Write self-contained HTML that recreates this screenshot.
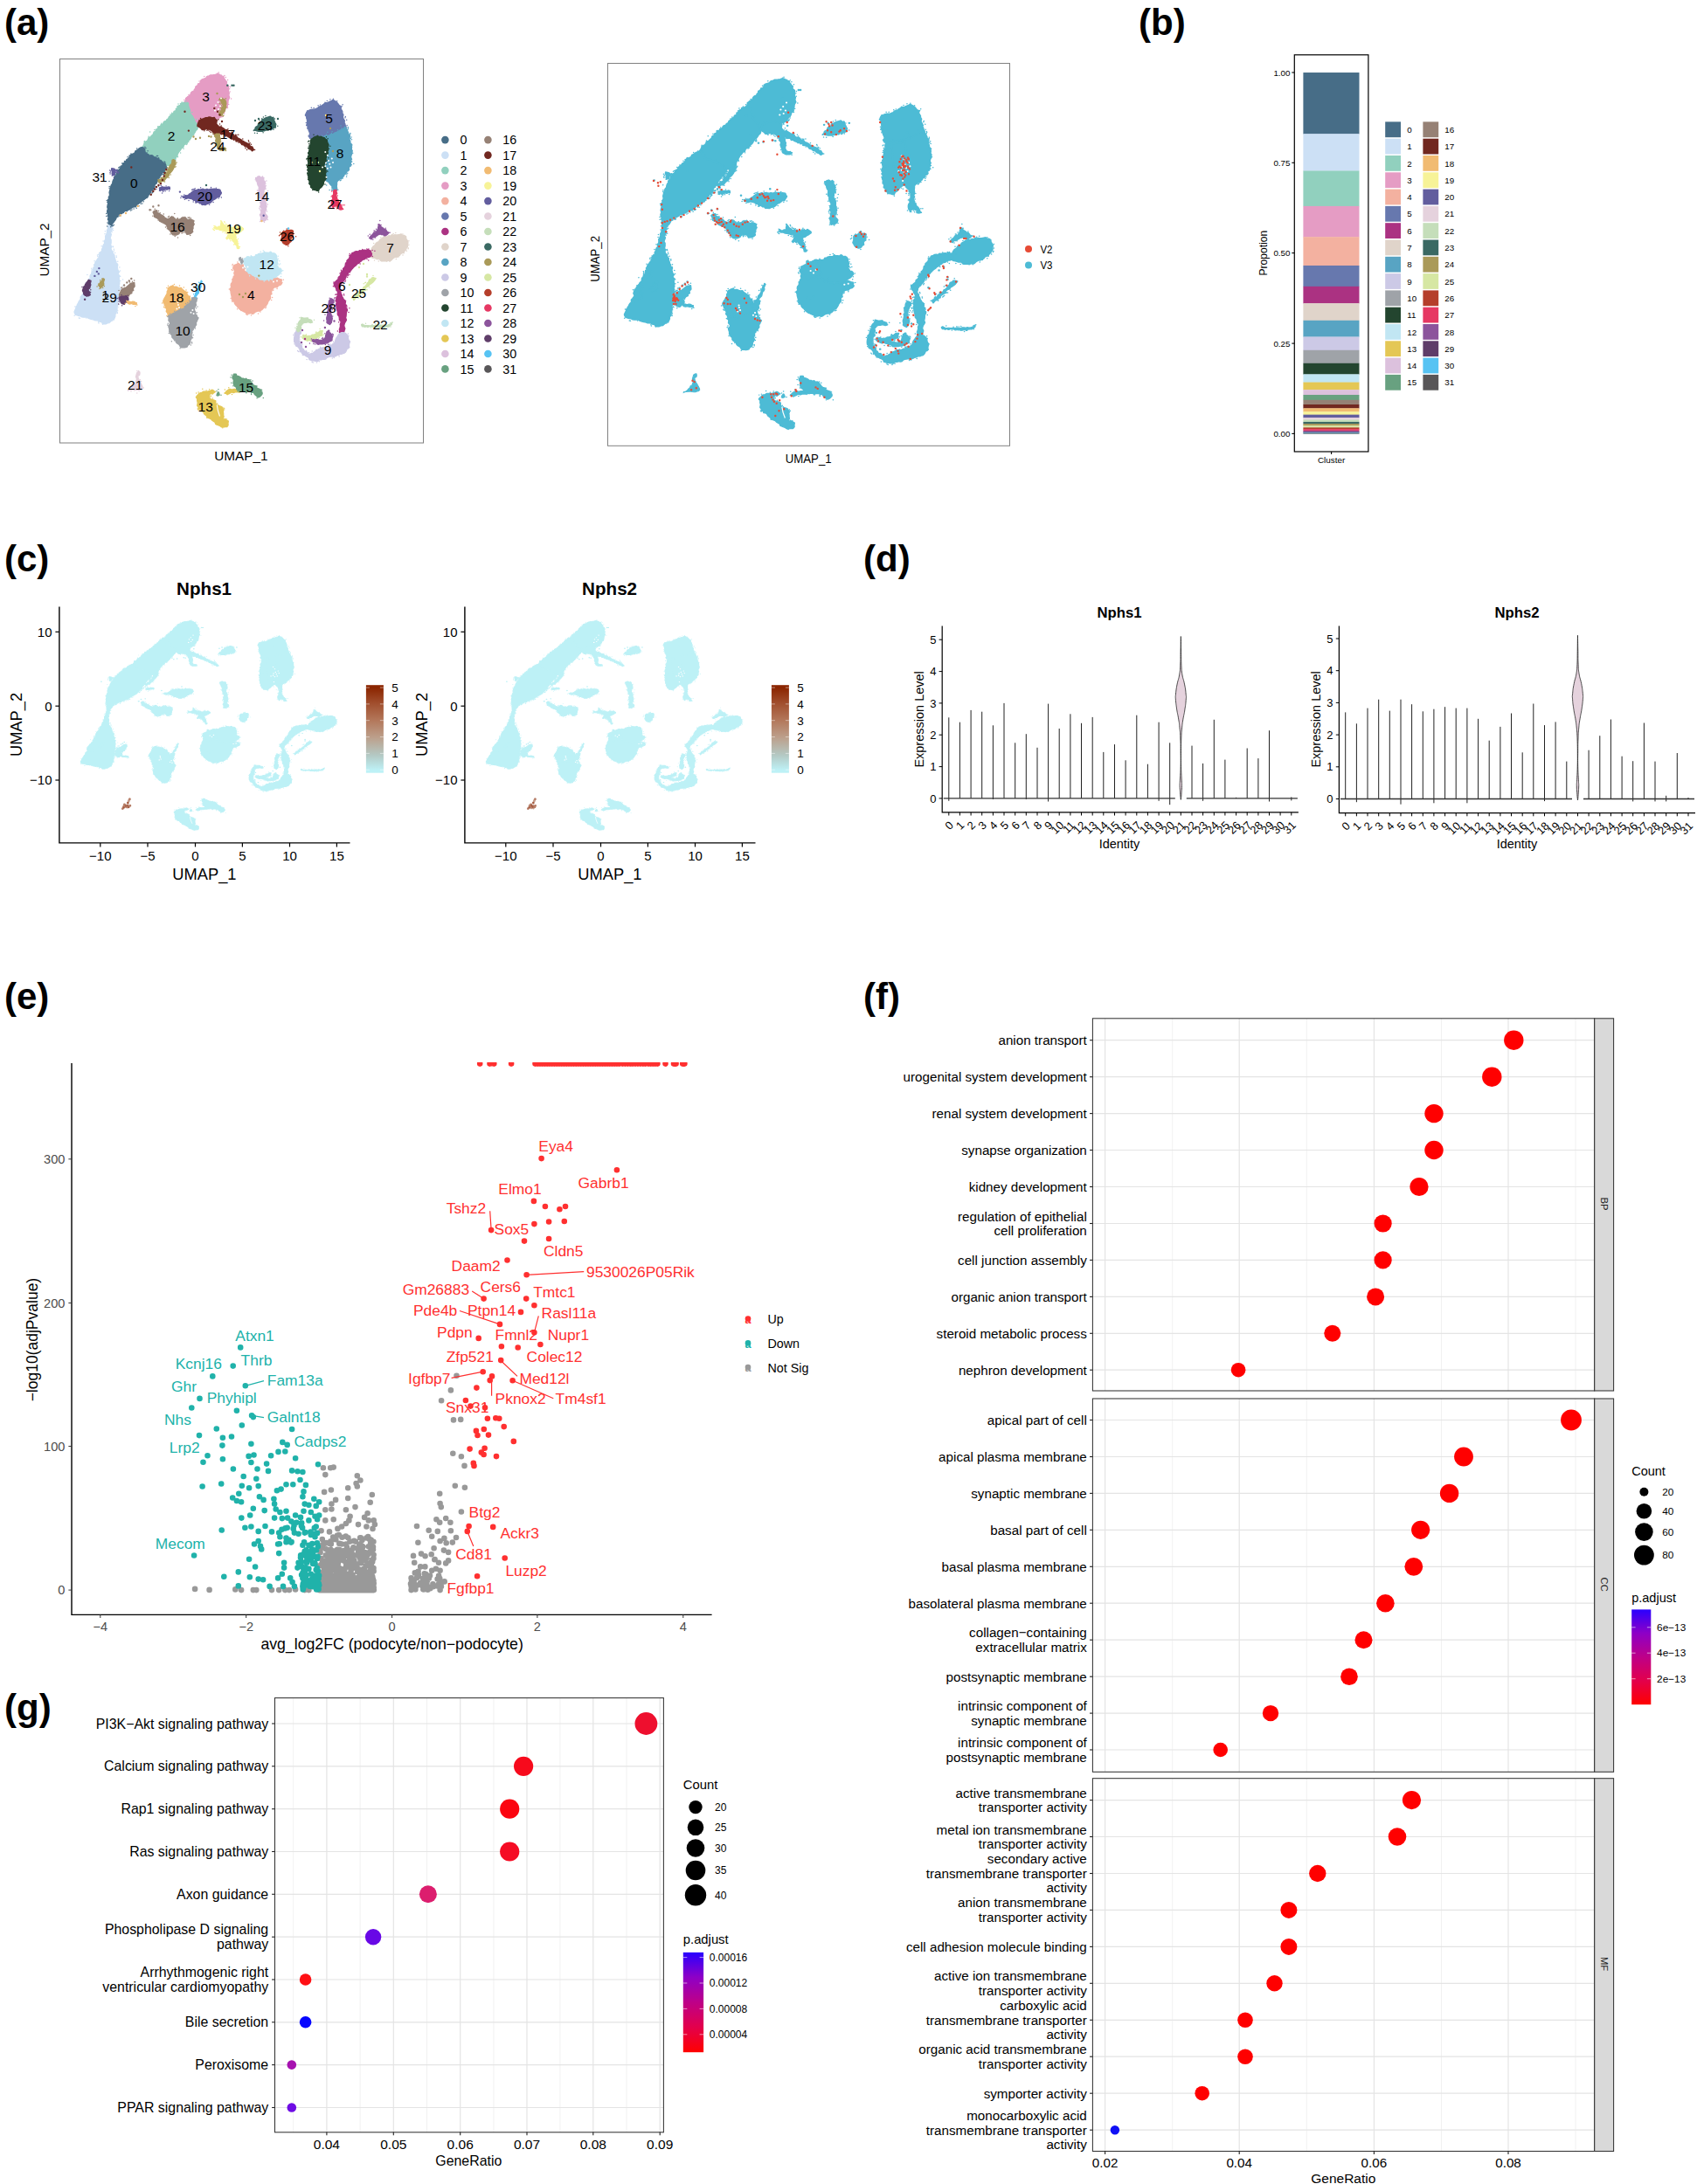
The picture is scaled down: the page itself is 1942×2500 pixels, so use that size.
<!DOCTYPE html>
<html><head><meta charset="utf-8"><title>Figure</title><style>html,body{margin:0;padding:0;background:#fff}svg{display:block}</style></head><body>
<svg width="1942" height="2500" viewBox="0 0 1942 2500" font-family="Liberation Sans, sans-serif">
<defs>
<path id="p0" d="M125.0 253.6l-0.6 1.3l0.1 1.5l-0.1 1.6l-0.7 1.7l-0.2 2.1l-1.1 2.1l0.2 2.2l-0.6 1.5l-0.5 1.4l-0.9 1.2l0.2 1.8l-0.1 2.1l-1.2 1.8l-0.0 1.6l0.3 1.3l-1.3 1.2l-0.5 1.5l-0.6 2.3l-0.9 1.7l0.2 1.9l-1.3 1.0l-0.9 1.1l-0.5 1.5l-0.5 1.6l-0.4 2.0l-1.5 1.9l-1.0 1.7l-1.1 1.4l-0.7 1.4l0.2 1.5l-1.1 1.1l0.4 1.6l-1.3 1.0l-0.2 1.6l0.0 2.0l-1.8 1.6l-0.3 2.1l-1.3 1.4l-0.4 1.6l0.4 1.6l-1.2 1.0l-1.0 1.0l0.3 1.7l-0.7 1.3l-1.5 1.3l0.2 2.3l-1.4 1.8l-0.3 1.9l-1.7 0.9l-0.3 1.4l-0.1 1.4l-0.0 1.5l-1.0 1.2l-1.0 1.5l-1.5 1.7l0.2 2.6l-1.4 1.5l-1.0 1.6l-0.5 1.6l-1.0 1.2l-0.3 1.5l-1.1 1.1l-0.1 1.5l-0.6 1.3l-1.3 2.9l0.1 1.0l0.7 1.3l0.6 1.3l2.7 0.8l1.5 0.4l1.5 0.3l1.5 0.9l1.6 0.3l1.9 -0.0l2.1 -0.2l2.1 1.5l2.0 0.7l1.8 0.5l1.6 0.3l1.5 0.6l1.3 0.4l1.6 -0.1l1.4 0.3l1.3 1.0l2.8 0.7l0.5 1.6l1.8 0.4l2.1 -0.0l1.7 -0.9l2.1 -0.3l1.7 -1.7l1.4 -1.2l1.2 -0.8l1.3 -0.7l0.7 -1.5l0.7 -2.0l-0.2 -2.1l1.2 -1.0l0.1 -1.4l0.5 -1.3l0.6 -1.8l-0.4 -2.7l1.0 -1.7l-0.6 -1.7l0.3 -1.5l1.1 -1.3l-0.5 -1.5l0.9 -1.5l-0.9 -1.7l0.2 -1.9l1.0 -2.1l-0.8 -2.2l1.0 -1.8l0.6 -1.5l-0.5 -1.5l0.3 -1.4l-0.9 -1.4l0.9 -1.5l-0.1 -1.7l-0.1 -2.0l-0.3 -2.4l-0.1 -1.9l0.8 -1.5l-1.5 -1.3l-0.2 -1.4l1.1 -1.9l-1.5 -2.0l-0.5 -2.0l-0.2 -1.7l0.5 -1.7l-0.2 -1.5l-1.7 -0.9l0.2 -1.6l-0.9 -1.3l-0.3 -1.8l-0.8 -2.5l-0.1 -2.0l-0.9 -1.3l-0.8 -1.3l-0.2 -1.7l-1.5 -1.2l-0.6 -2.5l1.1 -1.7l-1.3 -1.3l-0.0 -1.5l0.4 -1.6l0.0 -1.6l0.0 -1.8l-1.1 -2.0l0.8 -2.3l0.6 -2.0l-1.1 -2.1l1.2 -1.6l0.6 -1.6l-0.4 -1.7l0.1 -1.4l0.8 -1.3l-0.1 -1.3l-0.4 -1.2l-0.8 -3.2Z"/>
<path id="s0" d="M124.1 254.2h0M120.3 264.7h0M120.0 267.8h0M118.1 276.0h0M116.2 281.8h0M115.1 288.4h0M113.6 289.5h0M112.8 291.3h0M111.5 291.9h0M111.8 293.4h0M108.1 298.8h0M107.9 302.7h0M107.6 303.5h0M104.8 307.3h0M105.2 308.7h0M104.9 309.9h0M99.9 314.4h0M98.1 323.4h0M95.7 327.9h0M85.9 350.9h0M85.2 361.2h0M90.3 364.0h0M91.3 364.2h0M98.7 364.0h0M112.6 368.8h0M113.0 370.1h0M117.5 371.2h0M128.7 367.0h0M130.4 366.0h0M134.4 358.4h0M134.2 357.5h0M134.7 355.7h0M134.9 351.7h0M136.1 348.6h0M136.7 346.0h0M135.9 344.1h0M137.5 342.4h0M137.1 336.6h0M136.9 335.2h0M137.6 331.0h0M138.4 330.2h0M140.3 326.7h0M137.8 321.5h0M140.6 319.9h0M137.7 316.6h0M137.6 310.0h0M136.9 306.0h0M134.8 299.2h0M133.3 294.5h0M133.2 293.1h0M131.6 289.6h0M130.5 287.1h0M130.3 285.3h0M129.5 282.8h0M129.2 281.9h0M128.1 265.5h0M129.5 263.5h0M128.4 262.3h0M129.0 261.4h0M129.7 255.8h0" stroke-width="1.5" stroke-linecap="round" fill="none"/>
<path id="p1" d="M211.0 117.1l1.3 -1.7l0.3 -1.4l0.0 -1.5l1.2 -0.8l1.0 -1.1l1.4 -0.7l1.5 -1.1l0.7 -2.1l1.4 -1.8l2.1 -0.8l0.6 -1.8l1.3 -1.1l-0.0 -1.9l1.3 -0.9l1.2 -0.9l0.3 -1.6l1.8 -0.4l1.0 -1.2l0.3 -2.1l1.4 -1.2l2.4 -0.9l2.0 -0.6l1.0 -1.6l1.4 -0.8l1.4 -0.2l1.3 -0.9l1.6 -0.1l1.8 -0.1l2.5 -0.4l1.8 -0.7l1.4 0.1l1.5 0.4l1.7 1.3l1.6 0.7l1.5 0.5l0.1 1.9l1.1 0.9l0.7 1.6l1.6 1.7l-0.4 2.2l0.8 1.4l1.5 1.0l0.1 1.5l-0.3 1.5l0.3 1.5l-0.2 1.8l1.0 1.8l-0.5 2.2l0.3 1.6l0.6 1.4l-0.6 1.2l-0.7 1.2l-0.4 1.6l-0.1 2.1l-0.7 2.0l0.1 2.0l-0.9 1.4l-1.5 1.0l-0.3 1.7l-0.7 1.7l-1.6 1.4l-1.4 1.7l-0.7 1.4l-0.3 1.3l-1.0 0.9l-1.6 1.0l-2.6 0.9l-1.4 1.0l-1.6 0.8l-1.6 0.3l-1.5 1.2l-1.7 0.4l-1.8 -0.6l-1.8 -0.1l-1.4 0.9l-1.5 0.6l-1.5 0.6l-1.5 -0.1l-1.7 -0.3l-2.7 2.3l-0.6 -0.4l-0.4 -1.2l-1.5 -0.5l-0.3 -1.3l-0.1 -1.6l-1.2 -1.1l-0.9 -1.6l-1.2 -1.7l-0.7 -2.3l-0.5 -2.0l-2.2 -0.8l-0.1 -2.0l-1.0 -1.4l-0.9 -1.3l-1.0 -1.1l-0.6 -1.3l-0.9 -1.2l-0.2 -1.6Z"/>
<path id="s1" d="M210.9 114.6h0M216.0 108.5h0M218.9 106.1h0M228.1 93.0h0M233.8 87.4h0M249.0 83.9h0M250.3 83.0h0M253.1 85.9h0M256.9 86.6h0M258.3 88.4h0M260.6 91.5h0M263.3 99.4h0M262.7 101.7h0M263.1 105.1h0M264.6 113.0h0M261.7 119.4h0M260.5 123.6h0M256.6 128.4h0M256.7 130.0h0M255.2 132.9h0M254.5 133.5h0M253.3 133.8h0M250.2 137.3h0M245.5 139.7h0M231.1 142.7h0M230.0 141.9h0M223.7 144.2h0M221.7 138.9h0M219.9 138.6h0M213.8 129.6h0M212.5 125.4h0M209.5 123.3h0M209.9 121.9h0" stroke-width="1.5" stroke-linecap="round" fill="none"/>
<path id="p2" d="M211.5 117.8l1.3 0.1l1.8 -0.6l1.0 1.2l-0.4 1.9l0.7 1.5l0.5 1.8l0.9 1.9l0.1 2.1l0.6 2.0l0.9 1.9l1.7 1.7l0.7 1.8l1.0 1.3l0.4 1.5l0.4 1.3l0.7 1.0l1.0 1.1l0.6 1.5l0.6 2.2l0.2 1.7l-0.5 1.4l-1.5 1.2l-1.2 2.4l-1.0 1.5l-1.6 1.0l-0.5 1.5l-1.1 1.2l-0.6 1.5l-1.0 1.6l-1.6 1.2l-1.2 2.0l-1.9 1.4l-1.7 1.1l-0.7 1.6l-0.4 1.6l-1.8 0.5l-0.9 1.4l-0.9 1.4l-1.3 1.5l-1.1 2.1l-0.8 1.6l0.2 1.4l-1.3 0.8l-0.7 1.2l-0.4 2.3l-2.2 1.1l-1.3 1.5l-1.1 1.6l-1.4 1.1l-1.4 1.0l-1.7 0.0l-1.3 0.9l-1.6 -0.7l-1.5 -0.5l-0.2 -1.9l-1.0 -1.8l-2.1 -1.3l-1.5 -1.5l-1.0 -1.5l-1.4 -0.6l-1.6 -0.5l-2.1 -0.6l-1.9 -0.8l-1.7 -0.8l-1.7 0.6l-1.2 -1.5l-2.2 -0.1l-1.5 -1.9l-2.2 -0.1l-0.6 -1.7l-0.8 -1.3l0.3 -2.8l0.5 -1.3l0.8 -1.1l0.6 -1.3l0.4 -1.4l0.7 -1.2l1.4 -0.9l1.5 -0.8l0.8 -1.6l0.6 -1.9l2.1 -0.7l1.4 -1.6l1.7 -1.5l0.8 -2.5l2.0 -1.0l0.5 -2.1l1.9 -0.6l0.6 -1.5l1.0 -1.2l1.7 -0.3l0.2 -1.7l1.4 -0.5l1.3 -0.6l0.5 -1.7l1.0 -1.1l1.9 -0.4l0.8 -1.7l1.7 -1.0l0.9 -2.3l1.9 -1.2l1.2 -1.8l2.0 -1.1l0.6 -2.1l2.2 -0.7l0.0 -2.3l1.9 -0.7l0.3 -1.9l1.3 -0.9l1.6 -0.5l0.3 -1.6l1.1 -0.8l1.5 0.1l0.9 -0.8Z"/>
<path id="s2" d="M212.7 115.8h0M219.9 128.5h0M224.7 136.4h0M226.2 144.1h0M221.7 154.5h0M215.8 162.5h0M214.2 164.7h0M213.2 165.5h0M210.1 170.3h0M206.6 174.9h0M203.5 179.8h0M200.6 184.8h0M199.6 185.5h0M199.5 187.1h0M199.4 188.7h0M194.2 189.7h0M190.3 191.3h0M186.0 190.3h0M184.3 188.3h0M176.9 181.0h0M175.9 180.3h0M174.7 180.3h0M166.0 177.1h0M162.8 175.8h0M161.4 175.3h0M161.2 168.5h0M165.2 162.6h0M165.3 161.6h0M170.1 156.3h0M171.7 151.0h0M176.9 148.4h0M180.7 146.0h0M180.8 144.8h0M184.7 141.2h0M194.9 131.0h0M196.7 129.2h0M202.7 122.0h0M204.0 119.1h0M206.4 118.8h0M208.2 117.0h0" stroke-width="1.5" stroke-linecap="round" fill="none"/>
<path id="p3" d="M162.8 168.6l1.9 0.8l1.0 1.2l0.1 2.1l0.5 2.1l1.9 1.2l1.6 0.8l1.3 1.6l1.7 -0.7l1.7 0.2l1.7 1.8l2.2 0.2l1.2 1.3l1.5 0.4l1.1 1.2l2.1 0.8l1.5 1.8l1.5 1.3l1.7 0.4l0.6 1.4l0.4 1.8l0.8 1.5l-1.4 1.0l-0.4 1.3l-0.4 1.4l-0.6 1.5l-2.1 0.7l-0.7 1.9l-1.5 1.7l-1.2 1.6l-0.7 1.7l-1.0 1.2l-0.1 1.6l-1.2 0.9l-0.3 1.5l-1.4 0.9l-0.8 1.4l0.0 2.2l-1.4 2.1l-1.0 1.4l-1.7 0.5l-0.1 1.6l-1.2 1.0l-1.1 2.1l-1.6 1.4l-0.9 1.4l-1.0 1.1l-1.3 0.8l-1.1 1.0l-1.7 0.9l-1.6 1.7l-1.8 1.0l-1.3 1.1l-1.3 0.8l-0.9 1.2l-0.8 1.4l-1.9 -0.1l-1.6 0.7l-1.7 1.1l-1.8 1.4l-1.8 0.5l-1.2 1.3l-1.7 -0.5l-1.3 0.9l-1.3 1.1l-1.5 1.3l-2.6 0.4l-1.6 1.1l-0.2 2.1l-1.7 0.4l-0.5 1.6l-0.9 1.7l-1.6 2.1l-1.4 1.5l-0.6 1.2l-0.4 1.6l-1.6 -1.1l-1.9 -1.0l-0.1 -3.7l-0.9 -1.4l0.6 -1.5l-0.0 -1.3l-0.8 -1.3l0.7 -1.5l-1.0 -1.7l-0.2 -2.2l0.8 -2.5l-0.7 -2.0l0.3 -1.8l0.4 -1.7l0.4 -1.6l-0.5 -1.6l-0.0 -1.6l1.4 -1.4l-0.6 -1.7l1.2 -1.5l0.1 -1.8l-0.4 -2.0l0.6 -2.4l0.4 -1.8l0.5 -1.3l0.2 -1.1l0.3 -1.1l0.6 -1.2l1.0 -1.3l0.3 -2.3l0.7 -1.9l1.1 -1.4l-0.1 -1.7l0.7 -1.2l1.5 -0.8l0.2 -1.6l0.9 -1.4l0.5 -2.2l1.9 -1.7l1.3 -1.4l0.3 -2.0l1.7 -0.8l0.9 -1.2l0.2 -1.6l1.5 -0.6l0.8 -1.3l1.2 -0.8l0.6 -1.5l1.6 -0.8l1.3 -1.3l0.7 -2.1l1.8 -1.7l2.2 -0.8l1.8 -1.1l0.7 -2.1l1.5 -0.8l1.4 -0.8l1.0 -1.1l1.3 -0.6l1.2 -0.5Z"/>
<path id="s3" d="M165.9 168.2h0M166.9 169.4h0M169.1 172.7h0M168.0 174.8h0M179.4 178.6h0M180.6 178.4h0M181.2 180.8h0M181.9 181.3h0M188.0 184.9h0M188.9 185.8h0M191.0 192.4h0M189.4 197.5h0M187.6 197.4h0M187.9 199.2h0M186.7 199.8h0M184.2 203.2h0M181.3 213.0h0M175.2 218.9h0M174.6 220.4h0M173.9 221.0h0M172.2 222.5h0M169.5 225.2h0M168.2 226.6h0M164.2 230.7h0M162.8 233.1h0M161.2 233.2h0M159.0 235.7h0M156.2 238.2h0M153.1 238.9h0M150.9 240.1h0M149.7 241.0h0M141.3 243.5h0M137.9 247.0h0M136.5 247.0h0M130.3 257.6h0M129.2 258.4h0M128.0 258.8h0M126.7 259.7h0M122.7 259.1h0M124.1 256.2h0M123.0 254.9h0M121.8 247.4h0M121.7 244.5h0M122.8 231.4h0M122.2 229.4h0M125.1 215.2h0M125.2 213.6h0M125.0 207.6h0M131.6 199.4h0M132.7 197.8h0M134.2 194.3h0M135.7 191.9h0M136.7 191.2h0M139.6 187.0h0M142.4 184.6h0M146.1 179.7h0M148.1 178.1h0M149.6 177.5h0M150.0 175.9h0M156.7 169.9h0" stroke-width="1.5" stroke-linecap="round" fill="none"/>
<path id="p4" d="M350.7 128.8l1.0 -1.7l1.6 -0.4l1.3 -0.8l1.7 -0.5l2.2 -0.2l2.3 -0.2l1.5 -0.8l1.4 -0.6l1.4 -1.5l2.3 -0.6l1.6 -1.3l1.4 -1.0l1.2 -0.9l1.3 -0.7l1.9 0.2l1.4 -0.9l2.1 -0.9l1.2 -0.5l1.2 -1.0l1.7 0.5l1.7 1.1l1.3 0.9l1.2 1.4l1.5 2.2l1.9 1.0l-0.1 1.8l0.4 1.4l0.7 1.4l0.8 1.5l0.0 1.8l1.1 1.8l-0.6 2.6l0.6 1.7l0.8 1.5l0.7 1.3l-0.5 1.6l0.8 1.5l0.6 2.6l0.8 1.0l-0.1 1.4l-0.8 1.1l-1.3 0.5l-1.3 0.8l-1.7 1.0l-2.2 0.7l-2.2 0.0l-1.2 1.7l-1.5 0.5l-1.8 -0.3l-1.5 1.0l-2.0 0.5l-1.9 1.0l-1.3 1.1l-1.7 -0.0l-0.7 1.7l-1.8 0.1l-2.3 0.3l-1.4 -1.1l-1.8 -0.1l-2.0 -0.3l-2.5 0.2l-1.6 1.8l-1.8 0.6l-1.4 -0.8l-1.7 -0.2l-0.6 -1.5l-0.0 -1.7l0.6 -1.9l-0.5 -2.0l-0.9 -2.1l-0.5 -2.1l-0.7 -1.5l0.0 -1.5l-1.0 -1.2l0.6 -1.8l0.0 -2.1l-0.2 -2.1l-0.7 -1.8l0.2 -1.6l-1.5 -1.5l0.7 -1.5Z"/>
<path id="s4" d="M351.9 126.7h0M356.3 123.3h0M359.1 123.4h0M364.1 120.7h0M366.5 119.9h0M372.0 117.3h0M374.3 115.4h0M377.9 113.8h0M381.4 113.3h0M385.7 115.7h0M392.1 119.7h0M391.1 121.6h0M390.6 122.9h0M395.3 133.5h0M395.0 134.8h0M396.7 137.3h0M397.1 143.5h0M380.0 154.4h0M379.4 156.1h0M377.8 155.9h0M376.6 156.0h0M374.7 158.2h0M371.1 158.5h0M363.6 157.3h0M360.3 161.3h0M353.3 156.3h0M353.1 155.2h0M351.6 147.0h0M350.6 143.5h0M350.3 140.4h0" stroke-width="1.5" stroke-linecap="round" fill="none"/>
<path id="p5" d="M395.9 146.6l0.7 1.0l0.7 1.2l0.4 1.4l0.8 1.4l0.2 1.7l1.7 1.6l-0.2 2.1l-0.3 2.3l0.9 2.2l0.1 2.2l1.5 1.6l-0.3 1.6l0.5 1.3l-0.3 1.4l0.0 1.4l0.9 1.5l-0.4 1.8l-0.2 2.2l-1.0 2.1l0.1 1.9l0.8 1.7l-1.1 1.4l0.7 1.6l-1.0 1.3l0.4 1.7l-0.4 1.7l-1.8 1.4l0.1 2.5l-0.8 1.7l-1.7 0.7l-0.6 1.1l-0.3 1.6l-1.8 0.6l-0.7 1.9l-1.7 1.6l-0.9 1.7l-2.0 0.1l-1.0 1.2l-1.4 0.9l-1.0 1.8l-0.0 2.5l-0.3 1.9l0.3 1.7l0.1 1.7l-0.5 1.8l-2.9 -0.3l-0.7 -1.6l-1.5 -1.0l-0.0 -2.2l-1.7 -1.6l-1.3 -1.5l-0.6 -1.6l-1.5 -0.6l-1.6 -1.2l-1.3 -1.4l-0.9 -0.9l-1.7 -0.4l0.3 -2.8l-1.8 -1.3l0.8 -1.7l-0.0 -1.6l-1.3 -1.6l1.1 -1.7l-0.6 -2.0l0.2 -2.4l-0.9 -2.2l0.0 -1.8l0.2 -1.5l1.2 -1.4l-1.1 -1.5l0.9 -1.8l0.3 -2.2l-0.0 -2.4l-1.0 -1.9l0.0 -1.7l0.2 -1.6l0.4 -1.6l-1.0 -1.6l1.1 -1.8l-0.1 -3.0l-0.1 -1.3l0.3 -2.3l2.1 0.0l0.7 -1.7l1.6 -0.2l1.7 -0.0l2.0 -0.1l1.8 -1.6l2.4 0.1l1.4 -1.1l1.4 -0.9l1.4 -0.5l1.5 -0.7l1.7 -0.9l2.0 -1.2l2.1 -0.9l1.4 -0.8l0.9 -1.6Z"/>
<path id="s5" d="M398.2 145.6h0M398.4 146.7h0M398.1 148.0h0M400.9 152.4h0M400.8 153.6h0M402.1 157.1h0M401.3 158.6h0M402.5 159.8h0M402.9 165.9h0M403.7 175.2h0M402.7 185.0h0M404.8 187.4h0M402.3 188.8h0M400.8 190.6h0M399.5 194.5h0M397.7 198.2h0M396.9 199.9h0M396.6 202.3h0M392.3 204.1h0M390.0 206.3h0M389.2 206.7h0M386.8 217.3h0M380.7 217.9h0M379.7 217.2h0M377.1 217.4h0M373.7 212.1h0M370.3 205.5h0M366.3 204.7h0M366.8 197.9h0M366.8 191.7h0M367.1 190.4h0M367.2 180.1h0M366.1 179.0h0M367.2 173.9h0M365.3 171.7h0M366.0 167.0h0M365.9 165.0h0M368.3 155.3h0M373.5 154.1h0M374.9 151.3h0M379.4 152.6h0M380.1 150.8h0M386.5 148.7h0M391.0 146.8h0M390.0 144.1h0" stroke-width="1.5" stroke-linecap="round" fill="none"/>
<path id="p6" d="M356.3 159.3l1.5 -1.0l1.4 -1.1l1.9 -0.8l2.3 -0.7l2.4 0.9l1.7 -0.3l1.5 0.9l2.1 0.4l1.4 1.7l1.7 0.8l0.2 2.0l0.8 2.0l0.8 1.8l-0.3 1.5l-0.6 1.6l0.4 2.5l-0.8 1.8l-0.6 1.6l0.6 1.6l-1.0 1.4l-0.1 1.6l-0.6 1.9l0.1 2.5l-0.3 1.5l-1.5 1.2l-0.3 2.4l0.7 1.8l0.8 1.4l0.2 1.4l-0.3 1.7l0.8 1.6l-0.9 2.1l0.5 2.0l0.4 1.8l-0.9 1.3l0.1 1.6l-1.3 1.2l-0.7 1.8l-0.3 2.4l-1.1 1.6l-0.9 1.2l-1.2 1.1l-1.4 0.9l-1.0 2.6l-1.7 -0.1l-1.8 -0.8l-2.1 -0.2l-1.2 -1.4l-2.2 -1.7l0.2 -2.1l-1.0 -0.9l-1.0 -1.2l0.5 -2.0l-1.0 -2.8l-0.4 -1.6l0.2 -1.7l-0.7 -1.4l-0.0 -1.4l0.8 -1.6l-0.3 -1.4l-1.1 -1.6l1.1 -1.7l-1.2 -1.8l0.5 -2.1l0.8 -2.3l-0.3 -1.9l-0.4 -1.7l0.2 -1.5l0.2 -1.4l-0.2 -1.4l1.5 -1.3l-1.3 -1.8l0.8 -1.7l0.7 -2.5l-0.3 -2.0l1.1 -1.3l-0.9 -1.4l1.3 -1.2l0.1 -1.6l-0.2 -2.5l0.3 -1.0Z"/>
<path id="s6" d="M359.0 154.3h0M363.4 155.3h0M373.4 156.8h0M375.1 158.8h0M377.9 167.3h0M376.5 170.2h0M375.5 172.7h0M375.4 174.8h0M375.3 175.7h0M375.9 180.8h0M374.9 183.5h0M373.7 187.8h0M373.8 195.3h0M374.9 196.3h0M373.5 204.4h0M372.0 210.9h0M364.7 220.0h0M357.8 217.5h0M352.6 205.4h0M351.7 198.7h0M351.9 197.8h0M350.7 189.0h0M350.8 182.1h0M351.6 181.3h0M352.6 175.0h0M352.7 169.8h0M353.2 168.0h0M353.7 164.8h0M352.7 162.2h0M353.4 161.3h0" stroke-width="1.5" stroke-linecap="round" fill="none"/>
<path id="p7" d="M382.2 217.6l2.9 -0.2l-0.3 1.9l0.7 1.8l-0.9 2.0l0.4 2.2l0.8 1.7l-0.2 1.4l1.3 0.9l0.5 2.2l1.6 1.5l1.2 1.6l0.7 1.8l0.4 1.7l1.4 1.3l-2.9 0.7l-1.1 -1.6l-0.8 -1.6l-1.6 -0.9l-1.5 -0.5l-2.6 0.7l-1.1 2.3l-0.3 -1.8l-1.1 -1.2l-0.4 -1.9l-0.1 -2.1l0.5 -2.2l1.2 -1.5l-0.4 -2.6l1.0 -2.1l0.3 -2.0l-0.2 -1.8Z"/>
<path id="s7" d="M385.6 221.6h0M386.2 223.9h0M386.9 228.7h0M392.3 234.8h0M394.1 234.8h0M388.3 239.7h0M387.6 238.7h0M385.7 238.8h0M384.9 237.1h0M382.3 238.5h0M378.4 236.9h0M379.2 225.0h0M380.2 223.8h0M379.6 219.1h0" stroke-width="1.5" stroke-linecap="round" fill="none"/>
<path id="p8" d="M290.6 149.1l1.2 -1.2l0.6 -2.3l2.6 -1.5l0.6 -2.4l1.1 -1.3l2.3 -0.9l0.7 -2.5l1.8 -0.5l2.0 -1.3l2.0 -0.8l1.9 -0.6l1.9 -0.6l1.5 1.2l2.1 0.4l0.3 1.9l0.9 2.0l0.9 2.0l0.8 1.6l-0.4 1.5l-0.3 1.8l-2.6 1.4l-1.9 0.5l-2.1 -0.4l-1.4 1.9l-2.4 -0.2l-1.8 0.9l-1.3 0.0l-1.2 0.7l-1.9 -0.4l-2.4 0.3l-2.2 -0.4l-1.6 -0.7Z"/>
<path id="s8" d="M290.3 149.4h0M296.9 137.5h0M299.8 135.7h0M301.4 134.1h0M303.9 132.6h0M312.5 134.2h0M314.4 136.1h0M317.8 144.3h0M315.4 146.1h0M313.0 148.3h0M310.7 148.6h0M309.6 148.7h0M301.1 151.7h0M294.3 152.6h0M291.5 152.3h0" stroke-width="1.5" stroke-linecap="round" fill="none"/>
<path id="p9" d="M293.7 204.0l1.1 -1.7l2.0 -0.5l1.9 1.5l2.2 -0.5l0.6 1.7l0.4 2.2l1.7 1.5l-0.6 1.7l-0.1 1.8l0.7 2.4l-0.7 2.1l-0.9 1.5l0.1 1.7l-0.5 2.1l1.2 2.1l0.3 1.5l0.8 1.6l0.0 2.3l-0.1 2.3l0.8 1.6l-0.1 1.6l0.6 2.0l-0.8 1.9l0.4 1.7l-0.8 1.1l-0.7 1.6l0.5 2.2l1.3 1.2l1.1 1.6l-0.5 2.3l-1.4 1.7l-2.2 1.4l-2.0 -0.8l-1.7 -0.4l0.4 -2.0l-0.3 -2.2l-1.0 -1.8l0.9 -1.4l0.7 -1.4l-0.4 -1.7l0.5 -1.8l0.2 -1.3l-1.5 -1.8l0.8 -2.0l-0.5 -1.7l0.9 -1.6l0.4 -2.3l-1.2 -2.1l-0.7 -1.4l-0.3 -1.7l0.1 -2.3l-1.2 -1.9l-0.2 -1.5l0.3 -1.7l0.2 -2.5l-1.2 -1.8l-0.6 -1.9l-0.2 -1.8l-1.2 -1.4l0.5 -1.6Z"/>
<path id="s9" d="M300.4 202.1h0M302.0 203.8h0M304.9 207.0h0M303.9 210.4h0M304.4 212.7h0M303.9 215.5h0M303.9 216.7h0M306.6 218.4h0M305.8 222.3h0M303.8 223.5h0M303.6 225.4h0M305.5 225.8h0M306.4 234.1h0M305.5 241.9h0M306.4 251.5h0M302.5 254.2h0M297.7 253.5h0M297.3 240.1h0M296.8 238.2h0M297.4 236.6h0M297.6 231.4h0M296.2 226.2h0M296.1 219.3h0M294.4 218.0h0M292.3 205.7h0" stroke-width="1.5" stroke-linecap="round" fill="none"/>
<path id="p10" d="M322.6 267.1l1.2 -1.9l2.7 -0.5l1.8 -1.3l2.2 0.2l1.7 -0.2l1.5 0.0l1.8 1.0l-0.4 2.0l-0.0 2.7l-0.2 2.0l-1.5 1.4l-0.7 1.5l0.4 2.4l-2.0 1.4l-0.5 1.2l-1.2 1.0l-1.9 0.4l-1.5 -1.0l-1.7 -0.8l-0.9 -1.4l-0.5 -1.2l-1.1 -1.9l0.6 -2.0l0.2 -1.7l0.1 -1.6Z"/>
<path id="s10" d="M320.5 266.1h0M324.7 264.3h0M328.2 262.1h0M336.3 267.5h0M338.6 270.8h0M335.1 271.4h0M329.9 281.8h0M319.5 269.8h0M320.5 268.7h0" stroke-width="1.5" stroke-linecap="round" fill="none"/>
<path id="p11" d="M95.2 330.3l0.6 -1.9l1.3 -1.0l0.6 -2.1l1.4 -1.9l1.2 -1.4l1.1 -1.6l2.6 1.1l-0.2 1.3l-0.5 1.4l0.5 1.9l-0.7 1.8l-0.4 2.1l-1.6 1.0l0.1 1.9l1.6 1.6l-0.0 2.3l0.6 0.6l-2.0 1.4l-1.6 -0.3l-2.1 -0.1l-1.8 -1.5l-0.4 -2.3l-1.0 -1.9Z"/>
<path id="s11" d="M94.0 328.6h0M103.8 331.8h0M103.6 334.4h0M99.2 339.3h0" stroke-width="1.5" stroke-linecap="round" fill="none"/>
<path id="p12" d="M136.5 337.8l0.5 -1.5l0.7 -1.4l0.9 -2.5l1.1 -1.4l1.6 -0.5l1.1 -1.0l1.7 -0.2l1.4 -1.3l2.0 -1.8l1.3 -1.2l1.6 -0.8l3.3 -0.7l0.2 2.1l0.2 2.2l-1.8 2.3l0.4 2.4l-1.8 1.0l-0.1 2.0l-2.0 0.8l-1.3 1.8l-1.5 0.4l-2.1 0.0l-1.6 2.0l-1.6 0.4l-1.5 -1.2l-2.1 -0.1Z"/>
<path id="s12" d="M136.1 332.6h0M138.7 329.3h0M139.9 329.1h0M148.5 322.9h0M151.5 322.3h0M153.7 321.0h0M147.5 339.0h0M136.5 342.0h0" stroke-width="1.5" stroke-linecap="round" fill="none"/>
<path id="p13" d="M136.2 340.1l1.8 -0.3l2.0 -0.5l2.0 0.0l2.2 -0.7l2.3 1.6l0.5 2.6l-0.9 2.3l-2.3 1.1l-1.5 2.1l-2.0 -0.5l-1.8 -1.2l-1.0 -2.4l-1.3 -2.2Z"/>
<path id="s13" d="M139.0 337.7h0M146.3 338.2h0M145.6 346.3h0M139.6 349.8h0M135.7 348.0h0M136.1 345.0h0M134.2 341.6h0" stroke-width="1.5" stroke-linecap="round" fill="none"/>
<path id="p14" d="M144.8 344.3l1.8 0.7l1.6 0.1l1.7 0.7l2.0 -0.7l1.8 0.3l1.4 1.1l1.2 0.1l-0.2 2.1l-1.7 -0.6l-1.9 0.2l-1.9 -0.9l-2.2 0.6l-1.8 -0.6l-0.8 -1.2Z"/>
<path id="s14" d="M156.9 349.1h0M154.9 350.4h0M143.3 347.3h0" stroke-width="1.5" stroke-linecap="round" fill="none"/>
<path id="p15" d="M113.4 327.4l-0.9 -1.4l1.9 -1.1l0.5 -2.4l2.2 -1.3l-0.2 -2.3l1.5 0.0l1.0 0.8l-0.4 1.5l-0.6 1.7l0.4 2.5l-1.1 2.0l-1.5 1.1l-1.0 1.4Z"/>
<path id="s15" d="M111.1 328.0h0M113.1 324.6h0M114.7 320.8h0M119.4 327.4h0M117.7 329.4h0M113.9 330.4h0" stroke-width="1.5" stroke-linecap="round" fill="none"/>
<path id="p16" d="M186.9 344.0l0.7 -1.4l0.6 -1.3l0.9 -1.4l1.1 -2.1l1.1 -1.9l-0.1 -2.1l1.0 -1.7l-0.0 -2.0l1.6 -1.3l1.9 -1.1l1.7 -0.5l1.8 1.2l2.3 -0.2l2.2 1.0l1.6 0.6l2.0 -0.3l1.4 1.9l1.7 1.2l1.3 1.1l1.7 0.8l0.7 2.0l1.2 2.1l1.3 1.1l0.9 1.7l0.8 2.1l-0.2 2.0l-1.5 0.8l-0.7 1.4l-1.8 1.4l-1.5 1.2l-1.3 0.9l-0.4 1.8l-1.6 1.6l-2.5 -0.3l-1.7 0.6l-1.7 0.5l-1.9 1.1l-1.9 1.7l-1.2 1.4l-1.7 1.0l-2.2 1.4l-2.1 0.1l-0.2 -2.0l-0.4 -1.7l-1.5 -1.9l0.5 -2.6l-1.3 -1.8l-0.0 -1.7l-1.2 -1.0l-0.1 -1.7l-1.3 -1.7Z"/>
<path id="s16" d="M190.9 329.5h0M192.5 327.2h0M198.0 326.8h0M199.4 325.6h0M205.5 326.9h0M210.3 328.9h0M213.0 332.0h0M214.7 334.5h0M217.3 338.9h0M217.5 340.0h0M215.9 352.1h0M213.8 351.5h0M209.7 355.1h0M205.0 356.6h0M204.0 356.5h0M200.5 359.3h0M199.4 360.6h0M195.4 362.1h0M190.9 361.6h0M188.2 352.0h0M187.6 351.2h0M185.6 347.0h0" stroke-width="1.5" stroke-linecap="round" fill="none"/>
<path id="p17" d="M192.8 361.5l1.4 -0.5l2.5 -0.1l1.1 -2.0l1.8 -0.7l2.0 -1.4l1.9 -0.8l1.6 -1.2l1.6 -0.6l2.2 -0.4l2.0 -0.8l0.6 -1.7l1.2 -0.9l1.1 -1.6l2.0 -0.8l1.1 -0.8l0.8 -2.0l2.1 -1.5l-0.2 -2.6l2.1 -0.4l1.9 -0.4l2.1 1.0l-0.6 1.7l-0.1 1.7l-1.2 1.8l0.6 2.6l-1.0 2.0l-1.0 1.5l0.0 1.7l0.7 2.1l0.8 1.6l-0.2 2.0l1.5 0.8l0.1 1.7l1.7 1.4l-1.1 2.2l-0.5 1.4l-1.0 1.5l0.2 2.8l-1.3 1.5l-0.3 1.6l-1.7 0.6l-0.1 1.7l-1.6 1.6l0.4 2.2l-0.8 1.6l-0.2 1.5l0.8 1.7l-0.9 2.0l-1.2 1.8l0.1 1.8l-0.4 1.4l-0.7 1.4l-1.7 0.8l-1.0 2.1l-1.7 0.4l-1.4 0.4l-1.9 -0.2l-2.1 0.0l-0.9 -1.6l-1.0 -1.7l-2.4 -1.4l-1.3 -1.6l-0.5 -1.9l-1.4 -1.0l-1.3 -1.1l-1.2 -1.3l-0.1 -2.3l-1.6 -1.6l-0.6 -1.5l-0.8 -1.0l0.1 -1.5l-0.2 -1.8l-0.7 -2.1l-0.1 -1.7l1.7 -1.4l-0.0 -2.2l-1.7 -2.2l0.3 -2.1l-0.2 -1.7Z"/>
<path id="s17" d="M194.7 359.3h0M196.2 359.5h0M199.7 356.3h0M206.2 353.2h0M211.4 350.7h0M212.6 347.6h0M214.8 346.4h0M216.6 344.3h0M219.6 341.1h0M226.0 350.9h0M224.6 352.8h0M225.3 357.7h0M223.3 375.9h0M221.1 383.5h0M220.6 386.8h0M219.6 391.8h0M219.7 393.0h0M218.4 394.9h0M206.1 398.7h0M199.5 389.8h0M196.4 390.7h0M193.3 381.6h0M191.6 371.9h0M192.3 370.2h0M191.8 362.4h0" stroke-width="1.5" stroke-linecap="round" fill="none"/>
<path id="p18" d="M222.4 339.3l1.0 -1.3l0.1 -1.4l0.6 -1.5l1.3 -1.4l1.1 -2.2l0.7 -2.0l0.7 -1.9l0.4 -1.9l0.5 -1.7l1.2 -1.2l0.2 -1.6l1.0 1.0l-0.5 1.0l-0.5 1.3l-0.6 1.4l0.5 1.9l-0.6 1.7l-1.4 1.4l-0.4 1.9l-0.5 2.7l-1.4 1.6l-0.9 1.1l-0.4 0.9Z"/>
<path id="s18" d="M221.6 336.8h0M224.5 329.3h0M226.3 328.7h0M226.6 327.5h0M227.6 323.2h0M224.6 341.0h0" stroke-width="1.5" stroke-linecap="round" fill="none"/>
<path id="p19" d="M156.7 426.7l1.5 -1.1l1.4 -0.2l0.4 1.4l-0.3 2.3l-2.0 1.2l0.4 2.5l0.6 1.3l0.6 1.5l0.9 1.4l0.8 1.6l0.8 1.6l1.1 2.3l0.1 1.7l-1.4 1.4l-1.4 0.1l-1.5 0.7l-1.8 0.2l-1.8 -0.3l-1.8 -0.5l-1.8 0.3l-3.0 0.2l-1.6 0.5l-0.5 0.3l0.2 -1.0l1.8 -0.2l1.7 -1.2l1.3 -2.0l1.6 -1.4l0.5 -1.7l1.6 -1.0l0.7 -1.9l0.5 -2.0l0.2 -1.4l-1.0 -1.8l0.5 -2.0l0.4 -1.5Z"/>
<path id="s19" d="M156.9 424.4h0M158.6 424.4h0M160.3 434.8h0M161.6 436.4h0M164.3 443.9h0M159.1 447.5h0M156.8 450.0h0M153.7 447.0h0M150.0 447.9h0M147.8 445.0h0M148.3 443.5h0M151.0 439.5h0M152.7 438.6h0" stroke-width="1.5" stroke-linecap="round" fill="none"/>
<path id="p20" d="M226.8 451.7l1.0 -1.3l1.4 -0.6l1.6 -0.2l1.8 -1.4l2.5 0.1l2.2 -0.1l1.9 -0.4l1.7 -0.7l1.6 -0.8l1.4 0.3l0.7 0.9l1.7 0.9l-2.3 1.8l-2.3 0.0l-1.7 1.2l-0.7 1.2l0.2 1.5l0.7 2.3l2.4 0.9l2.4 0.8l1.8 0.9l-0.1 1.3l0.1 1.6l1.2 1.5l0.8 1.4l1.9 -0.2l1.7 0.5l1.6 0.8l0.8 1.8l1.2 1.6l-0.7 1.8l0.3 2.0l0.0 1.9l0.3 2.1l-0.7 1.6l0.7 1.7l2.1 0.2l1.7 0.5l1.6 1.1l-0.4 2.4l0.2 2.1l-1.3 1.8l-1.7 -0.1l-1.3 0.3l-1.6 0.1l-1.9 -0.0l-1.9 -1.5l-1.8 -0.6l-1.5 -0.7l-1.4 -0.6l-0.5 -1.9l-1.5 -1.1l-2.0 -1.3l-1.3 -1.6l-1.7 -0.6l-1.3 -0.6l-1.3 -0.6l-0.6 -1.5l-1.2 -1.1l-1.5 -1.2l-1.1 -2.2l-1.5 -1.0l-1.9 -0.2l-0.1 -1.8l-2.0 -0.4l-0.1 -2.1l-1.4 -1.9l0.3 -1.8l0.3 -1.5l-0.6 -2.2l0.1 -2.3l-1.4 -1.8l1.1 -1.6Z"/>
<path id="s20" d="M224.6 449.9h0M227.1 448.9h0M231.8 445.3h0M236.1 447.1h0M239.6 445.7h0M243.0 451.3h0M241.1 452.9h0M241.2 453.9h0M243.4 456.0h0M248.7 462.1h0M249.7 463.7h0M255.9 466.9h0M256.8 468.1h0M255.8 476.4h0M257.0 479.3h0M257.8 480.1h0M259.1 479.8h0M254.8 489.7h0M236.9 478.2h0M226.8 469.0h0M226.2 468.1h0" stroke-width="1.5" stroke-linecap="round" fill="none"/>
<path id="p21" d="M257.0 450.1l1.3 -1.2l1.0 -1.3l2.0 -1.4l1.7 -0.9l1.9 0.6l1.7 -0.1l1.8 -0.4l1.6 0.2l2.9 0.8l0.2 2.1l-1.8 0.2l-1.8 -0.1l-2.1 1.0l-2.5 -0.7l-1.9 1.4l-1.5 0.6l-1.3 0.8l-1.1 -1.1Z"/>
<path id="s21" d="M257.3 446.0h0M261.8 443.7h0M269.4 441.3h0M272.7 444.9h0M273.8 449.2h0M265.5 451.4h0" stroke-width="1.5" stroke-linecap="round" fill="none"/>
<path id="p22" d="M266.9 430.3l0.6 -2.2l2.7 -0.0l0.7 2.1l2.0 0.4l2.4 1.3l1.3 1.3l1.7 -0.1l1.5 1.0l1.8 -0.8l1.4 1.5l2.1 -0.1l1.6 1.5l0.7 1.4l1.0 0.8l0.8 1.6l1.9 1.5l2.1 0.5l0.7 2.1l1.6 0.7l1.6 0.7l1.3 0.8l0.3 1.7l1.2 0.8l0.2 2.1l-1.0 1.3l-1.5 1.7l-2.0 1.0l-1.3 -1.0l-1.3 -1.2l-1.6 -1.2l-1.0 -2.1l-2.1 0.0l-0.9 -0.8l-2.3 -0.5l-1.8 0.2l-1.7 0.7l-1.6 -1.2l-1.6 0.1l-1.8 0.5l-1.8 -0.3l-2.2 -1.8l-1.8 -0.6l-0.3 -2.4l-2.1 -1.3l-0.9 -2.0l-0.5 -1.7l0.3 -1.5l0.2 -1.9l-1.3 -1.9l-0.3 -1.6Z"/>
<path id="s22" d="M265.1 429.3h0M286.9 434.7h0M289.0 435.9h0M294.0 441.9h0M299.0 445.9h0M299.6 446.7h0M301.3 455.5h0M294.1 455.7h0M287.6 451.4h0M287.5 450.1h0M281.9 449.7h0M274.7 448.4h0M272.8 448.6h0M271.9 447.3h0M266.9 441.7h0M264.8 438.2h0M264.0 432.1h0" stroke-width="1.5" stroke-linecap="round" fill="none"/>
<path id="p23" d="M248.7 450.3l1.3 -1.5l0.7 1.3l0.4 2.0l-1.7 0.9l-1.4 -0.4Z"/>
<path id="s23" d="M248.0 447.8h0M249.9 445.8h0M253.0 452.2h0" stroke-width="1.5" stroke-linecap="round" fill="none"/>
<path id="p24" d="M244.7 260.6l0.4 0.0l1.4 -1.1l2.2 1.1l2.0 -1.5l2.0 -0.1l-0.0 -2.5l0.5 -2.3l-0.4 -1.5l0.9 1.1l0.8 1.3l1.1 1.8l1.9 1.1l1.1 1.5l1.1 0.7l1.7 -1.0l2.4 0.8l1.9 0.7l1.9 -0.4l1.8 -0.6l1.8 -0.4l1.9 0.8l1.6 -1.4l1.4 1.1l2.2 1.8l0.1 1.2l-1.4 1.0l-1.5 1.3l-1.8 1.1l-1.7 1.4l-1.8 0.1l-0.8 2.2l0.9 1.7l-0.6 1.8l1.6 1.3l0.6 1.7l-0.2 2.0l0.4 1.8l1.3 3.0l0.4 0.8l-1.2 0.5l-1.2 -0.4l-0.2 -1.8l-0.5 -1.6l-1.9 -1.0l-0.4 -1.9l-1.3 -1.2l-1.4 -1.8l-0.5 -1.1l-1.4 -0.9l-2.1 -0.6l-1.9 1.5l-1.0 -1.2l1.0 -1.0l0.8 -1.7l0.7 -1.9l-0.4 -1.5l-0.6 -1.3l-1.8 0.0l-2.0 -0.8l-2.7 -0.7l-2.1 -0.3l-1.9 -1.1l-2.1 0.1l-1.6 -0.6l-0.9 -1.0Z"/>
<path id="s24" d="M245.0 258.4h0M246.2 258.9h0M256.8 253.7h0M257.2 254.8h0M258.7 256.5h0M259.0 258.1h0M260.2 257.5h0M261.0 258.5h0M262.2 257.8h0M263.9 259.2h0M269.2 258.7h0M270.1 257.4h0M271.3 258.6h0M272.5 273.4h0M272.8 278.8h0M274.5 282.6h0M267.6 279.9h0M263.9 275.7h0M263.5 274.1h0M262.5 273.5h0M259.4 267.6h0M259.8 267.2h0M257.7 266.7h0M255.0 265.8h0M245.4 263.6h0M244.5 262.9h0M243.8 262.0h0" stroke-width="1.5" stroke-linecap="round" fill="none"/>
<path id="p25" d="M267.9 303.7l1.8 -0.7l1.4 -0.7l1.6 -1.0l1.7 1.3l1.8 0.1l2.3 0.5l-0.4 2.5l2.2 1.6l1.1 1.5l0.8 1.2l0.9 1.3l2.2 0.7l1.1 1.8l1.2 0.9l1.5 0.1l1.3 1.0l2.0 0.7l1.6 1.2l1.8 0.0l1.1 0.9l1.3 0.8l1.9 0.0l1.9 1.7l1.7 -0.5l1.5 -1.0l2.3 0.5l2.2 -0.5l1.6 -0.7l1.7 -0.4l1.9 0.2l2.3 -0.6l1.3 0.8l1.4 0.5l2.5 0.8l-0.5 2.3l0.6 2.1l-1.5 1.6l-2.5 0.9l-1.3 1.6l-1.7 0.1l-1.6 0.1l-1.4 1.2l-1.1 1.3l-0.5 1.2l-0.3 1.5l-0.0 2.4l-1.6 1.6l0.5 1.7l0.0 1.7l-1.0 1.5l-1.5 1.8l-0.6 1.8l-0.6 1.4l-0.9 1.1l-0.6 1.3l-1.6 0.7l-1.3 1.6l-1.4 1.6l-1.4 0.9l-1.3 0.9l-1.8 -0.1l-1.5 0.3l-1.7 0.8l-1.9 1.7l-1.6 0.6l-1.6 -1.0l-2.3 0.6l-2.1 -0.1l-1.4 -1.0l-1.5 -0.7l-1.6 -0.9l-2.1 -1.2l-1.8 -1.0l-1.2 -1.3l-1.1 -1.0l-0.8 -1.3l-1.4 -1.2l-1.3 -1.7l-0.5 -2.3l-2.0 -0.7l0.1 -1.8l-1.0 -1.2l0.0 -1.9l-0.5 -2.2l-0.5 -2.1l-0.1 -1.8l-0.6 -1.6l-0.1 -1.6l1.3 -1.5l-0.5 -1.9l0.2 -2.1l1.5 -2.0l0.2 -1.7l-0.2 -1.6l1.2 -1.0l0.0 -1.6l1.5 -1.9l-0.8 -2.4l0.8 -2.2l-0.8 -1.9l-1.1 -1.7l0.6 -1.6Z"/>
<path id="s25" d="M266.2 302.5h0M271.8 300.0h0M282.9 307.9h0M284.9 310.5h0M290.2 313.0h0M292.2 313.7h0M293.5 314.3h0M295.8 317.5h0M304.1 319.3h0M306.1 319.2h0M310.7 318.1h0M313.7 317.8h0M324.3 320.2h0M322.9 323.6h0M317.1 330.5h0M312.9 331.9h0M312.2 332.2h0M310.9 336.6h0M311.6 340.5h0M310.7 343.6h0M304.5 352.1h0M303.2 352.6h0M297.9 357.1h0M295.5 359.1h0M287.5 361.1h0M283.6 360.0h0M282.4 360.3h0M281.6 359.3h0M275.9 355.5h0M271.6 353.8h0M265.8 345.2h0M265.3 343.2h0M264.2 341.5h0M262.3 331.1h0M265.9 309.5h0M265.3 308.5h0M266.0 304.0h0" stroke-width="1.5" stroke-linecap="round" fill="none"/>
<path id="p26" d="M281.5 295.3l1.1 -1.3l1.7 -0.2l1.7 0.7l1.8 -0.9l2.3 0.6l1.9 -0.8l0.7 -1.7l1.6 0.0l1.2 -1.0l2.1 -0.5l1.9 -0.1l1.6 -0.3l1.4 -1.1l1.5 0.5l1.6 -0.1l1.8 0.4l2.8 -1.1l1.5 1.7l1.9 -0.3l1.7 1.1l1.1 1.8l0.2 1.4l0.2 2.3l1.0 1.7l-0.8 1.7l1.0 1.9l-1.5 1.6l1.3 1.6l0.9 2.0l1.9 0.2l1.3 1.4l0.4 2.1l-1.3 1.4l-1.1 1.7l-1.5 1.3l-1.4 0.9l-2.0 1.7l-2.1 0.3l-1.3 1.6l-2.0 -0.5l-2.0 1.4l-2.4 -0.7l-1.5 1.0l-1.6 -0.2l-2.1 -0.5l-2.0 0.1l-1.4 -0.7l-0.9 -1.4l-1.3 -1.0l-2.2 -0.1l-1.6 -1.3l-1.6 -0.5l-1.1 -1.1l-1.1 -1.0l-2.2 -0.0l-1.1 -2.1l-1.4 -1.0l0.3 -1.9l-0.5 -1.9l-1.0 -1.7l-0.6 -1.4l-1.0 -1.3l0.1 -1.7l0.0 -2.1l-0.0 -1.8Z"/>
<path id="s26" d="M287.3 292.8h0M298.2 287.9h0M301.2 286.9h0M302.4 287.9h0M309.2 288.2h0M318.2 293.3h0M318.2 296.2h0M319.8 298.7h0M320.7 302.1h0M319.1 302.9h0M323.8 309.7h0M322.0 313.5h0M321.5 316.5h0M311.4 320.6h0M307.8 321.4h0M302.2 321.9h0M292.5 319.1h0M285.6 315.8h0M281.9 310.6h0M279.8 306.9h0M275.8 302.6h0M278.1 297.6h0" stroke-width="1.5" stroke-linecap="round" fill="none"/>
<path id="p27" d="M274.0 295.1l1.4 -0.3l0.3 1.4l1.8 1.3l0.8 1.8l-0.7 1.4l-1.2 1.0l-0.9 -1.5l-0.2 -2.1l-1.6 -1.5Z"/>
<path id="s27" d="M277.6 296.0h0M273.8 298.1h0" stroke-width="1.5" stroke-linecap="round" fill="none"/>
<path id="p28" d="M423.2 288.6l0.6 -1.6l1.3 -1.0l0.4 -1.8l1.5 -2.1l1.6 -1.1l1.0 -1.3l0.7 -1.4l1.4 -0.9l1.8 -0.7l1.1 -2.2l1.9 -1.2l1.5 -1.2l1.6 -0.5l1.4 -0.9l2.1 0.6l1.8 -1.6l2.3 0.4l1.4 -1.6l1.6 0.9l1.4 -0.6l1.5 0.2l1.9 0.0l2.5 -0.6l1.8 -0.1l1.3 1.0l2.2 0.2l1.8 1.3l0.1 2.2l0.8 1.5l1.1 1.7l0.3 1.9l-0.5 1.0l0.2 2.3l-0.5 1.7l-1.1 1.2l-0.5 1.6l-1.5 1.3l-1.2 2.1l-2.3 0.6l-1.3 1.0l-0.8 1.4l-1.3 0.9l-1.5 1.0l-2.5 0.2l-1.9 1.1l-1.4 1.2l-1.2 1.3l-1.4 0.6l-1.9 -0.5l-1.8 1.1l-2.2 -0.7l-1.7 0.2l-1.7 0.0l-1.4 -0.8l-1.6 -1.6l-2.6 0.3l-1.8 -0.9l-1.5 -0.5l-1.8 -0.1l-1.9 -1.2l-0.0 -1.6l-0.7 -1.3Z"/>
<path id="s28" d="M423.4 286.7h0M427.7 278.6h0M435.8 271.8h0M438.9 271.2h0M440.2 269.6h0M450.1 267.4h0M452.8 266.6h0M458.9 268.0h0M460.9 268.1h0M467.9 275.7h0M467.9 280.3h0M467.4 283.9h0M467.1 284.8h0M465.4 287.3h0M462.2 289.7h0M461.0 292.1h0M456.1 293.9h0M453.3 296.5h0M446.0 299.2h0M436.7 298.8h0M435.8 298.5h0M433.3 298.9h0M428.5 298.1h0M423.4 294.0h0M421.1 292.0h0" stroke-width="1.5" stroke-linecap="round" fill="none"/>
<path id="p29" d="M400.1 293.8l0.8 -1.7l1.4 -0.8l0.5 -1.7l2.2 -0.8l1.6 -0.9l1.7 -0.3l1.6 0.5l1.5 -1.4l1.7 0.3l1.9 -0.5l2.6 -0.4l2.0 0.5l1.4 -1.1l1.5 0.9l1.6 0.9l0.6 1.7l0.7 1.6l-0.4 2.1l-1.4 0.9l-1.4 0.9l-1.7 0.0l-1.7 1.0l-1.6 1.3l-2.3 0.4l-1.4 1.7l-1.4 0.6l-0.7 1.2l-1.1 0.7l-1.6 0.6l-1.2 1.7l-1.8 1.2l-1.2 1.1l-0.9 1.2l-1.1 1.0l-0.9 1.5l-1.7 1.4l-1.6 1.6l-0.2 2.0l-1.9 0.4l-0.1 1.7l-0.7 1.7l-1.1 1.8l-1.5 1.6l-0.8 1.6l-1.3 0.9l-0.8 1.2l-0.9 1.3l-0.1 1.9l-0.8 2.1l0.7 1.6l1.1 1.2l0.1 1.9l1.1 2.0l0.4 2.2l1.1 1.3l0.4 1.5l1.7 1.2l0.7 2.4l-0.5 2.1l1.8 1.2l-1.0 1.7l0.3 1.3l1.3 1.3l0.1 1.7l-1.1 2.0l-0.1 2.0l-0.1 1.6l-0.2 1.4l-0.4 1.3l0.2 1.7l0.1 2.1l-1.3 2.0l-0.5 1.8l-0.3 1.5l0.5 1.6l0.6 1.5l-0.5 1.5l-0.8 2.9l-0.8 1.2l-2.5 0.8l-1.8 -2.2l0.4 -1.6l-0.2 -1.7l0.4 -1.6l0.5 -1.8l-0.2 -2.2l0.9 -2.2l-0.3 -1.6l-1.5 -1.1l0.0 -1.8l-0.3 -2.3l-1.5 -1.7l-0.3 -1.6l0.3 -1.6l-0.5 -1.3l-0.6 -1.6l-0.0 -2.1l-0.6 -2.0l-0.5 -1.6l0.6 -1.4l0.2 -1.4l-1.0 -1.7l0.6 -1.9l0.2 -2.2l1.4 -1.4l-0.5 -1.7l0.8 -1.4l-0.5 -1.9l-0.7 -1.8l-0.8 -1.4l-0.6 -1.5l-1.1 -1.0l-0.6 -1.8l-0.1 -1.8l0.9 -1.3l0.9 -1.0l1.2 -1.1l1.6 -1.2l0.4 -2.6l1.7 -1.2l0.8 -1.4l0.2 -1.7l0.4 -1.5l0.8 -1.2l1.6 -0.8l-0.2 -1.9l1.4 -1.2l1.2 -2.2l0.1 -1.8l0.3 -1.3l1.4 -0.8l-0.1 -1.8l1.6 -1.8l1.1 -0.9Z"/>
<path id="s29" d="M399.8 292.3h0M400.2 290.4h0M414.8 285.4h0M419.8 284.9h0M421.9 284.9h0M426.1 286.6h0M428.9 287.3h0M426.3 293.6h0M421.7 298.0h0M420.0 296.6h0M412.1 302.1h0M400.6 311.8h0M399.9 314.4h0M398.2 315.6h0M397.6 317.2h0M395.5 321.1h0M394.9 322.4h0M391.0 331.4h0M391.4 332.6h0M393.5 336.7h0M393.7 337.9h0M395.6 344.6h0M397.0 351.2h0M399.9 352.7h0M399.0 357.5h0M396.3 365.3h0M396.4 366.5h0M386.4 379.1h0M388.3 377.1h0M387.6 368.7h0M383.1 354.1h0M384.1 352.6h0M383.1 350.2h0M382.6 349.2h0M383.1 340.7h0M383.8 337.3h0M385.0 336.8h0M384.7 332.0h0M381.4 327.8h0M382.1 324.1h0M382.0 323.0h0M389.0 313.0h0M390.4 309.3h0" stroke-width="1.5" stroke-linecap="round" fill="none"/>
<path id="p30" d="M340.0 377.4l-0.8 1.2l-0.5 1.4l-1.5 1.5l0.1 2.3l-0.4 2.0l-0.2 1.5l-0.1 1.7l0.2 2.5l1.4 1.4l-0.1 1.8l0.7 1.3l1.7 0.6l1.2 1.3l1.2 1.7l0.5 2.3l1.5 1.1l0.7 1.5l1.1 1.1l1.6 0.7l1.7 1.2l2.2 1.0l1.3 1.1l0.4 1.9l1.5 0.6l2.0 0.7l1.9 0.1l1.6 0.3l1.4 -0.1l1.6 0.1l1.4 -1.5l2.2 0.1l2.0 -0.7l1.8 0.3l1.4 -0.4l1.1 -1.4l1.5 -0.8l2.1 -0.4l2.1 -0.5l1.9 0.4l1.3 -0.9l1.5 0.2l1.4 -1.0l1.9 -0.3l1.9 -1.2l1.8 0.1l1.2 -0.7l1.5 -0.3l1.6 -1.3l1.0 -1.9l0.5 -1.7l1.9 -0.7l0.6 -1.6l-0.1 -2.1l0.4 -2.2l0.7 -1.7l-1.4 -1.5l-0.6 -1.9l-0.1 -2.2l-0.8 -1.5l-1.0 -1.2l-1.3 -1.3l-2.4 -0.7l-1.9 -0.1l-2.0 1.0l-1.2 1.0l-0.9 1.2l-0.8 1.7l-1.4 1.8l-0.8 2.0l-0.3 1.5l-0.6 1.5l-1.8 1.3l-1.4 1.5l-1.8 0.1l-1.5 0.8l-1.9 0.5l-2.0 1.1l-2.2 0.5l-1.6 0.0l-1.5 -0.0l-1.4 1.0l-2.0 1.1l-2.1 0.4l-1.0 1.8l-1.6 0.7l-1.0 1.3l-1.7 0.0l-1.4 0.9l-2.3 -0.1l-0.9 -1.4l-1.7 -1.5l-2.2 -0.7l-0.7 -1.8l-1.7 -1.1l-0.2 -2.7l-1.4 -1.4l-0.4 -1.5l-1.3 -0.9l0.3 -1.6l-1.2 -1.8l1.2 -2.1l-0.2 -2.0l0.3 -1.8l1.7 -1.3l-0.1 -1.8l-2.2 -2.0Z"/>
<path id="s30" d="M335.8 383.6h0M337.0 393.8h0M340.6 401.5h0M341.5 402.5h0M343.2 402.7h0M346.4 406.4h0M347.8 406.4h0M351.1 411.5h0M357.1 414.2h0M358.2 415.1h0M362.5 415.0h0M363.2 413.4h0M365.3 413.7h0M380.3 410.0h0M382.2 409.5h0M382.9 408.3h0M388.1 408.0h0M399.8 397.6h0M398.9 384.6h0M398.4 381.9h0M381.5 391.0h0M378.0 394.0h0M376.4 394.8h0M370.0 397.4h0M366.6 397.3h0M357.2 401.9h0M353.5 403.5h0M350.6 401.8h0M345.8 394.3h0M345.1 392.4h0M343.3 390.9h0M342.9 388.7h0M346.8 385.0h0M341.1 374.6h0" stroke-width="1.5" stroke-linecap="round" fill="none"/>
<path id="p31" d="M339.3 377.6l0.3 -1.6l0.8 -1.5l0.9 -1.6l-0.2 -2.0l0.7 -1.8l0.9 -1.5l1.5 -1.2l0.6 -3.1l2.7 0.8l1.7 0.2l2.2 -0.3l1.9 1.3l1.8 0.6l1.6 0.7l0.1 1.2l0.8 1.1l-2.2 0.7l-2.9 -0.9l-2.3 0.7l-1.8 -0.0l-1.9 0.7l-1.0 1.5l-1.5 1.7l0.7 2.3l-0.5 1.9l-1.2 1.2l-2.0 1.1Z"/>
<path id="s31" d="M338.0 375.3h0M339.8 373.4h0M340.0 370.9h0M343.0 363.7h0M352.3 364.1h0M359.5 366.3h0" stroke-width="1.5" stroke-linecap="round" fill="none"/>
<path id="p32" d="M347.1 384.5l1.5 -0.3l1.4 0.0l1.6 0.9l1.8 -0.6l2.1 0.1l1.8 -1.4l2.2 -0.2l2.0 -0.6l1.1 -1.4l1.6 -0.4l1.1 -0.8l1.0 -1.2l3.0 0.0l-0.9 2.6l0.3 1.6l-1.0 1.4l-2.2 0.4l-2.0 1.3l-1.5 1.1l-1.4 0.8l-0.8 1.7l-1.5 0.7l-1.9 0.3l-2.4 -1.2l-2.1 0.9l-1.8 -0.8l-1.7 -0.7l-2.4 -2.0Z"/>
<path id="s32" d="M346.5 383.7h0M347.8 383.4h0M349.7 383.7h0M350.6 383.1h0M361.3 381.0h0M361.9 380.0h0M366.1 376.6h0M372.9 382.2h0M370.1 382.9h0M369.0 384.8h0M365.5 386.2h0M364.5 387.3h0M360.8 392.1h0M344.6 385.6h0" stroke-width="1.5" stroke-linecap="round" fill="none"/>
<path id="p33" d="M357.6 388.9l1.0 -0.2l1.7 0.4l2.3 -0.6l2.4 0.6l2.1 0.3l1.6 0.1l1.0 -1.4l1.8 -0.4l1.0 -1.9l0.3 -2.1l1.0 -1.9l0.0 -1.7l1.9 -1.5l1.4 1.9l1.3 1.1l1.4 1.6l0.6 2.1l-0.4 2.2l-0.1 2.2l-1.7 0.8l-1.6 0.7l-1.5 1.4l-2.3 0.4l-1.6 0.2l-2.4 0.6l-2.1 -0.3l-1.9 0.7l-1.8 -0.3l-1.4 -2.0l-2.8 -0.4l-1.6 -1.4Z"/>
<path id="s33" d="M356.4 387.9h0M368.5 387.4h0M369.4 386.8h0M371.9 381.7h0M380.6 382.2h0M381.4 383.3h0M381.0 384.9h0M375.9 394.2h0M372.3 394.6h0M360.6 393.9h0M358.8 393.5h0M354.4 392.9h0" stroke-width="1.5" stroke-linecap="round" fill="none"/>
<path id="p34" d="M373.8 365.0l0.1 -1.7l0.6 -1.5l0.2 -1.5l0.3 -1.6l-0.5 -1.8l1.1 -1.8l-0.4 -2.6l0.0 -1.6l-0.0 -1.6l1.1 -1.8l0.1 -2.3l0.7 -1.7l1.0 -1.1l0.6 -0.7l2.3 1.1l0.9 1.3l-0.3 1.6l-0.8 1.9l-0.9 2.4l-0.8 1.9l-0.3 1.7l-0.4 1.5l0.3 1.7l-0.1 2.0l0.7 2.3l0.4 1.7l0.6 1.6l-0.4 1.9l-0.6 2.3l-0.8 1.6l-1.1 1.3l-2.5 -1.4l-1.0 -1.1l0.4 -1.5Z"/>
<path id="s34" d="M372.0 359.9h0M374.8 349.5h0M377.2 341.2h0M382.7 342.0h0M382.8 344.4h0M382.0 346.4h0M381.1 352.7h0M380.3 354.6h0M380.2 357.5h0M380.7 362.0h0M370.6 366.9h0" stroke-width="1.5" stroke-linecap="round" fill="none"/>
<path id="p35" d="M422.6 272.5l0.9 -1.2l1.3 -1.6l1.9 -1.7l1.3 -2.0l2.2 0.0l1.2 -2.1l1.1 -1.9l0.3 -2.1l0.4 -1.6l-0.2 -1.7l1.6 0.5l1.5 2.6l1.9 1.1l1.4 1.3l2.1 0.9l1.6 2.3l2.1 1.0l-1.7 1.8l-2.1 1.5l-1.8 0.3l-1.1 -1.6l-1.9 0.2l-1.5 -0.6l-1.9 0.3l-1.1 1.1l-1.8 1.2l-1.8 1.3l-2.2 0.1l-1.2 1.9Z"/>
<path id="s35" d="M421.3 269.9h0M423.2 268.3h0M428.1 264.1h0M429.2 264.5h0M430.5 262.2h0M434.8 252.6h0M436.0 257.5h0M441.2 261.3h0M446.1 266.3h0M433.9 268.4h0M429.6 272.0h0M426.8 274.3h0" stroke-width="1.5" stroke-linecap="round" fill="none"/>
<path id="p36" d="M416.1 328.6l2.0 -0.9l0.9 -1.3l0.7 -1.0l0.7 -1.3l1.3 -1.2l0.9 -2.7l2.1 -0.7l1.1 -1.6l1.6 -0.1l2.7 0.9l-0.9 1.4l-1.1 1.5l-1.5 1.6l-1.9 1.4l-2.0 1.4l-0.8 1.6l-2.2 0.8l-1.5 1.2l-0.4 1.5l-0.7 1.3l-2.1 1.4l-1.7 1.1l-1.1 1.6l-0.8 1.6l-1.8 0.7l-0.8 1.6l-1.7 0.4l-2.1 2.8l-1.1 -2.3l0.6 -1.2l1.7 -0.5l0.3 -2.1l2.2 -0.5l1.2 -2.1l1.5 -1.6l1.0 -1.3l1.4 -0.6l1.6 -0.7Z"/>
<path id="s36" d="M416.2 324.7h0M417.8 323.8h0M418.5 323.2h0M427.0 315.5h0M422.9 329.1h0M420.1 331.8h0M418.8 331.5h0M418.5 332.3h0M416.5 335.3h0M415.5 336.0h0M414.8 336.9h0M412.4 337.7h0M410.2 339.9h0M410.1 341.2h0M402.6 341.0h0M407.1 336.0h0M408.3 333.2h0M411.6 331.5h0" stroke-width="1.5" stroke-linecap="round" fill="none"/>
<path id="p37" d="M413.7 371.7l1.1 -0.7l1.2 0.9l1.3 0.6l1.7 0.3l2.0 -0.2l2.2 0.3l2.8 -0.3l2.0 0.2l2.0 -0.6l1.9 0.8l1.8 -0.3l1.7 -0.6l1.7 0.0l1.7 0.4l1.6 -0.6l1.6 0.5l1.7 -0.2l3.9 -1.6l0.8 -1.3l-0.1 1.9l-2.1 1.8l-1.1 0.9l-1.2 0.1l-2.9 0.1l-1.5 0.5l-1.5 -0.1l-1.5 0.1l-1.6 0.7l-1.5 -0.8l-1.7 0.3l-1.8 -0.4l-1.9 0.5l-2.0 -1.1l-2.5 -0.5l-2.3 1.1l-1.9 -0.9l-1.7 0.8l-1.5 -0.7l-1.4 0.1l-0.8 -1.0Z"/>
<path id="s37" d="M418.5 370.2h0M426.0 371.4h0M429.5 370.8h0M431.7 371.2h0M433.8 370.7h0M446.9 369.5h0M449.2 368.9h0M447.0 373.9h0M440.1 375.5h0M439.2 375.5h0M437.3 376.7h0M433.6 375.5h0M424.4 375.1h0M420.5 374.4h0" stroke-width="1.5" stroke-linecap="round" fill="none"/>
<path id="p38" d="M209.2 225.8l0.0 -0.6l1.3 -0.0l1.5 -1.4l2.3 0.2l2.1 -1.4l1.8 -0.8l0.8 -1.5l1.2 -0.8l1.1 -1.1l1.7 -0.8l2.4 -0.2l1.8 -0.8l1.7 0.6l1.6 -0.6l1.6 -0.4l1.5 0.7l1.7 0.1l1.8 -0.5l1.9 0.6l2.4 -1.0l1.9 0.3l1.6 -0.1l1.3 -0.0l1.2 0.4l1.5 -0.1l2.6 0.5l1.0 2.0l0.9 1.7l-1.0 1.8l-0.8 1.1l-0.6 1.8l-2.1 -0.1l-1.5 1.5l-1.8 1.3l-1.9 0.9l-1.1 1.1l-0.8 1.1l-1.1 0.9l-1.7 0.7l-2.3 0.6l-1.6 1.1l-2.3 -0.4l-1.8 -0.2l-1.0 -1.2l-1.6 -0.0l-1.8 -1.7l-2.2 0.2l-1.1 -1.9l-1.7 -0.1l-1.4 -1.4l-2.3 -0.6l-2.5 -0.6l-2.5 0.9l-1.8 -1.3l-1.4 0.0Z"/>
<path id="s38" d="M206.9 226.4h0M207.5 224.4h0M209.1 224.4h0M210.8 223.1h0M217.1 221.5h0M219.6 217.3h0M220.7 216.7h0M222.0 216.6h0M223.2 215.7h0M229.6 214.7h0M236.6 216.5h0M241.5 214.5h0M247.3 215.2h0M251.7 217.4h0M253.4 225.9h0M250.1 227.1h0M244.1 231.5h0M239.7 234.2h0M231.4 234.5h0M225.0 232.0h0M223.8 232.1h0M221.2 231.0h0M216.0 229.4h0M211.3 228.3h0" stroke-width="1.5" stroke-linecap="round" fill="none"/>
<path id="p39" d="M182.4 215.0l1.7 -0.2l1.5 -0.6l1.8 0.1l1.9 0.1l1.8 0.1l1.6 -0.6l1.5 0.3l0.2 2.4l-1.8 -0.5l-1.5 1.0l-1.9 -0.6l-1.7 1.3l-1.8 0.2l-1.6 -0.6l-1.4 -0.1Z"/>
<path id="s39" d="M184.2 212.6h0M185.4 213.6h0M190.1 212.9h0M193.6 218.4h0M189.1 218.7h0M186.8 219.3h0M185.6 220.9h0M183.5 218.4h0M182.5 218.2h0M178.9 216.4h0" stroke-width="1.5" stroke-linecap="round" fill="none"/>
<path id="p40" d="M127.8 192.7l2.9 0.6l1.4 1.0l-0.1 2.2l-0.9 2.1l0.3 1.4l-2.6 0.7l-0.6 -2.0l0.3 -2.3l-0.9 -2.0Z"/>
<path id="s40" d="M133.1 195.8h0M133.2 197.1h0M130.4 203.5h0M128.2 200.9h0M126.1 198.9h0M126.0 197.6h0M126.6 196.1h0M125.7 194.9h0" stroke-width="1.5" stroke-linecap="round" fill="none"/>
<path id="p41" d="M176.4 241.4l1.3 -0.3l1.4 0.5l0.9 1.9l2.0 0.7l1.9 1.4l1.9 1.1l1.6 1.0l1.0 1.5l1.5 0.7l1.6 0.9l2.2 -0.7l1.4 -1.2l1.4 -1.1l1.9 0.7l1.1 1.6l1.9 1.8l1.8 -0.9l1.8 0.2l1.7 -0.6l1.3 -1.5l2.0 0.6l1.6 -1.3l1.9 2.1l1.6 1.5l2.0 -1.0l1.7 0.2l1.3 0.6l1.6 0.9l-0.4 2.0l0.9 1.9l-1.3 2.4l0.1 2.4l-0.9 1.7l0.6 2.2l-1.5 1.4l-1.8 1.1l-1.4 0.3l-2.2 0.2l-1.1 -2.2l-1.3 -1.7l-2.4 -0.1l-1.3 0.8l-1.8 0.6l-1.0 1.8l-1.7 0.8l-1.7 0.8l-1.9 -0.1l-1.8 -0.3l-1.3 -1.2l-1.0 -1.8l-1.2 -1.9l-1.7 -1.3l-0.4 -1.7l-1.0 -1.2l-0.4 -1.8l-1.6 -1.4l-2.0 -1.1l-1.6 -0.7l-1.4 -0.7l-1.5 -0.7l-0.9 -2.1l-2.1 -1.4l-1.3 -0.6l-1.8 -1.0l-0.3 -2.9l-1.2 -2.3Z"/>
<path id="s41" d="M177.2 239.2h0M178.1 240.9h0M179.3 240.7h0M180.0 241.7h0M181.5 241.5h0M183.2 243.8h0M187.3 245.0h0M192.4 248.5h0M193.4 247.6h0M199.8 244.6h0M200.5 250.2h0M202.5 250.5h0M203.3 249.8h0M209.4 248.5h0M215.1 249.1h0M216.2 249.3h0M216.8 248.8h0M218.3 249.8h0M221.9 252.9h0M217.7 269.4h0M210.8 266.2h0M209.1 266.1h0M208.4 266.2h0M208.1 267.0h0M203.5 272.0h0M200.2 270.6h0M194.9 268.1h0M191.3 261.8h0M189.5 259.9h0M181.1 252.1h0M174.9 247.2h0M172.8 240.2h0" stroke-width="1.5" stroke-linecap="round" fill="none"/>
<path id="p42" d="M251.1 113.5l1.3 -1.3l2.5 0.9l2.5 1.1l1.1 2.2l0.3 2.6l-0.6 1.8l0.7 2.0l-1.3 1.6l-0.4 2.4l-1.3 1.9l-1.2 1.3l-0.3 1.6l-1.5 0.9l-2.4 -1.2l0.3 -1.0l0.3 -1.7l1.4 -1.2l1.2 -1.5l-0.3 -2.2l1.8 -1.6l0.1 -1.4l-0.9 -1.7l-1.1 -1.5l-0.5 -2.3l-1.8 -0.8Z"/>
<path id="s42" d="M253.8 111.9h0M258.4 112.7h0M255.9 132.2h0M255.1 133.1h0M248.9 127.7h0M250.9 126.3h0M252.3 123.3h0M253.4 120.9h0M252.1 119.0h0M251.3 118.2h0" stroke-width="1.5" stroke-linecap="round" fill="none"/>
<path id="p43" d="M244.7 151.2l2.0 -1.5l1.9 -1.1l1.8 1.6l0.3 1.3l0.1 1.4l0.6 1.7l-0.1 2.1l1.0 2.2l-0.5 2.3l0.1 1.9l-0.6 1.7l0.7 1.4l0.6 1.8l2.1 1.1l2.2 0.1l1.5 1.2l0.2 -0.3l-0.4 1.0l-1.5 1.0l-2.3 -0.1l-2.2 0.1l-1.7 -1.0l-1.2 -0.8l-0.6 -1.3l-0.1 -1.7l-0.5 -2.0l-0.9 -2.4l-0.5 -1.9l0.7 -2.2l-0.7 -1.7l-1.3 -1.4l0.6 -1.6l-0.7 -1.3Z"/>
<path id="s43" d="M243.6 151.0h0M251.0 149.7h0M252.6 161.7h0M256.9 168.8h0M258.5 172.6h0M247.1 166.8h0M243.7 153.3h0" stroke-width="1.5" stroke-linecap="round" fill="none"/>
<path id="p44" d="M198.4 182.7l2.4 1.4l-0.7 1.1l0.6 1.7l-0.6 1.5l-0.3 1.7l-0.9 1.7l-0.8 1.9l-1.2 1.9l-1.5 1.8l-1.5 1.2l-0.5 1.5l-0.5 1.4l-1.1 1.2l-1.7 1.1l-1.5 2.1l-1.4 1.6l-2.1 -0.1l-1.1 1.0l-1.5 1.1l-1.6 -2.3l1.0 -1.5l2.0 0.1l0.4 -1.9l1.9 -0.5l1.8 -0.9l0.5 -2.6l1.6 -1.3l1.0 -1.3l1.2 -0.9l-0.4 -1.8l0.8 -1.4l1.0 -1.8l0.7 -2.1l1.6 -1.3l0.8 -1.5l0.1 -1.6l0.2 -1.5Z"/>
<path id="s44" d="M202.1 185.9h0M201.6 186.7h0M200.9 188.5h0M201.1 190.8h0M199.9 191.5h0M195.2 200.1h0M193.2 203.5h0M188.5 208.0h0M181.0 205.6h0M189.8 196.0h0M191.1 195.7h0M191.7 191.8h0" stroke-width="1.5" stroke-linecap="round" fill="none"/>
<path id="p45" d="M227.5 138.8l1.5 -0.9l0.9 -1.3l1.8 -0.3l2.1 -1.0l1.9 -0.7l1.9 -0.0l1.6 -0.6l1.7 0.2l1.8 0.8l2.7 -0.5l1.0 1.8l1.9 1.3l-0.5 2.4l-0.1 2.0l1.6 1.8l0.6 1.6l1.3 0.3l1.6 -0.7l1.6 1.0l1.9 1.4l1.4 1.2l2.0 0.0l1.2 1.0l0.7 1.6l1.2 1.2l2.2 -0.1l1.8 1.2l1.4 2.1l1.7 0.2l1.2 0.7l0.8 1.4l1.7 0.7l2.2 1.2l1.5 1.4l1.8 0.8l1.5 1.0l1.6 0.7l1.5 0.8l1.7 0.2l0.5 2.0l1.1 0.9l1.6 0.3l1.9 3.6l-2.0 1.3l-1.1 -1.2l-1.0 -0.8l-1.5 -0.3l-1.2 -1.1l-1.1 -1.5l-2.1 -0.2l-1.3 -1.5l-1.9 -0.6l-1.4 -1.4l-1.8 -1.9l-1.8 -0.5l-1.6 0.1l-0.7 -1.7l-1.5 -0.4l-2.0 -0.8l-2.2 -0.7l-1.7 -1.0l-1.5 -0.6l-1.2 -1.3l-1.9 0.1l-1.3 -2.1l-3.0 0.1l-1.4 -1.3l-1.5 -0.4l-1.9 -0.1l-2.0 0.1l-1.3 0.1l-1.7 -0.1l-1.2 -2.0l-1.5 -1.0l-2.2 -1.0l-2.0 -0.5l-1.8 0.5l-1.8 0.8l-2.1 -0.1l-1.9 -2.2l-1.5 -0.9l-2.0 -1.1l0.3 -2.1l0.6 -1.3Z"/>
<path id="s45" d="M228.1 137.6h0M229.5 135.5h0M249.8 136.7h0M251.5 141.9h0M250.8 144.3h0M253.2 144.1h0M260.9 147.8h0M264.2 149.6h0M265.4 151.2h0M269.3 154.2h0M269.7 155.2h0M270.9 154.6h0M272.8 154.2h0M277.8 159.0h0M284.4 160.8h0M284.8 162.2h0M286.1 163.8h0M287.5 165.2h0M291.6 171.4h0M282.6 171.4h0M281.0 169.7h0M276.6 165.4h0M273.1 163.3h0M270.0 161.7h0M267.4 160.2h0M264.9 159.2h0M258.0 155.9h0M253.4 153.7h0M252.4 153.3h0M246.1 152.6h0M244.9 153.6h0M241.2 151.4h0M240.0 150.2h0M238.7 148.9h0M237.7 148.4h0M236.9 149.2h0M233.9 149.8h0" stroke-width="1.5" stroke-linecap="round" fill="none"/>
<g id="allc" stroke-width="1.5" stroke-linejoin="round"><use href="#p0"/><use href="#s0"/><use href="#p1"/><use href="#s1"/><use href="#p2"/><use href="#s2"/><use href="#p3"/><use href="#s3"/><use href="#p4"/><use href="#s4"/><use href="#p5"/><use href="#s5"/><use href="#p6"/><use href="#s6"/><use href="#p7"/><use href="#s7"/><use href="#p8"/><use href="#s8"/><use href="#p9"/><use href="#s9"/><use href="#p10"/><use href="#s10"/><use href="#p11"/><use href="#s11"/><use href="#p12"/><use href="#s12"/><use href="#p13"/><use href="#s13"/><use href="#p14"/><use href="#s14"/><use href="#p15"/><use href="#s15"/><use href="#p16"/><use href="#s16"/><use href="#p17"/><use href="#s17"/><use href="#p18"/><use href="#s18"/><use href="#p20"/><use href="#s20"/><use href="#p21"/><use href="#s21"/><use href="#p22"/><use href="#s22"/><use href="#p23"/><use href="#s23"/><use href="#p24"/><use href="#s24"/><use href="#p25"/><use href="#s25"/><use href="#p26"/><use href="#s26"/><use href="#p27"/><use href="#s27"/><use href="#p28"/><use href="#s28"/><use href="#p29"/><use href="#s29"/><use href="#p30"/><use href="#s30"/><use href="#p31"/><use href="#s31"/><use href="#p32"/><use href="#s32"/><use href="#p33"/><use href="#s33"/><use href="#p34"/><use href="#s34"/><use href="#p35"/><use href="#s35"/><use href="#p36"/><use href="#s36"/><use href="#p37"/><use href="#s37"/><use href="#p38"/><use href="#s38"/><use href="#p39"/><use href="#s39"/><use href="#p40"/><use href="#s40"/><use href="#p41"/><use href="#s41"/><use href="#p42"/><use href="#s42"/><use href="#p43"/><use href="#s43"/><use href="#p44"/><use href="#s44"/><use href="#p45"/><use href="#s45"/><path d="M362.0 160.0L376.0 158.0L378.0 185.0L378.0 205.0L368.0 212.0L364.0 190.0Z"/><path d="M268.0 302.0L283.0 294.0L290.0 310.0L275.0 318.0Z"/><path d="M196.0 350.0L215.0 344.0L220.0 352.0L200.0 362.0Z"/>
<path d="M142.1 326.5h0M145.3 323.4h0M147.8 321.5h0M150.3 319.0h0M113.4 307.1h0M110.9 310.9h0M112.8 313.4h0M108.4 315.9h0M97.1 342.8h0M260.3 97.8h0M265.5 97.8h0M267.5 97.8h0M292.0 138.0h0M296.0 136.0h0M318.0 136.0h0M236.0 212.0h0M144.0 244.0h0M137.8 246.5h0M157.8 235.9h0M245.3 124.0h0M249.0 127.8h0M251.5 131.5h0M254.0 139.0h0M211.5 127.8h0M215.9 149.6h0M190.3 194.0h0M187.8 201.5h0M184.0 210.3h0M179.0 214.0h0M175.3 219.0h0M172.8 222.8h0M150.3 191.5h0M188.5 198.0h0M186.0 206.0h0M181.5 212.0h0M177.0 216.5h0M221.5 156.5h0M224.0 159.0h0M229.0 157.8h0M239.0 155.9h0M241.5 156.5h0M248.5 107.0h0M205.9 219.6h0M133.5 195.0h0M135.0 197.5h0M171.5 240.3h0M175.3 236.5h0M181.5 235.3h0M115.9 202.1h0M373.0 132.0h0M366.0 196.0h0M364.0 186.0h0M378.0 147.0h0M357.0 186.0h0M381.0 173.0h0M293.0 204.0h0M301.7 246.7h0M299.5 253.0h0M416.0 302.0h0M411.0 306.0h0M420.0 314.0h0M420.0 316.5h0M400.0 326.0h0M371.9 375.0h0M376.3 378.8h0M378.8 368.8h0M382.5 367.5h0M346.0 378.0h0M345.0 392.0h0M350.0 397.0h0M349.0 388.0h0M296.3 315.6h0M274.0 337.0h0M278.0 340.0h0M281.0 336.0h0M330.0 261.5h0" stroke-width="2.4" stroke-linecap="round" fill="none"/>
<path d="M372.3 174.0h0M374.8 177.8h0M379.8 181.5h0M377.3 187.8h0M372.3 190.3h0M369.1 191.5h0M374.8 192.8h0M378.5 191.5h0M381.0 185.9h0M373.5 202.8h0M376.0 184.0h0M373.0 186.5h0M203.7 346.3h0M205.0 352.0h0M202.4 353.5h0M220.4 354.9h0M221.6 359.1h0M218.5 357.7h0M204.0 349.0h0M278.0 306.5h0M281.0 309.0h0M283.5 305.5h0M317.0 321.5h0M313.0 322.5h0M247.0 120.5h0M249.5 117.0h0M252.0 121.5h0M246.0 126.5h0M250.0 125.0h0M253.0 112.5h0" stroke="#fff" stroke-width="2" stroke-linecap="round" fill="none"/>
<path d="M248.3 463.5L249.4 470L251.5 476.5" stroke="#fff" stroke-width="1.1" fill="none"/>
</g></defs>
<text x="5.0" y="40.4" font-size="42" text-anchor="start" fill="#000" font-weight="bold" >(a)</text>
<text x="1303.0" y="40.4" font-size="42" text-anchor="start" fill="#000" font-weight="bold" >(b)</text>
<text x="5.0" y="653.5" font-size="42" text-anchor="start" fill="#000" font-weight="bold" >(c)</text>
<text x="988.0" y="653.5" font-size="42" text-anchor="start" fill="#000" font-weight="bold" >(d)</text>
<text x="5.0" y="1155.1" font-size="42" text-anchor="start" fill="#000" font-weight="bold" >(e)</text>
<text x="988.0" y="1154.8" font-size="42" text-anchor="start" fill="#000" font-weight="bold" >(f)</text>
<text x="5.0" y="1969.0" font-size="42" text-anchor="start" fill="#000" font-weight="bold" >(g)</text>
<g id="pa">
<use href="#p0" fill="#CCE0F5" stroke="#CCE0F5" stroke-width="1.4" stroke-linejoin="round"/><use href="#s0" stroke="#CCE0F5"/>
<use href="#p1" fill="#E59CC4" stroke="#E59CC4" stroke-width="1.4" stroke-linejoin="round"/><use href="#s1" stroke="#E59CC4"/>
<use href="#p2" fill="#91D0BE" stroke="#91D0BE" stroke-width="1.4" stroke-linejoin="round"/><use href="#s2" stroke="#91D0BE"/>
<use href="#p3" fill="#476D87" stroke="#476D87" stroke-width="1.4" stroke-linejoin="round"/><use href="#s3" stroke="#476D87"/>
<use href="#p4" fill="#6778AE" stroke="#6778AE" stroke-width="1.4" stroke-linejoin="round"/><use href="#s4" stroke="#6778AE"/>
<use href="#p5" fill="#58A4C3" stroke="#58A4C3" stroke-width="1.4" stroke-linejoin="round"/><use href="#s5" stroke="#58A4C3"/>
<use href="#p6" fill="#23452F" stroke="#23452F" stroke-width="1.4" stroke-linejoin="round"/><use href="#s6" stroke="#23452F"/>
<use href="#p7" fill="#E63863" stroke="#E63863" stroke-width="1.4" stroke-linejoin="round"/><use href="#s7" stroke="#E63863"/>
<use href="#p8" fill="#3A6963" stroke="#3A6963" stroke-width="1.4" stroke-linejoin="round"/><use href="#s8" stroke="#3A6963"/>
<use href="#p9" fill="#DCC1DD" stroke="#DCC1DD" stroke-width="1.4" stroke-linejoin="round"/><use href="#s9" stroke="#DCC1DD"/>
<use href="#p10" fill="#B53E2B" stroke="#B53E2B" stroke-width="1.4" stroke-linejoin="round"/><use href="#s10" stroke="#B53E2B"/>
<use href="#p11" fill="#5F3D69" stroke="#5F3D69" stroke-width="1.4" stroke-linejoin="round"/><use href="#s11" stroke="#5F3D69"/>
<use href="#p12" fill="#968175" stroke="#968175" stroke-width="1.4" stroke-linejoin="round"/><use href="#s12" stroke="#968175"/>
<use href="#p13" fill="#5F3D69" stroke="#5F3D69" stroke-width="1.4" stroke-linejoin="round"/><use href="#s13" stroke="#5F3D69"/>
<use href="#p14" fill="#F1BB72" stroke="#F1BB72" stroke-width="1.4" stroke-linejoin="round"/><use href="#s14" stroke="#F1BB72"/>
<use href="#p15" fill="#AA9A59" stroke="#AA9A59" stroke-width="1.4" stroke-linejoin="round"/><use href="#s15" stroke="#AA9A59"/>
<use href="#p16" fill="#F1BB72" stroke="#F1BB72" stroke-width="1.4" stroke-linejoin="round"/><use href="#s16" stroke="#F1BB72"/>
<use href="#p17" fill="#9FA3A8" stroke="#9FA3A8" stroke-width="1.4" stroke-linejoin="round"/><use href="#s17" stroke="#9FA3A8"/>
<use href="#p18" fill="#57C3F3" stroke="#57C3F3" stroke-width="1.4" stroke-linejoin="round"/><use href="#s18" stroke="#57C3F3"/>
<use href="#p19" fill="#E5D2DD" stroke="#E5D2DD" stroke-width="1.4" stroke-linejoin="round"/><use href="#s19" stroke="#E5D2DD"/>
<use href="#p20" fill="#E4C755" stroke="#E4C755" stroke-width="1.4" stroke-linejoin="round"/><use href="#s20" stroke="#E4C755"/>
<use href="#p21" fill="#E4C755" stroke="#E4C755" stroke-width="1.4" stroke-linejoin="round"/><use href="#s21" stroke="#E4C755"/>
<use href="#p22" fill="#68A180" stroke="#68A180" stroke-width="1.4" stroke-linejoin="round"/><use href="#s22" stroke="#68A180"/>
<use href="#p23" fill="#68A180" stroke="#68A180" stroke-width="1.4" stroke-linejoin="round"/><use href="#s23" stroke="#68A180"/>
<use href="#p24" fill="#F7F398" stroke="#F7F398" stroke-width="1.4" stroke-linejoin="round"/><use href="#s24" stroke="#F7F398"/>
<use href="#p25" fill="#F3B1A0" stroke="#F3B1A0" stroke-width="1.4" stroke-linejoin="round"/><use href="#s25" stroke="#F3B1A0"/>
<use href="#p26" fill="#C1E6F3" stroke="#C1E6F3" stroke-width="1.4" stroke-linejoin="round"/><use href="#s26" stroke="#C1E6F3"/>
<use href="#p27" fill="#9FA3A8" stroke="#9FA3A8" stroke-width="1.4" stroke-linejoin="round"/><use href="#s27" stroke="#9FA3A8"/>
<use href="#p28" fill="#E0D4CA" stroke="#E0D4CA" stroke-width="1.4" stroke-linejoin="round"/><use href="#s28" stroke="#E0D4CA"/>
<use href="#p29" fill="#AB3282" stroke="#AB3282" stroke-width="1.4" stroke-linejoin="round"/><use href="#s29" stroke="#AB3282"/>
<use href="#p30" fill="#CCC9E6" stroke="#CCC9E6" stroke-width="1.4" stroke-linejoin="round"/><use href="#s30" stroke="#CCC9E6"/>
<use href="#p31" fill="#C5DEBA" stroke="#C5DEBA" stroke-width="1.4" stroke-linejoin="round"/><use href="#s31" stroke="#C5DEBA"/>
<use href="#p32" fill="#D6E7A3" stroke="#D6E7A3" stroke-width="1.4" stroke-linejoin="round"/><use href="#s32" stroke="#D6E7A3"/>
<use href="#p33" fill="#8C549C" stroke="#8C549C" stroke-width="1.4" stroke-linejoin="round"/><use href="#s33" stroke="#8C549C"/>
<use href="#p34" fill="#8C549C" stroke="#8C549C" stroke-width="1.4" stroke-linejoin="round"/><use href="#s34" stroke="#8C549C"/>
<use href="#p35" fill="#8C549C" stroke="#8C549C" stroke-width="1.4" stroke-linejoin="round"/><use href="#s35" stroke="#8C549C"/>
<use href="#p36" fill="#D6E7A3" stroke="#D6E7A3" stroke-width="1.4" stroke-linejoin="round"/><use href="#s36" stroke="#D6E7A3"/>
<use href="#p37" fill="#C5DEBA" stroke="#C5DEBA" stroke-width="1.4" stroke-linejoin="round"/><use href="#s37" stroke="#C5DEBA"/>
<use href="#p38" fill="#625D9E" stroke="#625D9E" stroke-width="1.4" stroke-linejoin="round"/><use href="#s38" stroke="#625D9E"/>
<use href="#p39" fill="#625D9E" stroke="#625D9E" stroke-width="1.4" stroke-linejoin="round"/><use href="#s39" stroke="#625D9E"/>
<use href="#p40" fill="#625D9E" stroke="#625D9E" stroke-width="1.4" stroke-linejoin="round"/><use href="#s40" stroke="#625D9E"/>
<use href="#p41" fill="#968175" stroke="#968175" stroke-width="1.4" stroke-linejoin="round"/><use href="#s41" stroke="#968175"/>
<use href="#p42" fill="#AA9A59" stroke="#AA9A59" stroke-width="1.4" stroke-linejoin="round"/><use href="#s42" stroke="#AA9A59"/>
<use href="#p43" fill="#AA9A59" stroke="#AA9A59" stroke-width="1.4" stroke-linejoin="round"/><use href="#s43" stroke="#AA9A59"/>
<use href="#p44" fill="#AA9A59" stroke="#AA9A59" stroke-width="1.4" stroke-linejoin="round"/><use href="#s44" stroke="#AA9A59"/>
<use href="#p45" fill="#712820" stroke="#712820" stroke-width="1.4" stroke-linejoin="round"/><use href="#s45" stroke="#712820"/>
<path d="M142.1 326.5h0M145.3 323.4h0M147.8 321.5h0M150.3 319.0h0M171.5 240.3h0M175.3 236.5h0M181.5 235.3h0" stroke="#968175" stroke-width="2.4" stroke-linecap="round" fill="none"/>
<path d="M113.4 307.1h0M110.9 310.9h0M112.8 313.4h0M108.4 315.9h0M205.9 219.6h0M133.5 195.0h0M135.0 197.5h0M301.7 246.7h0" stroke="#625D9E" stroke-width="2.4" stroke-linecap="round" fill="none"/>
<path d="M97.1 342.8h0" stroke="#5F3D69" stroke-width="2.4" stroke-linecap="round" fill="none"/>
<path d="M260.3 97.8h0M265.5 97.8h0M267.5 97.8h0M292.0 138.0h0M296.0 136.0h0M318.0 136.0h0M236.0 212.0h0" stroke="#3A6963" stroke-width="2.4" stroke-linecap="round" fill="none"/>
<path d="M144.0 244.0h0M137.8 246.5h0M157.8 235.9h0M299.5 253.0h0" stroke="#F1BB72" stroke-width="2.4" stroke-linecap="round" fill="none"/>
<path d="M245.3 124.0h0M249.0 127.8h0M251.5 131.5h0M254.0 139.0h0M211.5 127.8h0M215.9 149.6h0M190.3 194.0h0M187.8 201.5h0M184.0 210.3h0M179.0 214.0h0M175.3 219.0h0M172.8 222.8h0M150.3 191.5h0M188.5 198.0h0M186.0 206.0h0M181.5 212.0h0M177.0 216.5h0" stroke="#712820" stroke-width="2.4" stroke-linecap="round" fill="none"/>
<path d="M221.5 156.5h0M224.0 159.0h0M229.0 157.8h0M239.0 155.9h0M241.5 156.5h0M248.5 107.0h0M378.0 147.0h0M357.0 186.0h0M381.0 173.0h0M296.3 315.6h0M274.0 337.0h0M278.0 340.0h0M281.0 336.0h0" stroke="#AA9A59" stroke-width="2.4" stroke-linecap="round" fill="none"/>
<path d="M115.9 202.1h0" stroke="#585658" stroke-width="2.4" stroke-linecap="round" fill="none"/>
<path d="M373.0 132.0h0M366.0 196.0h0M364.0 186.0h0" stroke="#F7F398" stroke-width="2.4" stroke-linecap="round" fill="none"/>
<path d="M293.0 204.0h0" stroke="#DCC1DD" stroke-width="2.4" stroke-linecap="round" fill="none"/>
<path d="M416.0 302.0h0M411.0 306.0h0M420.0 314.0h0M420.0 316.5h0M400.0 326.0h0" stroke="#D6E7A3" stroke-width="2.4" stroke-linecap="round" fill="none"/>
<path d="M371.9 375.0h0M376.3 378.8h0M378.8 368.8h0M382.5 367.5h0M346.0 378.0h0M345.0 392.0h0M350.0 397.0h0" stroke="#8C549C" stroke-width="2.4" stroke-linecap="round" fill="none"/>
<path d="M349.0 388.0h0" stroke="#AB3282" stroke-width="2.4" stroke-linecap="round" fill="none"/>
<path d="M330.0 261.5h0" stroke="#57C3F3" stroke-width="2.4" stroke-linecap="round" fill="none"/>
<path d="M372.3 174.0h0M374.8 177.8h0M379.8 181.5h0M377.3 187.8h0M372.3 190.3h0M369.1 191.5h0M374.8 192.8h0M378.5 191.5h0M381.0 185.9h0M373.5 202.8h0M376.0 184.0h0M373.0 186.5h0M203.7 346.3h0M205.0 352.0h0M202.4 353.5h0M220.4 354.9h0M221.6 359.1h0M218.5 357.7h0M204.0 349.0h0M278.0 306.5h0M281.0 309.0h0M283.5 305.5h0M317.0 321.5h0M313.0 322.5h0M247.0 120.5h0M249.5 117.0h0M252.0 121.5h0M246.0 126.5h0M250.0 125.0h0M253.0 112.5h0" stroke="#fff" stroke-width="2.0" stroke-linecap="round" fill="none"/>
<path d="M248.3 463.5L249.4 470L251.5 476.5" stroke="#fff" stroke-width="1.1" fill="none"/>
<rect x="68.5" y="67.5" width="416" height="439.5" fill="none" stroke="#808080" stroke-width="1"/>
<text x="235.5" y="115.9" font-size="15.5" text-anchor="middle" fill="#000" >3</text>
<text x="196.1" y="160.7" font-size="15.5" text-anchor="middle" fill="#000" >2</text>
<text x="153.2" y="214.7" font-size="15.5" text-anchor="middle" fill="#000" >0</text>
<text x="114.1" y="207.8" font-size="15.5" text-anchor="middle" fill="#000" >31</text>
<text x="260.4" y="158.8" font-size="15.5" text-anchor="middle" fill="#000" >17</text>
<text x="248.9" y="173.4" font-size="15.5" text-anchor="middle" fill="#000" >24</text>
<text x="303.3" y="148.5" font-size="15.5" text-anchor="middle" fill="#000" >23</text>
<text x="376.5" y="141.2" font-size="15.5" text-anchor="middle" fill="#000" >5</text>
<text x="389.1" y="180.6" font-size="15.5" text-anchor="middle" fill="#000" >8</text>
<text x="359.2" y="189.8" font-size="15.5" text-anchor="middle" fill="#000" >11</text>
<text x="383.0" y="238.5" font-size="15.5" text-anchor="middle" fill="#000" >27</text>
<text x="234.4" y="230.4" font-size="15.5" text-anchor="middle" fill="#000" >20</text>
<text x="299.5" y="230.4" font-size="15.5" text-anchor="middle" fill="#000" >14</text>
<text x="203.0" y="265.3" font-size="15.5" text-anchor="middle" fill="#000" >16</text>
<text x="267.3" y="267.2" font-size="15.5" text-anchor="middle" fill="#000" >19</text>
<text x="328.6" y="275.6" font-size="15.5" text-anchor="middle" fill="#000" >26</text>
<text x="446.6" y="289.4" font-size="15.5" text-anchor="middle" fill="#000" >7</text>
<text x="305.2" y="308.2" font-size="15.5" text-anchor="middle" fill="#000" >12</text>
<text x="226.7" y="334.2" font-size="15.5" text-anchor="middle" fill="#000" >30</text>
<text x="201.8" y="345.7" font-size="15.5" text-anchor="middle" fill="#000" >18</text>
<text x="287.2" y="342.6" font-size="15.5" text-anchor="middle" fill="#000" >4</text>
<text x="391.4" y="333.1" font-size="15.5" text-anchor="middle" fill="#000" >6</text>
<text x="410.6" y="341.1" font-size="15.5" text-anchor="middle" fill="#000" >25</text>
<text x="376.1" y="358.0" font-size="15.5" text-anchor="middle" fill="#000" >28</text>
<text x="125.2" y="345.7" font-size="15.5" text-anchor="middle" fill="#000" >29</text>
<text x="120.5" y="342.6" font-size="15.5" text-anchor="middle" fill="#000" >1</text>
<text x="209.1" y="384.0" font-size="15.5" text-anchor="middle" fill="#000" >10</text>
<text x="435.1" y="377.1" font-size="15.5" text-anchor="middle" fill="#000" >22</text>
<text x="375.0" y="406.2" font-size="15.5" text-anchor="middle" fill="#000" >9</text>
<text x="154.7" y="446.0" font-size="15.5" text-anchor="middle" fill="#000" >21</text>
<text x="281.5" y="449.1" font-size="15.5" text-anchor="middle" fill="#000" >15</text>
<text x="235.2" y="470.9" font-size="15.5" text-anchor="middle" fill="#000" >13</text>
<text x="275.8" y="527.0" font-size="15.3" text-anchor="middle" fill="#000" >UMAP_1</text>
<text x="56.0" y="286.0" font-size="15.3" text-anchor="middle" fill="#000" transform="rotate(-90 56.0 286.0)" >UMAP_2</text>
<circle cx="509.4" cy="160.1" r="4.3" fill="#476D87"/>
<circle cx="558.4" cy="160.1" r="4.3" fill="#968175"/>
<text x="526.6" y="165.2" font-size="14.3" text-anchor="start" fill="#000" >0</text>
<text x="575.3" y="165.2" font-size="14.3" text-anchor="start" fill="#000" >16</text>
<circle cx="509.4" cy="177.6" r="4.3" fill="#CCE0F5"/>
<circle cx="558.4" cy="177.6" r="4.3" fill="#712820"/>
<text x="526.6" y="182.7" font-size="14.3" text-anchor="start" fill="#000" >1</text>
<text x="575.3" y="182.7" font-size="14.3" text-anchor="start" fill="#000" >17</text>
<circle cx="509.4" cy="195.1" r="4.3" fill="#91D0BE"/>
<circle cx="558.4" cy="195.1" r="4.3" fill="#F1BB72"/>
<text x="526.6" y="200.2" font-size="14.3" text-anchor="start" fill="#000" >2</text>
<text x="575.3" y="200.2" font-size="14.3" text-anchor="start" fill="#000" >18</text>
<circle cx="509.4" cy="212.6" r="4.3" fill="#E59CC4"/>
<circle cx="558.4" cy="212.6" r="4.3" fill="#F7F398"/>
<text x="526.6" y="217.7" font-size="14.3" text-anchor="start" fill="#000" >3</text>
<text x="575.3" y="217.7" font-size="14.3" text-anchor="start" fill="#000" >19</text>
<circle cx="509.4" cy="230.1" r="4.3" fill="#F3B1A0"/>
<circle cx="558.4" cy="230.1" r="4.3" fill="#625D9E"/>
<text x="526.6" y="235.2" font-size="14.3" text-anchor="start" fill="#000" >4</text>
<text x="575.3" y="235.2" font-size="14.3" text-anchor="start" fill="#000" >20</text>
<circle cx="509.4" cy="247.5" r="4.3" fill="#6778AE"/>
<circle cx="558.4" cy="247.5" r="4.3" fill="#E5D2DD"/>
<text x="526.6" y="252.6" font-size="14.3" text-anchor="start" fill="#000" >5</text>
<text x="575.3" y="252.6" font-size="14.3" text-anchor="start" fill="#000" >21</text>
<circle cx="509.4" cy="265.0" r="4.3" fill="#AB3282"/>
<circle cx="558.4" cy="265.0" r="4.3" fill="#C5DEBA"/>
<text x="526.6" y="270.1" font-size="14.3" text-anchor="start" fill="#000" >6</text>
<text x="575.3" y="270.1" font-size="14.3" text-anchor="start" fill="#000" >22</text>
<circle cx="509.4" cy="282.5" r="4.3" fill="#E0D4CA"/>
<circle cx="558.4" cy="282.5" r="4.3" fill="#3A6963"/>
<text x="526.6" y="287.6" font-size="14.3" text-anchor="start" fill="#000" >7</text>
<text x="575.3" y="287.6" font-size="14.3" text-anchor="start" fill="#000" >23</text>
<circle cx="509.4" cy="300.0" r="4.3" fill="#58A4C3"/>
<circle cx="558.4" cy="300.0" r="4.3" fill="#AA9A59"/>
<text x="526.6" y="305.1" font-size="14.3" text-anchor="start" fill="#000" >8</text>
<text x="575.3" y="305.1" font-size="14.3" text-anchor="start" fill="#000" >24</text>
<circle cx="509.4" cy="317.5" r="4.3" fill="#CCC9E6"/>
<circle cx="558.4" cy="317.5" r="4.3" fill="#D6E7A3"/>
<text x="526.6" y="322.6" font-size="14.3" text-anchor="start" fill="#000" >9</text>
<text x="575.3" y="322.6" font-size="14.3" text-anchor="start" fill="#000" >25</text>
<circle cx="509.4" cy="335.0" r="4.3" fill="#9FA3A8"/>
<circle cx="558.4" cy="335.0" r="4.3" fill="#B53E2B"/>
<text x="526.6" y="340.1" font-size="14.3" text-anchor="start" fill="#000" >10</text>
<text x="575.3" y="340.1" font-size="14.3" text-anchor="start" fill="#000" >26</text>
<circle cx="509.4" cy="352.5" r="4.3" fill="#23452F"/>
<circle cx="558.4" cy="352.5" r="4.3" fill="#E63863"/>
<text x="526.6" y="357.6" font-size="14.3" text-anchor="start" fill="#000" >11</text>
<text x="575.3" y="357.6" font-size="14.3" text-anchor="start" fill="#000" >27</text>
<circle cx="509.4" cy="370.0" r="4.3" fill="#C1E6F3"/>
<circle cx="558.4" cy="370.0" r="4.3" fill="#8C549C"/>
<text x="526.6" y="375.1" font-size="14.3" text-anchor="start" fill="#000" >12</text>
<text x="575.3" y="375.1" font-size="14.3" text-anchor="start" fill="#000" >28</text>
<circle cx="509.4" cy="387.5" r="4.3" fill="#E4C755"/>
<circle cx="558.4" cy="387.5" r="4.3" fill="#5F3D69"/>
<text x="526.6" y="392.6" font-size="14.3" text-anchor="start" fill="#000" >13</text>
<text x="575.3" y="392.6" font-size="14.3" text-anchor="start" fill="#000" >29</text>
<circle cx="509.4" cy="405.0" r="4.3" fill="#DCC1DD"/>
<circle cx="558.4" cy="405.0" r="4.3" fill="#57C3F3"/>
<text x="526.6" y="410.1" font-size="14.3" text-anchor="start" fill="#000" >14</text>
<text x="575.3" y="410.1" font-size="14.3" text-anchor="start" fill="#000" >30</text>
<circle cx="509.4" cy="422.4" r="4.3" fill="#68A180"/>
<circle cx="558.4" cy="422.4" r="4.3" fill="#585658"/>
<text x="526.6" y="427.5" font-size="14.3" text-anchor="start" fill="#000" >15</text>
<text x="575.3" y="427.5" font-size="14.3" text-anchor="start" fill="#000" >31</text>
</g>
<g id="pm">
<g transform="translate(620.6 6) scale(1.1045 0.9916)">
<use href="#allc" fill="#4DBBD5" stroke="#4DBBD5"/>
<use href="#p19" fill="#4DBBD5" stroke="#4DBBD5"/>
</g>
<path d="M748.0 206.9h0M752.9 209.3h0M755.8 208.3h0M753.4 212.8h0M757.9 255.3h0M760.7 253.9h0M763.5 253.1h0M767.1 251.7h0M771.3 249.6h0M779.1 248.2h0M782.6 246.1h0M789.0 241.8h0M794.7 239.0h0M798.9 235.5h0M803.1 232.6h0M810.2 227.0h0M817.3 220.6h0M822.9 214.3h0M825.8 217.1h0M757.9 260.9h0M762.1 265.2h0M756.5 277.9h0M754.3 282.1h0M757.2 234.1h0M757.9 239.7h0M810.2 244.0h0M814.5 241.1h0M820.8 239.0h0M816.6 246.1h0M817.3 249.6h0M818.0 252.4h0M820.1 253.9h0M822.9 251.7h0M825.1 250.3h0M825.8 253.9h0M827.9 256.7h0M826.5 258.8h0M831.4 255.3h0M835.7 253.9h0M836.4 252.4h0M839.9 256.7h0M842.7 258.8h0M845.6 259.5h0M849.8 256.7h0M852.6 254.6h0M855.5 253.9h0M834.3 266.6h0M835.7 269.4h0M842.7 269.4h0M844.9 270.1h0M818.7 256.7h0M821.5 255.3h0M823.6 254.6h0M829.3 260.2h0M832.8 263.8h0M852.6 229.8h0M859.7 227.7h0M866.8 226.3h0M869.6 222.7h0M873.9 224.2h0M875.3 226.3h0M876.7 225.6h0M878.8 224.9h0M879.5 227.0h0M882.3 229.8h0M885.2 229.1h0M889.4 217.1h0M890.8 222.0h0M872.4 222.0h0M878.1 229.8h0M902.1 128.7h0M900.7 140.0h0M907.8 152.0h0M890.8 156.3h0M883.8 160.5h0M873.9 161.9h0M889.4 176.8h0M929.7 166.9h0M912.0 264.5h0M914.9 263.0h0M919.1 282.1h0M924.8 301.9h0M927.6 304.8h0M945.6 139.3h0M948.4 142.1h0M951.2 140.0h0M949.1 144.2h0M952.6 143.5h0M947.0 149.2h0M944.1 153.4h0M951.2 151.3h0M956.9 154.1h0M960.4 150.6h0M961.8 149.2h0M968.9 149.9h0M966.1 147.1h0M1007.1 140.0h0M1009.9 179.6h0M1021.9 204.4h0M1023.3 207.2h0M1024.8 214.3h0M1027.6 217.1h0M1024.0 217.8h0M1013.4 218.5h0M1037.5 218.5h0M1034.7 211.4h0M953.3 247.5h0M984.4 265.9h0M985.9 268.0h0M989.4 268.0h0M988.0 270.8h0M979.5 270.1h0M980.2 282.8h0M1099.0 260.9h0M1103.2 272.9h0M1105.4 272.9h0M1114.6 270.8h0M1087.7 276.5h0M1097.6 280.7h0M1035.3 202.6h0M1031.5 200.3h0M1034.0 190.3h0M1041.0 193.4h0M1034.8 198.5h0M1039.3 192.1h0M1037.2 184.2h0M1033.5 188.7h0M1030.8 182.1h0M1029.3 190.5h0M1034.3 189.8h0M1035.2 181.5h0M1034.7 194.1h0M1037.8 185.2h0M1033.7 178.9h0M1033.5 178.6h0M1030.2 200.3h0M1028.8 197.2h0M1036.2 189.8h0M1036.7 196.8h0M1039.0 190.4h0M1032.6 187.2h0M1031.1 192.0h0M1032.0 201.0h0M1029.4 185.3h0M1032.2 179.4h0M1039.1 180.7h0M1033.9 187.9h0M1039.2 181.2h0M1038.9 186.4h0M1034.3 186.6h0M1037.3 183.1h0M1034.7 195.1h0M1039.0 180.6h0M1040.0 199.2h0M1033.1 194.9h0M1033.4 204.5h0M1035.7 190.7h0M1034.1 190.8h0M1034.2 184.8h0M1039.9 182.3h0M1028.2 191.8h0M1034.4 195.3h0M1034.2 191.2h0M1036.2 200.5h0M1033.2 189.2h0M774.9 335.3h0M777.7 331.0h0M780.5 327.5h0M784.0 325.4h0M786.9 323.2h0M771.3 336.7h0M773.4 348.0h0M831.4 340.9h0M832.8 343.0h0M828.6 347.3h0M832.8 348.0h0M835.7 348.0h0M842.0 352.9h0M843.4 355.1h0M847.0 358.6h0M851.9 341.6h0M854.1 346.6h0M866.8 366.4h0M869.6 367.1h0M864.0 365.0h0M792.5 435.7h0M794.7 437.1h0M791.1 446.3h0M796.8 444.2h0M872.4 454.8h0M882.3 451.2h0M885.2 451.2h0M888.0 450.5h0M889.4 451.2h0M883.0 454.8h0M884.5 457.6h0M885.9 459.7h0M892.2 458.3h0M888.7 461.8h0M891.5 470.3h0M887.3 476.0h0M897.2 468.2h0M905.7 453.3h0M910.6 446.3h0M911.3 447.7h0M916.3 438.5h0M776.3 343.8h0M770.9 347.9h0M774.2 341.3h0M770.6 343.3h0M771.2 340.2h0M770.4 341.5h0M774.8 341.6h0M770.1 344.1h0M772.9 344.5h0M774.9 342.2h0M772.5 342.5h0M770.6 344.1h0M775.3 343.0h0M772.3 342.0h0M771.3 340.8h0M772.0 340.7h0M771.9 339.0h0M773.4 342.7h0M770.6 337.4h0M772.7 345.1h0M934.9 308.4h0M1007.1 379.1h0M1006.4 380.5h0M1003.5 387.6h0M1005.0 390.4h0M1002.8 395.4h0M1000.0 397.5h0M1010.6 391.8h0M1016.3 395.4h0M1019.8 403.1h0M1011.3 406.0h0M1021.2 389.0h0M1024.8 398.9h0M1027.6 401.7h0M1028.3 404.6h0M1027.6 389.0h0M1029.0 390.4h0M1031.8 391.8h0M1035.4 394.7h0M1039.6 396.8h0M1037.5 393.2h0M1043.1 373.4h0M1045.3 371.3h0M1038.9 372.0h0M1038.9 363.5h0M1045.3 360.7h0M1030.4 359.3h0M1031.1 379.1h0M1029.0 378.4h0M1049.5 387.6h0M1050.2 383.3h0M1055.2 381.9h0M1041.7 410.9h0M1047.4 391.1h0M1043.8 336.7h0M1042.4 341.6h0M1041.7 339.5h0M1062.2 314.7h0M1062.9 316.2h0M1063.6 330.3h0M1069.3 335.3h0M1070.0 336.7h0M1079.2 304.8h0M1079.9 307.0h0M1084.2 316.9h0M1083.4 320.4h0M1083.4 326.8h0M1094.1 322.5h0M1062.2 355.1h0M1063.6 353.6h0M1065.1 352.2h0M1076.4 334.5h0M933.5 443.4h0M935.7 444.9h0M943.4 454.8h0" stroke="#E64B35" stroke-width="2.4" stroke-linecap="round" fill="none"/>
<rect x="695.5" y="72.5" width="460" height="437.8" fill="none" stroke="#808080" stroke-width="1"/>
<g transform="translate(925.2 530) scale(0.88 1)">
<text x="0.0" y="0.0" font-size="15" text-anchor="middle" fill="#000" >UMAP_1</text>
</g>
<g transform="translate(685.5 296.4) rotate(-90) scale(0.88 1)">
<text x="0.0" y="0.0" font-size="15" text-anchor="middle" fill="#000" >UMAP_2</text>
</g>
<circle cx="1177" cy="285" r="4" fill="#E64B35"/><circle cx="1177" cy="303.4" r="4" fill="#4DBBD5"/>
<g transform="translate(1190.4 289.8) scale(0.85 1)">
<text x="0.0" y="0.0" font-size="13.5" text-anchor="start" fill="#000" >V2</text>
</g>
<g transform="translate(1190.4 308.2) scale(0.85 1)">
<text x="0.0" y="0.0" font-size="13.5" text-anchor="start" fill="#000" >V3</text>
</g>
</g>
<g id="pb">
<rect x="1491.4" y="83.04" width="64.1" height="70.47" fill="#476D87"/>
<rect x="1491.4" y="153.21" width="64.1" height="42.59" fill="#CCE0F5"/>
<rect x="1491.4" y="195.50" width="64.1" height="40.75" fill="#91D0BE"/>
<rect x="1491.4" y="235.94" width="64.1" height="35.54" fill="#E59CC4"/>
<rect x="1491.4" y="271.18" width="64.1" height="33.09" fill="#F3B1A0"/>
<rect x="1491.4" y="303.97" width="64.1" height="24.20" fill="#6778AE"/>
<rect x="1491.4" y="327.87" width="64.1" height="19.60" fill="#AB3282"/>
<rect x="1491.4" y="347.17" width="64.1" height="19.91" fill="#E0D4CA"/>
<rect x="1491.4" y="366.78" width="64.1" height="18.99" fill="#58A4C3"/>
<rect x="1491.4" y="385.48" width="64.1" height="15.62" fill="#CCC9E6"/>
<rect x="1491.4" y="400.80" width="64.1" height="15.31" fill="#9FA3A8"/>
<rect x="1491.4" y="415.81" width="64.1" height="12.86" fill="#23452F"/>
<rect x="1491.4" y="428.37" width="64.1" height="9.49" fill="#C1E6F3"/>
<rect x="1491.4" y="437.57" width="64.1" height="8.88" fill="#E4C755"/>
<rect x="1491.4" y="446.15" width="64.1" height="6.12" fill="#DCC1DD"/>
<rect x="1491.4" y="451.97" width="64.1" height="6.12" fill="#68A180"/>
<rect x="1491.4" y="457.79" width="64.1" height="5.51" fill="#968175"/>
<rect x="1491.4" y="463.00" width="64.1" height="4.59" fill="#712820"/>
<rect x="1491.4" y="467.29" width="64.1" height="4.28" fill="#F1BB72"/>
<rect x="1491.4" y="471.27" width="64.1" height="3.67" fill="#F7F398"/>
<rect x="1491.4" y="474.64" width="64.1" height="3.67" fill="#625D9E"/>
<rect x="1491.4" y="478.01" width="64.1" height="2.75" fill="#E5D2DD"/>
<rect x="1491.4" y="480.47" width="64.1" height="2.75" fill="#C5DEBA"/>
<rect x="1491.4" y="482.92" width="64.1" height="2.44" fill="#3A6963"/>
<rect x="1491.4" y="485.06" width="64.1" height="2.44" fill="#AA9A59"/>
<rect x="1491.4" y="487.21" width="64.1" height="2.44" fill="#D6E7A3"/>
<rect x="1491.4" y="489.35" width="64.1" height="2.14" fill="#B53E2B"/>
<rect x="1491.4" y="491.19" width="64.1" height="2.14" fill="#E63863"/>
<rect x="1491.4" y="493.03" width="64.1" height="1.53" fill="#8C549C"/>
<rect x="1491.4" y="494.25" width="64.1" height="1.22" fill="#5F3D69"/>
<rect x="1491.4" y="495.17" width="64.1" height="0.91" fill="#57C3F3"/>
<rect x="1491.4" y="495.79" width="64.1" height="0.91" fill="#585658"/>
<rect x="1481.3" y="62.8" width="84.6" height="454.2" fill="none" stroke="#000" stroke-width="1.2"/>
<path d="M1478.3 83.0H1481.3" stroke="#000" stroke-width="1.1"/>
<text x="1476.5" y="86.5" font-size="9.8" text-anchor="end" fill="#000" >1.00</text>
<path d="M1478.3 186.3H1481.3" stroke="#000" stroke-width="1.1"/>
<text x="1476.5" y="189.8" font-size="9.8" text-anchor="end" fill="#000" >0.75</text>
<path d="M1478.3 289.6H1481.3" stroke="#000" stroke-width="1.1"/>
<text x="1476.5" y="293.1" font-size="9.8" text-anchor="end" fill="#000" >0.50</text>
<path d="M1478.3 393.1H1481.3" stroke="#000" stroke-width="1.1"/>
<text x="1476.5" y="396.6" font-size="9.8" text-anchor="end" fill="#000" >0.25</text>
<path d="M1478.3 496.4H1481.3" stroke="#000" stroke-width="1.1"/>
<text x="1476.5" y="499.9" font-size="9.8" text-anchor="end" fill="#000" >0.00</text>
<path d="M1523.6 517V520" stroke="#000" stroke-width="1.1"/>
<text x="1523.6" y="530.0" font-size="9.9" text-anchor="middle" fill="#000" >Cluster</text>
<text x="1450.0" y="289.6" font-size="12.1" text-anchor="middle" fill="#000" transform="rotate(-90 1450.0 289.6)" >Propotion</text>
<rect x="1585.2" y="139.4" width="17.8" height="17.8" fill="#476D87"/>
<rect x="1628.4" y="139.4" width="17.8" height="17.8" fill="#968175"/>
<text x="1610.3" y="151.9" font-size="9.8" text-anchor="start" fill="#000" >0</text>
<text x="1653.2" y="151.9" font-size="9.8" text-anchor="start" fill="#000" >16</text>
<rect x="1585.2" y="158.7" width="17.8" height="17.8" fill="#CCE0F5"/>
<rect x="1628.4" y="158.7" width="17.8" height="17.8" fill="#712820"/>
<text x="1610.3" y="171.2" font-size="9.8" text-anchor="start" fill="#000" >1</text>
<text x="1653.2" y="171.2" font-size="9.8" text-anchor="start" fill="#000" >17</text>
<rect x="1585.2" y="178.0" width="17.8" height="17.8" fill="#91D0BE"/>
<rect x="1628.4" y="178.0" width="17.8" height="17.8" fill="#F1BB72"/>
<text x="1610.3" y="190.5" font-size="9.8" text-anchor="start" fill="#000" >2</text>
<text x="1653.2" y="190.5" font-size="9.8" text-anchor="start" fill="#000" >18</text>
<rect x="1585.2" y="197.3" width="17.8" height="17.8" fill="#E59CC4"/>
<rect x="1628.4" y="197.3" width="17.8" height="17.8" fill="#F7F398"/>
<text x="1610.3" y="209.8" font-size="9.8" text-anchor="start" fill="#000" >3</text>
<text x="1653.2" y="209.8" font-size="9.8" text-anchor="start" fill="#000" >19</text>
<rect x="1585.2" y="216.6" width="17.8" height="17.8" fill="#F3B1A0"/>
<rect x="1628.4" y="216.6" width="17.8" height="17.8" fill="#625D9E"/>
<text x="1610.3" y="229.1" font-size="9.8" text-anchor="start" fill="#000" >4</text>
<text x="1653.2" y="229.1" font-size="9.8" text-anchor="start" fill="#000" >20</text>
<rect x="1585.2" y="235.9" width="17.8" height="17.8" fill="#6778AE"/>
<rect x="1628.4" y="235.9" width="17.8" height="17.8" fill="#E5D2DD"/>
<text x="1610.3" y="248.4" font-size="9.8" text-anchor="start" fill="#000" >5</text>
<text x="1653.2" y="248.4" font-size="9.8" text-anchor="start" fill="#000" >21</text>
<rect x="1585.2" y="255.2" width="17.8" height="17.8" fill="#AB3282"/>
<rect x="1628.4" y="255.2" width="17.8" height="17.8" fill="#C5DEBA"/>
<text x="1610.3" y="267.7" font-size="9.8" text-anchor="start" fill="#000" >6</text>
<text x="1653.2" y="267.7" font-size="9.8" text-anchor="start" fill="#000" >22</text>
<rect x="1585.2" y="274.5" width="17.8" height="17.8" fill="#E0D4CA"/>
<rect x="1628.4" y="274.5" width="17.8" height="17.8" fill="#3A6963"/>
<text x="1610.3" y="287.0" font-size="9.8" text-anchor="start" fill="#000" >7</text>
<text x="1653.2" y="287.0" font-size="9.8" text-anchor="start" fill="#000" >23</text>
<rect x="1585.2" y="293.8" width="17.8" height="17.8" fill="#58A4C3"/>
<rect x="1628.4" y="293.8" width="17.8" height="17.8" fill="#AA9A59"/>
<text x="1610.3" y="306.3" font-size="9.8" text-anchor="start" fill="#000" >8</text>
<text x="1653.2" y="306.3" font-size="9.8" text-anchor="start" fill="#000" >24</text>
<rect x="1585.2" y="313.1" width="17.8" height="17.8" fill="#CCC9E6"/>
<rect x="1628.4" y="313.1" width="17.8" height="17.8" fill="#D6E7A3"/>
<text x="1610.3" y="325.6" font-size="9.8" text-anchor="start" fill="#000" >9</text>
<text x="1653.2" y="325.6" font-size="9.8" text-anchor="start" fill="#000" >25</text>
<rect x="1585.2" y="332.4" width="17.8" height="17.8" fill="#9FA3A8"/>
<rect x="1628.4" y="332.4" width="17.8" height="17.8" fill="#B53E2B"/>
<text x="1610.3" y="344.9" font-size="9.8" text-anchor="start" fill="#000" >10</text>
<text x="1653.2" y="344.9" font-size="9.8" text-anchor="start" fill="#000" >26</text>
<rect x="1585.2" y="351.7" width="17.8" height="17.8" fill="#23452F"/>
<rect x="1628.4" y="351.7" width="17.8" height="17.8" fill="#E63863"/>
<text x="1610.3" y="364.2" font-size="9.8" text-anchor="start" fill="#000" >11</text>
<text x="1653.2" y="364.2" font-size="9.8" text-anchor="start" fill="#000" >27</text>
<rect x="1585.2" y="371.0" width="17.8" height="17.8" fill="#C1E6F3"/>
<rect x="1628.4" y="371.0" width="17.8" height="17.8" fill="#8C549C"/>
<text x="1610.3" y="383.5" font-size="9.8" text-anchor="start" fill="#000" >12</text>
<text x="1653.2" y="383.5" font-size="9.8" text-anchor="start" fill="#000" >28</text>
<rect x="1585.2" y="390.3" width="17.8" height="17.8" fill="#E4C755"/>
<rect x="1628.4" y="390.3" width="17.8" height="17.8" fill="#5F3D69"/>
<text x="1610.3" y="402.8" font-size="9.8" text-anchor="start" fill="#000" >13</text>
<text x="1653.2" y="402.8" font-size="9.8" text-anchor="start" fill="#000" >29</text>
<rect x="1585.2" y="409.6" width="17.8" height="17.8" fill="#DCC1DD"/>
<rect x="1628.4" y="409.6" width="17.8" height="17.8" fill="#57C3F3"/>
<text x="1610.3" y="422.1" font-size="9.8" text-anchor="start" fill="#000" >14</text>
<text x="1653.2" y="422.1" font-size="9.8" text-anchor="start" fill="#000" >30</text>
<rect x="1585.2" y="428.9" width="17.8" height="17.8" fill="#68A180"/>
<rect x="1628.4" y="428.9" width="17.8" height="17.8" fill="#585658"/>
<text x="1610.3" y="441.4" font-size="9.8" text-anchor="start" fill="#000" >15</text>
<text x="1653.2" y="441.4" font-size="9.8" text-anchor="start" fill="#000" >31</text>
</g>
<defs><linearGradient id="gc" x1="0" y1="1" x2="0" y2="0"><stop offset="0" stop-color="#BDF1F6"/><stop offset="0.03" stop-color="#BDF1F6"/><stop offset="0.2" stop-color="#B4C9C4"/><stop offset="0.4" stop-color="#BCA08C"/><stop offset="0.6" stop-color="#B3775A"/><stop offset="0.8" stop-color="#A04D2C"/><stop offset="0.97" stop-color="#8B2500"/><stop offset="1" stop-color="#8B2500"/></linearGradient></defs>
<g transform="translate(0 0)">
<g transform="translate(27.05 660.43) scale(0.7668 0.5925)">
<use href="#allc" fill="#BDF1F6" stroke="#BDF1F6"/>
</g>
<path d="M142.4 923.1h0M146.2 921.9h0M142.2 922.5h0M145.3 924.0h0M142.4 920.9h0M145.7 923.2h0M147.1 923.9h0M144.3 922.2h0M148.9 922.2h0M143.2 921.1h0M144.7 922.8h0M143.9 922.5h0M145.0 923.5h0M146.4 922.9h0M141.5 923.5h0M142.1 922.4h0M146.3 919.0h0M147.3 917.0h0M148.4 914.8h0M147.8 915.8h0M140.3 925.6h0M141.5 924.6h0M142.5 923.8h0" stroke="#C59D8B" stroke-width="2.8" stroke-linecap="round" fill="none"/>
<path d="M142.4 923.1h0M142.2 922.5h0M142.4 920.9h0M147.1 923.9h0M148.9 922.2h0M144.7 922.8h0M145.0 923.5h0M141.5 923.5h0M146.3 919.0h0M148.4 914.8h0M140.3 925.6h0M142.5 923.8h0" stroke="#B67C66" stroke-width="2.4" stroke-linecap="round" fill="none"/>
<path d="M146.2 921.9h0M147.1 923.9h0M143.9 922.5h0M146.3 919.0h0M141.5 924.6h0" stroke="#A4583E" stroke-width="2.0" stroke-linecap="round" fill="none"/>
<path d="M67.9 694.5V964.9H400.5" fill="none" stroke="#000" stroke-width="1.4"/>
<path d="M114.8 964.9v4.5" stroke="#000" stroke-width="1.2"/>
<text x="114.8" y="985.3" font-size="15" text-anchor="middle" fill="#000" >−10</text>
<path d="M169.0 964.9v4.5" stroke="#000" stroke-width="1.2"/>
<text x="169.0" y="985.3" font-size="15" text-anchor="middle" fill="#000" >−5</text>
<path d="M223.5 964.9v4.5" stroke="#000" stroke-width="1.2"/>
<text x="223.5" y="985.3" font-size="15" text-anchor="middle" fill="#000" >0</text>
<path d="M277.4 964.9v4.5" stroke="#000" stroke-width="1.2"/>
<text x="277.4" y="985.3" font-size="15" text-anchor="middle" fill="#000" >5</text>
<path d="M331.5 964.9v4.5" stroke="#000" stroke-width="1.2"/>
<text x="331.5" y="985.3" font-size="15" text-anchor="middle" fill="#000" >10</text>
<path d="M385.4 964.9v4.5" stroke="#000" stroke-width="1.2"/>
<text x="385.4" y="985.3" font-size="15" text-anchor="middle" fill="#000" >15</text>
<path d="M63.4 723.3H67.9" stroke="#000" stroke-width="1.2"/>
<text x="59.5" y="728.7" font-size="15" text-anchor="end" fill="#000" >10</text>
<path d="M63.4 808.2H67.9" stroke="#000" stroke-width="1.2"/>
<text x="59.5" y="813.6" font-size="15" text-anchor="end" fill="#000" >0</text>
<path d="M63.4 893.0H67.9" stroke="#000" stroke-width="1.2"/>
<text x="59.5" y="898.4" font-size="15" text-anchor="end" fill="#000" >−10</text>
<text x="233.6" y="681.2" font-size="20.6" text-anchor="middle" fill="#000" font-weight="bold" >Nphs1</text>
<text x="233.9" y="1007.0" font-size="18.3" text-anchor="middle" fill="#000" >UMAP_1</text>
<text x="24.7" y="829.5" font-size="18.3" text-anchor="middle" fill="#000" transform="rotate(-90 24.7 829.5)" >UMAP_2</text>
<rect x="418.9" y="784.2" width="20" height="100.5" fill="url(#gc)"/>
<path d="M418.9 881.2h4M438.9 881.2h-4" stroke="#fff" stroke-width="0.6" opacity="0.8"/>
<text x="448.2" y="886.0" font-size="13.5" text-anchor="start" fill="#000" >0</text>
<path d="M418.9 862.4h4M438.9 862.4h-4" stroke="#fff" stroke-width="0.6" opacity="0.8"/>
<text x="448.2" y="867.2" font-size="13.5" text-anchor="start" fill="#000" >1</text>
<path d="M418.9 843.6h4M438.9 843.6h-4" stroke="#fff" stroke-width="0.6" opacity="0.8"/>
<text x="448.2" y="848.4" font-size="13.5" text-anchor="start" fill="#000" >2</text>
<path d="M418.9 824.7h4M438.9 824.7h-4" stroke="#fff" stroke-width="0.6" opacity="0.8"/>
<text x="448.2" y="829.5" font-size="13.5" text-anchor="start" fill="#000" >3</text>
<path d="M418.9 805.9h4M438.9 805.9h-4" stroke="#fff" stroke-width="0.6" opacity="0.8"/>
<text x="448.2" y="810.7" font-size="13.5" text-anchor="start" fill="#000" >4</text>
<path d="M418.9 787.1h4M438.9 787.1h-4" stroke="#fff" stroke-width="0.6" opacity="0.8"/>
<text x="448.2" y="791.9" font-size="13.5" text-anchor="start" fill="#000" >5</text>
</g>
<g transform="translate(464 0)">
<g transform="translate(27.05 660.43) scale(0.7668 0.5925)">
<use href="#allc" fill="#BDF1F6" stroke="#BDF1F6"/>
</g>
<path d="M142.0 922.9h0M144.0 922.0h0M146.1 922.7h0M144.0 924.9h0M143.7 921.0h0M142.2 921.9h0M145.6 923.7h0M146.4 925.0h0M147.4 923.5h0M146.8 923.5h0M143.6 923.7h0M144.7 922.4h0M148.0 923.7h0M143.8 922.6h0M148.6 922.3h0M145.9 923.5h0M146.3 919.0h0M147.3 917.0h0M148.4 914.8h0M147.8 915.8h0M140.3 925.6h0M141.5 924.6h0M142.5 923.8h0" stroke="#C59D8B" stroke-width="2.8" stroke-linecap="round" fill="none"/>
<path d="M142.0 922.9h0M146.1 922.7h0M143.7 921.0h0M145.6 923.7h0M147.4 923.5h0M143.6 923.7h0M148.0 923.7h0M148.6 922.3h0M146.3 919.0h0M148.4 914.8h0M140.3 925.6h0M142.5 923.8h0" stroke="#B67C66" stroke-width="2.4" stroke-linecap="round" fill="none"/>
<path d="M144.0 922.0h0M145.6 923.7h0M144.7 922.4h0M146.3 919.0h0M141.5 924.6h0" stroke="#A4583E" stroke-width="2.0" stroke-linecap="round" fill="none"/>
<path d="M67.9 694.5V964.9H400.5" fill="none" stroke="#000" stroke-width="1.4"/>
<path d="M114.8 964.9v4.5" stroke="#000" stroke-width="1.2"/>
<text x="114.8" y="985.3" font-size="15" text-anchor="middle" fill="#000" >−10</text>
<path d="M169.0 964.9v4.5" stroke="#000" stroke-width="1.2"/>
<text x="169.0" y="985.3" font-size="15" text-anchor="middle" fill="#000" >−5</text>
<path d="M223.5 964.9v4.5" stroke="#000" stroke-width="1.2"/>
<text x="223.5" y="985.3" font-size="15" text-anchor="middle" fill="#000" >0</text>
<path d="M277.4 964.9v4.5" stroke="#000" stroke-width="1.2"/>
<text x="277.4" y="985.3" font-size="15" text-anchor="middle" fill="#000" >5</text>
<path d="M331.5 964.9v4.5" stroke="#000" stroke-width="1.2"/>
<text x="331.5" y="985.3" font-size="15" text-anchor="middle" fill="#000" >10</text>
<path d="M385.4 964.9v4.5" stroke="#000" stroke-width="1.2"/>
<text x="385.4" y="985.3" font-size="15" text-anchor="middle" fill="#000" >15</text>
<path d="M63.4 723.3H67.9" stroke="#000" stroke-width="1.2"/>
<text x="59.5" y="728.7" font-size="15" text-anchor="end" fill="#000" >10</text>
<path d="M63.4 808.2H67.9" stroke="#000" stroke-width="1.2"/>
<text x="59.5" y="813.6" font-size="15" text-anchor="end" fill="#000" >0</text>
<path d="M63.4 893.0H67.9" stroke="#000" stroke-width="1.2"/>
<text x="59.5" y="898.4" font-size="15" text-anchor="end" fill="#000" >−10</text>
<text x="233.6" y="681.2" font-size="20.6" text-anchor="middle" fill="#000" font-weight="bold" >Nphs2</text>
<text x="233.9" y="1007.0" font-size="18.3" text-anchor="middle" fill="#000" >UMAP_1</text>
<text x="24.7" y="829.5" font-size="18.3" text-anchor="middle" fill="#000" transform="rotate(-90 24.7 829.5)" >UMAP_2</text>
<rect x="418.9" y="784.2" width="20" height="100.5" fill="url(#gc)"/>
<path d="M418.9 881.2h4M438.9 881.2h-4" stroke="#fff" stroke-width="0.6" opacity="0.8"/>
<text x="448.2" y="886.0" font-size="13.5" text-anchor="start" fill="#000" >0</text>
<path d="M418.9 862.4h4M438.9 862.4h-4" stroke="#fff" stroke-width="0.6" opacity="0.8"/>
<text x="448.2" y="867.2" font-size="13.5" text-anchor="start" fill="#000" >1</text>
<path d="M418.9 843.6h4M438.9 843.6h-4" stroke="#fff" stroke-width="0.6" opacity="0.8"/>
<text x="448.2" y="848.4" font-size="13.5" text-anchor="start" fill="#000" >2</text>
<path d="M418.9 824.7h4M438.9 824.7h-4" stroke="#fff" stroke-width="0.6" opacity="0.8"/>
<text x="448.2" y="829.5" font-size="13.5" text-anchor="start" fill="#000" >3</text>
<path d="M418.9 805.9h4M438.9 805.9h-4" stroke="#fff" stroke-width="0.6" opacity="0.8"/>
<text x="448.2" y="810.7" font-size="13.5" text-anchor="start" fill="#000" >4</text>
<path d="M418.9 787.1h4M438.9 787.1h-4" stroke="#fff" stroke-width="0.6" opacity="0.8"/>
<text x="448.2" y="791.9" font-size="13.5" text-anchor="start" fill="#000" >5</text>
</g>
<path d="M1085.8 821.3V916.8M1098.4 826.7V913.9M1111.1 812.9V913.9M1123.7 814.7V913.9M1136.4 830.3V915.0M1149.0 804.9V913.9M1161.7 850.3V913.9M1174.3 840.2V915.0M1187.0 855.8V913.9M1199.6 805.6V917.5M1212.2 834.0V913.9M1224.9 817.3V913.9M1237.5 827.8V913.9M1250.2 820.9V913.9M1262.8 860.9V913.9M1275.5 852.1V913.9M1288.1 870.3V913.9M1300.8 818.7V913.9M1313.4 874.7V913.9M1326.1 826.7V916.8M1338.7 850.3V921.2M1364.0 853.6V913.9M1376.6 873.9V916.8M1389.3 823.8V913.9M1401.9 869.6V913.9M1414.6 912.8V913.9M1427.2 856.5V913.9M1439.9 868.1V913.9M1452.5 836.2V917.5M1477.8 912.4V916.4" stroke="#222" stroke-width="1" fill="none"/>
<path d="M1079.7 913.9H1344.8M1357.8 913.9H1484.9" stroke="#333" stroke-width="1.3" fill="none"/>
<path d="M1351.3 731.5C1351.2 735.6 1351.2 738.8 1351.0 746.8C1350.9 754.7 1351.1 754.5 1350.7 761.3C1350.4 768.1 1350.7 766.4 1349.7 772.2C1348.8 778.0 1348.3 777.3 1347.1 783.1C1346.0 788.9 1346.0 789.2 1345.5 794.0C1345.1 798.9 1345.1 796.4 1345.4 801.3C1345.8 806.1 1345.9 806.4 1346.7 812.2C1347.6 818.0 1347.8 817.3 1348.7 823.1C1349.7 828.9 1349.6 828.2 1350.1 834.0C1350.7 839.8 1350.6 838.1 1350.8 844.9C1351.1 851.7 1351.1 850.7 1351.1 859.4C1351.2 868.1 1351.3 868.9 1351.1 877.6C1350.9 886.3 1350.7 886.3 1350.4 892.1C1350.2 897.9 1350.1 895.5 1350.1 899.4C1350.2 903.2 1350.3 902.8 1350.5 906.6C1350.8 910.5 1350.9 912.0 1351.1 913.9C1351.4 915.8 1351.3 915.8 1351.5 913.9C1351.8 912.0 1351.9 910.5 1352.1 906.6C1352.4 902.8 1352.5 903.2 1352.5 899.4C1352.6 895.5 1352.5 897.9 1352.2 892.1C1352.0 886.3 1351.8 886.3 1351.6 877.6C1351.4 868.9 1351.5 868.1 1351.5 859.4C1351.6 850.7 1351.6 851.7 1351.8 844.9C1352.1 838.1 1352.0 839.8 1352.5 834.0C1353.1 828.2 1353.0 828.9 1353.9 823.1C1354.9 817.3 1355.1 818.0 1355.9 812.2C1356.8 806.4 1356.9 806.1 1357.2 801.3C1357.6 796.4 1357.6 798.9 1357.1 794.0C1356.7 789.2 1356.7 788.9 1355.5 783.1C1354.4 777.3 1353.9 778.0 1352.9 772.2C1352.0 766.4 1352.3 768.1 1351.9 761.3C1351.6 754.5 1351.8 754.7 1351.6 746.8C1351.5 738.8 1351.5 735.6 1351.4 731.5C1351.3 727.5 1351.4 727.5 1351.3 731.5Z" fill="#E5D2DD" stroke="#222" stroke-width="0.8"/>
<path d="M1078.2 716.6V929.9H1485.9" fill="none" stroke="#000" stroke-width="1.2"/>
<path d="M1078.2 913.9h-3.6" stroke="#000" stroke-width="1"/>
<text x="1071.4" y="918.5" font-size="13" text-anchor="end" fill="#000" >0</text>
<path d="M1078.2 877.6h-3.6" stroke="#000" stroke-width="1"/>
<text x="1071.4" y="882.2" font-size="13" text-anchor="end" fill="#000" >1</text>
<path d="M1078.2 841.2h-3.6" stroke="#000" stroke-width="1"/>
<text x="1071.4" y="845.8" font-size="13" text-anchor="end" fill="#000" >2</text>
<path d="M1078.2 804.9h-3.6" stroke="#000" stroke-width="1"/>
<text x="1071.4" y="809.5" font-size="13" text-anchor="end" fill="#000" >3</text>
<path d="M1078.2 768.6h-3.6" stroke="#000" stroke-width="1"/>
<text x="1071.4" y="773.2" font-size="13" text-anchor="end" fill="#000" >4</text>
<path d="M1078.2 732.2h-3.6" stroke="#000" stroke-width="1"/>
<text x="1071.4" y="736.9" font-size="13" text-anchor="end" fill="#000" >5</text>
<path d="M1085.8 929.9v3.6" stroke="#000" stroke-width="1"/>
<text x="1091.8" y="945.4" font-size="12.8" text-anchor="end" fill="#000" transform="rotate(-45 1091.8 945.4)" >0</text>
<path d="M1098.4 929.9v3.6" stroke="#000" stroke-width="1"/>
<text x="1104.4" y="945.4" font-size="12.8" text-anchor="end" fill="#000" transform="rotate(-45 1104.4 945.4)" >1</text>
<path d="M1111.1 929.9v3.6" stroke="#000" stroke-width="1"/>
<text x="1117.1" y="945.4" font-size="12.8" text-anchor="end" fill="#000" transform="rotate(-45 1117.1 945.4)" >2</text>
<path d="M1123.7 929.9v3.6" stroke="#000" stroke-width="1"/>
<text x="1129.7" y="945.4" font-size="12.8" text-anchor="end" fill="#000" transform="rotate(-45 1129.7 945.4)" >3</text>
<path d="M1136.4 929.9v3.6" stroke="#000" stroke-width="1"/>
<text x="1142.4" y="945.4" font-size="12.8" text-anchor="end" fill="#000" transform="rotate(-45 1142.4 945.4)" >4</text>
<path d="M1149.0 929.9v3.6" stroke="#000" stroke-width="1"/>
<text x="1155.0" y="945.4" font-size="12.8" text-anchor="end" fill="#000" transform="rotate(-45 1155.0 945.4)" >5</text>
<path d="M1161.7 929.9v3.6" stroke="#000" stroke-width="1"/>
<text x="1167.7" y="945.4" font-size="12.8" text-anchor="end" fill="#000" transform="rotate(-45 1167.7 945.4)" >6</text>
<path d="M1174.3 929.9v3.6" stroke="#000" stroke-width="1"/>
<text x="1180.3" y="945.4" font-size="12.8" text-anchor="end" fill="#000" transform="rotate(-45 1180.3 945.4)" >7</text>
<path d="M1187.0 929.9v3.6" stroke="#000" stroke-width="1"/>
<text x="1193.0" y="945.4" font-size="12.8" text-anchor="end" fill="#000" transform="rotate(-45 1193.0 945.4)" >8</text>
<path d="M1199.6 929.9v3.6" stroke="#000" stroke-width="1"/>
<text x="1205.6" y="945.4" font-size="12.8" text-anchor="end" fill="#000" transform="rotate(-45 1205.6 945.4)" >9</text>
<path d="M1212.2 929.9v3.6" stroke="#000" stroke-width="1"/>
<text x="1218.2" y="945.4" font-size="12.8" text-anchor="end" fill="#000" transform="rotate(-45 1218.2 945.4)" >10</text>
<path d="M1224.9 929.9v3.6" stroke="#000" stroke-width="1"/>
<text x="1230.9" y="945.4" font-size="12.8" text-anchor="end" fill="#000" transform="rotate(-45 1230.9 945.4)" >11</text>
<path d="M1237.5 929.9v3.6" stroke="#000" stroke-width="1"/>
<text x="1243.5" y="945.4" font-size="12.8" text-anchor="end" fill="#000" transform="rotate(-45 1243.5 945.4)" >12</text>
<path d="M1250.2 929.9v3.6" stroke="#000" stroke-width="1"/>
<text x="1256.2" y="945.4" font-size="12.8" text-anchor="end" fill="#000" transform="rotate(-45 1256.2 945.4)" >13</text>
<path d="M1262.8 929.9v3.6" stroke="#000" stroke-width="1"/>
<text x="1268.8" y="945.4" font-size="12.8" text-anchor="end" fill="#000" transform="rotate(-45 1268.8 945.4)" >14</text>
<path d="M1275.5 929.9v3.6" stroke="#000" stroke-width="1"/>
<text x="1281.5" y="945.4" font-size="12.8" text-anchor="end" fill="#000" transform="rotate(-45 1281.5 945.4)" >15</text>
<path d="M1288.1 929.9v3.6" stroke="#000" stroke-width="1"/>
<text x="1294.1" y="945.4" font-size="12.8" text-anchor="end" fill="#000" transform="rotate(-45 1294.1 945.4)" >16</text>
<path d="M1300.8 929.9v3.6" stroke="#000" stroke-width="1"/>
<text x="1306.8" y="945.4" font-size="12.8" text-anchor="end" fill="#000" transform="rotate(-45 1306.8 945.4)" >17</text>
<path d="M1313.4 929.9v3.6" stroke="#000" stroke-width="1"/>
<text x="1319.4" y="945.4" font-size="12.8" text-anchor="end" fill="#000" transform="rotate(-45 1319.4 945.4)" >18</text>
<path d="M1326.1 929.9v3.6" stroke="#000" stroke-width="1"/>
<text x="1332.1" y="945.4" font-size="12.8" text-anchor="end" fill="#000" transform="rotate(-45 1332.1 945.4)" >19</text>
<path d="M1338.7 929.9v3.6" stroke="#000" stroke-width="1"/>
<text x="1344.7" y="945.4" font-size="12.8" text-anchor="end" fill="#000" transform="rotate(-45 1344.7 945.4)" >20</text>
<path d="M1351.3 929.9v3.6" stroke="#000" stroke-width="1"/>
<text x="1357.3" y="945.4" font-size="12.8" text-anchor="end" fill="#000" transform="rotate(-45 1357.3 945.4)" >21</text>
<path d="M1364.0 929.9v3.6" stroke="#000" stroke-width="1"/>
<text x="1370.0" y="945.4" font-size="12.8" text-anchor="end" fill="#000" transform="rotate(-45 1370.0 945.4)" >22</text>
<path d="M1376.6 929.9v3.6" stroke="#000" stroke-width="1"/>
<text x="1382.6" y="945.4" font-size="12.8" text-anchor="end" fill="#000" transform="rotate(-45 1382.6 945.4)" >23</text>
<path d="M1389.3 929.9v3.6" stroke="#000" stroke-width="1"/>
<text x="1395.3" y="945.4" font-size="12.8" text-anchor="end" fill="#000" transform="rotate(-45 1395.3 945.4)" >24</text>
<path d="M1401.9 929.9v3.6" stroke="#000" stroke-width="1"/>
<text x="1407.9" y="945.4" font-size="12.8" text-anchor="end" fill="#000" transform="rotate(-45 1407.9 945.4)" >25</text>
<path d="M1414.6 929.9v3.6" stroke="#000" stroke-width="1"/>
<text x="1420.6" y="945.4" font-size="12.8" text-anchor="end" fill="#000" transform="rotate(-45 1420.6 945.4)" >26</text>
<path d="M1427.2 929.9v3.6" stroke="#000" stroke-width="1"/>
<text x="1433.2" y="945.4" font-size="12.8" text-anchor="end" fill="#000" transform="rotate(-45 1433.2 945.4)" >27</text>
<path d="M1439.9 929.9v3.6" stroke="#000" stroke-width="1"/>
<text x="1445.9" y="945.4" font-size="12.8" text-anchor="end" fill="#000" transform="rotate(-45 1445.9 945.4)" >28</text>
<path d="M1452.5 929.9v3.6" stroke="#000" stroke-width="1"/>
<text x="1458.5" y="945.4" font-size="12.8" text-anchor="end" fill="#000" transform="rotate(-45 1458.5 945.4)" >29</text>
<path d="M1465.1 929.9v3.6" stroke="#000" stroke-width="1"/>
<text x="1471.1" y="945.4" font-size="12.8" text-anchor="end" fill="#000" transform="rotate(-45 1471.1 945.4)" >30</text>
<path d="M1477.8 929.9v3.6" stroke="#000" stroke-width="1"/>
<text x="1483.8" y="945.4" font-size="12.8" text-anchor="end" fill="#000" transform="rotate(-45 1483.8 945.4)" >31</text>
<text x="1281.0" y="707.0" font-size="16.7" text-anchor="middle" fill="#000" font-weight="bold" >Nphs1</text>
<text x="1281.0" y="971.0" font-size="14.5" text-anchor="middle" fill="#000" >Identity</text>
<text x="1057.2" y="823.4" font-size="14.5" text-anchor="middle" fill="#000" transform="rotate(-90 1057.2 823.4)" >Expression Level</text>
<path d="M1539.7 815.4V914.5M1552.4 828.3V918.2M1565.0 810.6V914.5M1577.7 800.7V914.5M1590.3 813.6V914.5M1603.0 800.7V920.7M1615.6 806.2V914.5M1628.3 814.3V914.5M1640.9 811.7V919.3M1653.6 809.2V914.5M1666.2 810.6V914.5M1678.9 810.6V919.3M1691.6 822.8V914.5M1704.2 847.7V914.5M1716.9 831.9V914.5M1729.5 816.5V914.5M1742.2 861.3V914.5M1754.8 805.5V914.5M1767.5 830.1V917.1M1780.1 826.4V914.5M1792.8 871.6V914.5M1818.1 858.7V914.5M1830.8 842.2V914.5M1843.4 823.5V914.5M1856.1 865.7V914.5M1868.7 871.2V917.4M1881.4 827.5V914.5M1894.0 871.6V917.4M1906.7 910.8V917.4M1919.3 862.0V914.5M1932.0 913.0V914.5" stroke="#222" stroke-width="1" fill="none"/>
<path d="M1533.9 914.5H1799.0M1812.0 914.5H1939.0" stroke="#333" stroke-width="1.3" fill="none"/>
<path d="M1805.4 730.3C1805.3 734.4 1805.3 737.7 1805.2 745.7C1805.0 753.7 1805.2 753.5 1804.9 760.4C1804.5 767.2 1804.8 765.5 1803.9 771.4C1802.9 777.2 1802.4 776.5 1801.3 782.4C1800.1 788.3 1800.1 788.5 1799.7 793.4C1799.2 798.3 1799.2 795.8 1799.6 800.7C1799.9 805.6 1800.0 805.9 1800.9 811.7C1801.7 817.6 1801.9 816.9 1802.9 822.8C1803.8 828.6 1803.7 827.9 1804.3 833.8C1804.8 839.6 1804.7 837.9 1805.0 844.8C1805.2 851.6 1805.2 850.6 1805.3 859.5C1805.3 868.3 1805.4 869.0 1805.2 877.8C1805.0 886.6 1804.8 886.6 1804.6 892.5C1804.3 898.4 1804.2 895.9 1804.3 899.8C1804.3 903.7 1804.4 903.2 1804.7 907.2C1804.9 911.1 1805.0 912.5 1805.3 914.5C1805.5 916.5 1805.4 916.5 1805.7 914.5C1805.9 912.5 1806.0 911.1 1806.3 907.2C1806.5 903.2 1806.6 903.7 1806.7 899.8C1806.7 895.9 1806.6 898.4 1806.4 892.5C1806.1 886.6 1805.9 886.6 1805.7 877.8C1805.5 869.0 1805.6 868.3 1805.7 859.5C1805.7 850.6 1805.7 851.6 1806.0 844.8C1806.2 837.9 1806.1 839.6 1806.7 833.8C1807.2 827.9 1807.1 828.6 1808.1 822.8C1809.0 816.9 1809.2 817.6 1810.1 811.7C1810.9 805.9 1811.0 805.6 1811.4 800.7C1811.7 795.8 1811.7 798.3 1811.3 793.4C1810.8 788.5 1810.8 788.3 1809.7 782.4C1808.5 776.5 1808.0 777.2 1807.1 771.4C1806.1 765.5 1806.4 767.2 1806.1 760.4C1805.7 753.5 1805.9 753.7 1805.8 745.7C1805.6 737.7 1805.6 734.4 1805.5 730.3C1805.4 726.2 1805.5 726.2 1805.4 730.3Z" fill="#E5D2DD" stroke="#222" stroke-width="0.8"/>
<path d="M1532.4 716.6V930.7H1940.0" fill="none" stroke="#000" stroke-width="1.2"/>
<path d="M1532.4 914.5h-3.6" stroke="#000" stroke-width="1"/>
<text x="1525.6" y="919.1" font-size="13" text-anchor="end" fill="#000" >0</text>
<path d="M1532.4 877.8h-3.6" stroke="#000" stroke-width="1"/>
<text x="1525.6" y="882.4" font-size="13" text-anchor="end" fill="#000" >1</text>
<path d="M1532.4 841.1h-3.6" stroke="#000" stroke-width="1"/>
<text x="1525.6" y="845.7" font-size="13" text-anchor="end" fill="#000" >2</text>
<path d="M1532.4 804.4h-3.6" stroke="#000" stroke-width="1"/>
<text x="1525.6" y="809.0" font-size="13" text-anchor="end" fill="#000" >3</text>
<path d="M1532.4 767.7h-3.6" stroke="#000" stroke-width="1"/>
<text x="1525.6" y="772.3" font-size="13" text-anchor="end" fill="#000" >4</text>
<path d="M1532.4 731.0h-3.6" stroke="#000" stroke-width="1"/>
<text x="1525.6" y="735.6" font-size="13" text-anchor="end" fill="#000" >5</text>
<path d="M1539.7 930.7v3.6" stroke="#000" stroke-width="1"/>
<text x="1545.7" y="946.2" font-size="12.8" text-anchor="end" fill="#000" transform="rotate(-45 1545.7 946.2)" >0</text>
<path d="M1552.4 930.7v3.6" stroke="#000" stroke-width="1"/>
<text x="1558.4" y="946.2" font-size="12.8" text-anchor="end" fill="#000" transform="rotate(-45 1558.4 946.2)" >1</text>
<path d="M1565.0 930.7v3.6" stroke="#000" stroke-width="1"/>
<text x="1571.0" y="946.2" font-size="12.8" text-anchor="end" fill="#000" transform="rotate(-45 1571.0 946.2)" >2</text>
<path d="M1577.7 930.7v3.6" stroke="#000" stroke-width="1"/>
<text x="1583.7" y="946.2" font-size="12.8" text-anchor="end" fill="#000" transform="rotate(-45 1583.7 946.2)" >3</text>
<path d="M1590.3 930.7v3.6" stroke="#000" stroke-width="1"/>
<text x="1596.3" y="946.2" font-size="12.8" text-anchor="end" fill="#000" transform="rotate(-45 1596.3 946.2)" >4</text>
<path d="M1603.0 930.7v3.6" stroke="#000" stroke-width="1"/>
<text x="1609.0" y="946.2" font-size="12.8" text-anchor="end" fill="#000" transform="rotate(-45 1609.0 946.2)" >5</text>
<path d="M1615.6 930.7v3.6" stroke="#000" stroke-width="1"/>
<text x="1621.6" y="946.2" font-size="12.8" text-anchor="end" fill="#000" transform="rotate(-45 1621.6 946.2)" >6</text>
<path d="M1628.3 930.7v3.6" stroke="#000" stroke-width="1"/>
<text x="1634.3" y="946.2" font-size="12.8" text-anchor="end" fill="#000" transform="rotate(-45 1634.3 946.2)" >7</text>
<path d="M1640.9 930.7v3.6" stroke="#000" stroke-width="1"/>
<text x="1646.9" y="946.2" font-size="12.8" text-anchor="end" fill="#000" transform="rotate(-45 1646.9 946.2)" >8</text>
<path d="M1653.6 930.7v3.6" stroke="#000" stroke-width="1"/>
<text x="1659.6" y="946.2" font-size="12.8" text-anchor="end" fill="#000" transform="rotate(-45 1659.6 946.2)" >9</text>
<path d="M1666.2 930.7v3.6" stroke="#000" stroke-width="1"/>
<text x="1672.2" y="946.2" font-size="12.8" text-anchor="end" fill="#000" transform="rotate(-45 1672.2 946.2)" >10</text>
<path d="M1678.9 930.7v3.6" stroke="#000" stroke-width="1"/>
<text x="1684.9" y="946.2" font-size="12.8" text-anchor="end" fill="#000" transform="rotate(-45 1684.9 946.2)" >11</text>
<path d="M1691.6 930.7v3.6" stroke="#000" stroke-width="1"/>
<text x="1697.6" y="946.2" font-size="12.8" text-anchor="end" fill="#000" transform="rotate(-45 1697.6 946.2)" >12</text>
<path d="M1704.2 930.7v3.6" stroke="#000" stroke-width="1"/>
<text x="1710.2" y="946.2" font-size="12.8" text-anchor="end" fill="#000" transform="rotate(-45 1710.2 946.2)" >13</text>
<path d="M1716.9 930.7v3.6" stroke="#000" stroke-width="1"/>
<text x="1722.9" y="946.2" font-size="12.8" text-anchor="end" fill="#000" transform="rotate(-45 1722.9 946.2)" >14</text>
<path d="M1729.5 930.7v3.6" stroke="#000" stroke-width="1"/>
<text x="1735.5" y="946.2" font-size="12.8" text-anchor="end" fill="#000" transform="rotate(-45 1735.5 946.2)" >15</text>
<path d="M1742.2 930.7v3.6" stroke="#000" stroke-width="1"/>
<text x="1748.2" y="946.2" font-size="12.8" text-anchor="end" fill="#000" transform="rotate(-45 1748.2 946.2)" >16</text>
<path d="M1754.8 930.7v3.6" stroke="#000" stroke-width="1"/>
<text x="1760.8" y="946.2" font-size="12.8" text-anchor="end" fill="#000" transform="rotate(-45 1760.8 946.2)" >17</text>
<path d="M1767.5 930.7v3.6" stroke="#000" stroke-width="1"/>
<text x="1773.5" y="946.2" font-size="12.8" text-anchor="end" fill="#000" transform="rotate(-45 1773.5 946.2)" >18</text>
<path d="M1780.1 930.7v3.6" stroke="#000" stroke-width="1"/>
<text x="1786.1" y="946.2" font-size="12.8" text-anchor="end" fill="#000" transform="rotate(-45 1786.1 946.2)" >19</text>
<path d="M1792.8 930.7v3.6" stroke="#000" stroke-width="1"/>
<text x="1798.8" y="946.2" font-size="12.8" text-anchor="end" fill="#000" transform="rotate(-45 1798.8 946.2)" >20</text>
<path d="M1805.5 930.7v3.6" stroke="#000" stroke-width="1"/>
<text x="1811.5" y="946.2" font-size="12.8" text-anchor="end" fill="#000" transform="rotate(-45 1811.5 946.2)" >21</text>
<path d="M1818.1 930.7v3.6" stroke="#000" stroke-width="1"/>
<text x="1824.1" y="946.2" font-size="12.8" text-anchor="end" fill="#000" transform="rotate(-45 1824.1 946.2)" >22</text>
<path d="M1830.8 930.7v3.6" stroke="#000" stroke-width="1"/>
<text x="1836.8" y="946.2" font-size="12.8" text-anchor="end" fill="#000" transform="rotate(-45 1836.8 946.2)" >23</text>
<path d="M1843.4 930.7v3.6" stroke="#000" stroke-width="1"/>
<text x="1849.4" y="946.2" font-size="12.8" text-anchor="end" fill="#000" transform="rotate(-45 1849.4 946.2)" >24</text>
<path d="M1856.1 930.7v3.6" stroke="#000" stroke-width="1"/>
<text x="1862.1" y="946.2" font-size="12.8" text-anchor="end" fill="#000" transform="rotate(-45 1862.1 946.2)" >25</text>
<path d="M1868.7 930.7v3.6" stroke="#000" stroke-width="1"/>
<text x="1874.7" y="946.2" font-size="12.8" text-anchor="end" fill="#000" transform="rotate(-45 1874.7 946.2)" >26</text>
<path d="M1881.4 930.7v3.6" stroke="#000" stroke-width="1"/>
<text x="1887.4" y="946.2" font-size="12.8" text-anchor="end" fill="#000" transform="rotate(-45 1887.4 946.2)" >27</text>
<path d="M1894.0 930.7v3.6" stroke="#000" stroke-width="1"/>
<text x="1900.0" y="946.2" font-size="12.8" text-anchor="end" fill="#000" transform="rotate(-45 1900.0 946.2)" >28</text>
<path d="M1906.7 930.7v3.6" stroke="#000" stroke-width="1"/>
<text x="1912.7" y="946.2" font-size="12.8" text-anchor="end" fill="#000" transform="rotate(-45 1912.7 946.2)" >29</text>
<path d="M1919.3 930.7v3.6" stroke="#000" stroke-width="1"/>
<text x="1925.3" y="946.2" font-size="12.8" text-anchor="end" fill="#000" transform="rotate(-45 1925.3 946.2)" >30</text>
<path d="M1932.0 930.7v3.6" stroke="#000" stroke-width="1"/>
<text x="1938.0" y="946.2" font-size="12.8" text-anchor="end" fill="#000" transform="rotate(-45 1938.0 946.2)" >31</text>
<text x="1736.0" y="707.0" font-size="16.7" text-anchor="middle" fill="#000" font-weight="bold" >Nphs2</text>
<text x="1736.0" y="971.0" font-size="14.5" text-anchor="middle" fill="#000" >Identity</text>
<text x="1511.4" y="823.4" font-size="14.5" text-anchor="middle" fill="#000" transform="rotate(-90 1511.4 823.4)" >Expression Level</text>
<g id="pe">
<path d="M223.1 1818.9h0M239.6 1819.9h0M269.3 1819.4h0M276.1 1820.1h0M289.8 1820.1h0M293.3 1820.1h0M311.0 1820.1h0M319.2 1820.1h0M326.3 1820.1h0M331.0 1820.1h0M338.1 1819.4h0M348.7 1820.1h0M353.4 1820.1h0M369.9 1680.3h0M378.2 1680.3h0M381.7 1679.6h0M372.3 1688.1h0M408.8 1689.3h0M412.4 1694.5h0M407.6 1698.0h0M408.8 1701.5h0M398.2 1703.2h0M371.1 1707.9h0M378.9 1705.5h0M425.8 1711.0h0M398.2 1715.0h0M384.1 1716.9h0M379.4 1721.6h0M423.7 1719.7h0M406.5 1725.1h0M372.3 1728.2h0M379.4 1727.5h0M395.9 1728.2h0M400.6 1735.7h0M420.6 1732.2h0M417.1 1736.9h0M372.3 1740.4h0M381.7 1739.2h0M399.4 1740.4h0M421.8 1740.4h0M427.7 1740.4h0M395.9 1744.0h0M391.1 1747.5h0M386.4 1749.9h0M367.6 1752.2h0M377.0 1753.4h0M410.0 1745.1h0M419.4 1747.5h0M426.5 1749.9h0M428.9 1745.1h0M407.5 1817.5h0M387.0 1818.9h0M394.2 1813.0h0M424.1 1809.0h0M425.4 1811.2h0M423.4 1818.6h0M401.2 1792.7h0M420.0 1816.2h0M388.5 1774.0h0M391.7 1812.2h0M366.7 1819.4h0M374.1 1814.8h0M418.7 1818.1h0M408.5 1793.7h0M416.4 1806.5h0M387.8 1812.8h0M393.5 1819.1h0M424.0 1816.5h0M385.2 1811.4h0M408.1 1806.3h0M399.4 1814.5h0M378.1 1801.3h0M412.5 1806.8h0M394.9 1787.6h0M382.1 1814.8h0M366.4 1818.1h0M401.6 1798.0h0M418.2 1809.6h0M425.3 1802.9h0M379.9 1806.8h0M373.0 1814.2h0M384.3 1806.0h0M391.5 1810.6h0M375.2 1774.9h0M398.1 1803.1h0M424.0 1801.2h0M376.3 1814.9h0M403.6 1802.8h0M426.3 1810.4h0M417.2 1818.2h0M424.1 1797.3h0M419.7 1815.7h0M403.3 1788.1h0M422.7 1810.8h0M393.4 1786.5h0M376.5 1788.9h0M410.3 1811.7h0M405.3 1786.4h0M367.8 1817.5h0M416.7 1816.0h0M413.2 1809.7h0M390.9 1815.3h0M427.5 1811.6h0M404.7 1807.1h0M368.1 1801.8h0M395.5 1805.1h0M385.5 1819.2h0M371.5 1796.5h0M373.0 1795.1h0M403.2 1812.1h0M421.3 1804.4h0M423.9 1819.0h0M414.7 1817.3h0M406.5 1819.3h0M427.7 1817.5h0M421.4 1813.0h0M426.2 1787.7h0M389.3 1817.6h0M412.0 1813.4h0M405.0 1818.1h0M398.6 1809.8h0M422.4 1818.4h0M406.3 1815.3h0M375.9 1817.4h0M426.3 1773.0h0M394.7 1817.6h0M393.8 1819.7h0M373.7 1801.5h0M411.4 1813.0h0M417.3 1797.0h0M394.4 1796.5h0M407.1 1816.2h0M374.4 1794.5h0M376.6 1799.1h0M413.6 1808.7h0M405.5 1819.6h0M426.0 1815.0h0M411.5 1801.7h0M367.9 1810.8h0M368.0 1813.0h0M414.0 1816.1h0M415.4 1816.5h0M388.7 1784.1h0M375.2 1809.9h0M386.9 1795.0h0M422.4 1803.2h0M370.8 1796.3h0M380.8 1809.9h0M416.6 1795.8h0M407.0 1794.9h0M367.0 1812.2h0M402.6 1774.3h0M382.4 1817.2h0M419.8 1817.5h0M371.2 1794.4h0M418.6 1792.7h0M366.4 1803.4h0M405.8 1807.7h0M419.6 1819.9h0M367.0 1803.7h0M394.8 1777.7h0M400.6 1788.0h0M376.1 1816.4h0M412.0 1814.7h0M412.7 1806.3h0M411.5 1811.6h0M419.6 1782.5h0M405.6 1810.5h0M391.3 1783.5h0M401.4 1781.1h0M396.4 1808.2h0M395.0 1819.8h0M400.2 1816.9h0M427.5 1795.0h0M417.0 1810.1h0M382.4 1807.4h0M407.4 1808.7h0M393.0 1796.1h0M421.1 1807.3h0M412.2 1815.0h0M379.4 1809.0h0M392.6 1797.8h0M370.7 1811.0h0M389.4 1809.1h0M395.7 1801.7h0M399.5 1808.2h0M397.8 1775.8h0M384.0 1787.4h0M368.8 1815.4h0M392.8 1775.3h0M375.2 1817.8h0M420.1 1811.0h0M423.2 1815.8h0M423.2 1802.8h0M378.7 1784.6h0M418.1 1800.4h0M386.5 1817.7h0M372.5 1766.6h0M414.0 1772.5h0M402.8 1809.7h0M365.8 1792.2h0M417.7 1811.3h0M395.5 1813.6h0M415.5 1814.1h0M382.6 1819.8h0M393.1 1811.0h0M426.6 1813.8h0M388.7 1808.9h0M378.4 1764.4h0M421.2 1815.3h0M425.3 1796.5h0M410.8 1817.9h0M401.3 1782.2h0M376.5 1815.4h0M418.4 1780.8h0M392.1 1801.3h0M422.2 1819.2h0M384.7 1811.4h0M423.2 1776.6h0M388.1 1794.8h0M422.5 1789.8h0M423.6 1789.1h0M399.4 1813.6h0M393.2 1779.3h0M411.0 1817.9h0M394.8 1815.8h0M420.9 1817.3h0M424.6 1816.6h0M408.2 1814.4h0M380.2 1814.8h0M396.5 1817.0h0M406.0 1819.8h0M412.1 1819.9h0M381.9 1807.6h0M415.9 1810.0h0M369.3 1818.3h0M376.5 1811.3h0M396.8 1792.0h0M403.2 1809.1h0M406.3 1792.2h0M383.5 1804.3h0M402.4 1813.4h0M424.3 1817.9h0M423.3 1799.0h0M411.8 1817.3h0M422.5 1791.4h0M373.3 1802.8h0M410.1 1815.8h0M409.4 1810.5h0M417.9 1810.9h0M411.3 1769.1h0M366.9 1807.7h0M412.5 1767.4h0M408.4 1813.2h0M427.7 1812.6h0M398.1 1809.2h0M415.2 1809.1h0M427.4 1815.3h0M422.1 1812.1h0M425.1 1819.7h0M408.7 1816.0h0M391.1 1808.3h0M380.8 1803.4h0M383.0 1787.1h0M403.4 1813.9h0M366.2 1817.6h0M382.5 1804.0h0M425.0 1791.9h0M372.0 1804.7h0M381.8 1794.0h0M419.0 1808.5h0M396.2 1792.0h0M377.4 1792.8h0M391.2 1785.2h0M385.0 1801.6h0M413.4 1819.6h0M419.4 1813.1h0M421.2 1791.9h0M392.8 1804.7h0M388.6 1802.3h0M397.1 1820.0h0M377.9 1798.6h0M396.3 1808.1h0M386.5 1819.0h0M381.7 1815.6h0M423.1 1815.3h0M382.1 1816.5h0M381.5 1762.0h0M396.9 1812.6h0M397.8 1802.1h0M379.8 1805.1h0M387.5 1818.8h0M418.5 1815.5h0M381.3 1814.4h0M392.2 1819.9h0M424.0 1815.2h0M385.7 1801.7h0M385.5 1814.7h0M395.4 1810.3h0M398.6 1818.1h0M371.9 1816.6h0M366.6 1777.1h0M426.7 1810.5h0M376.5 1766.3h0M399.6 1815.2h0M414.6 1774.6h0M414.6 1806.5h0M418.9 1808.5h0M368.2 1817.9h0M376.4 1809.0h0M372.3 1801.1h0M413.3 1784.5h0M397.3 1819.7h0M427.5 1809.5h0M399.6 1814.5h0M418.9 1813.5h0M408.0 1791.5h0M427.6 1798.4h0M375.3 1818.1h0M369.8 1800.6h0M371.4 1814.8h0M404.5 1812.3h0M365.3 1806.2h0M405.2 1811.4h0M410.5 1819.3h0M421.4 1792.0h0M409.9 1777.3h0M412.2 1815.3h0M395.8 1816.8h0M404.4 1771.3h0M372.4 1794.0h0M388.3 1781.9h0M368.9 1807.7h0M382.7 1819.3h0M381.9 1810.7h0M380.7 1803.9h0M409.8 1819.3h0M369.8 1818.0h0M398.2 1813.5h0M409.1 1799.1h0M366.7 1815.4h0M386.7 1814.5h0M392.9 1812.3h0M417.3 1817.3h0M414.7 1783.2h0M396.7 1816.2h0M399.6 1817.8h0M415.7 1818.6h0M406.4 1818.6h0M412.8 1815.4h0M392.1 1786.0h0M380.9 1811.8h0M401.9 1808.5h0M404.2 1813.7h0M423.9 1815.0h0M367.2 1818.0h0M396.3 1804.6h0M373.8 1816.3h0M410.8 1815.6h0M402.7 1810.9h0M368.1 1790.6h0M373.2 1819.8h0M425.7 1800.8h0M371.7 1810.1h0M391.0 1820.1h0M403.3 1779.3h0M376.1 1789.9h0M366.9 1815.6h0M420.9 1817.5h0M395.1 1802.2h0M368.9 1800.1h0M387.3 1797.5h0M399.1 1807.6h0M425.3 1796.3h0M413.2 1780.7h0M387.4 1814.4h0M419.7 1815.6h0M387.9 1801.4h0M420.7 1819.0h0M394.9 1806.4h0M403.5 1816.1h0M390.2 1819.9h0M408.9 1810.5h0M367.8 1803.9h0M372.5 1810.0h0M413.1 1815.7h0M367.7 1801.1h0M408.5 1819.8h0M396.6 1802.6h0M401.5 1815.5h0M386.0 1779.6h0M413.6 1819.6h0M406.6 1811.6h0M385.1 1816.7h0M377.9 1799.1h0M396.2 1816.5h0M367.1 1814.3h0M376.5 1816.0h0M413.9 1797.8h0M409.3 1772.7h0M396.7 1816.9h0M413.8 1811.7h0M386.1 1773.7h0M418.6 1812.3h0M414.4 1763.0h0M418.9 1819.3h0M424.0 1812.3h0M371.6 1786.5h0M369.5 1813.9h0M416.1 1777.2h0M381.1 1819.6h0M386.2 1812.7h0M404.4 1813.8h0M417.2 1820.1h0M410.2 1813.3h0M368.0 1818.0h0M367.4 1816.5h0M405.4 1793.2h0M376.3 1811.3h0M424.7 1810.1h0M404.4 1780.7h0M415.7 1813.0h0M371.6 1819.6h0M402.1 1794.0h0M379.8 1819.5h0M425.6 1819.1h0M370.2 1815.5h0M381.0 1784.4h0M406.5 1815.1h0M367.8 1805.1h0M411.4 1800.4h0M408.0 1815.1h0M427.5 1798.1h0M370.4 1804.4h0M368.7 1819.7h0M413.1 1810.0h0M367.9 1772.0h0M403.6 1815.6h0M400.9 1809.5h0M369.7 1816.9h0M377.5 1799.2h0M376.3 1797.0h0M389.8 1813.9h0M407.8 1813.1h0M378.8 1818.8h0M415.4 1798.3h0M412.3 1819.1h0M425.6 1807.5h0M411.2 1818.7h0M421.7 1809.3h0M383.4 1810.8h0M413.1 1811.7h0M388.9 1802.6h0M381.0 1790.8h0M386.2 1818.1h0M375.2 1814.7h0M392.3 1812.8h0M381.6 1816.6h0M412.3 1815.7h0M418.2 1786.4h0M391.6 1813.9h0M396.0 1816.0h0M377.2 1803.6h0M365.8 1818.4h0M398.1 1793.4h0M375.2 1781.7h0M425.2 1814.7h0M420.3 1816.8h0M366.9 1806.4h0M369.6 1812.8h0M373.6 1810.8h0M411.5 1796.6h0M368.6 1818.4h0M390.5 1805.0h0M414.1 1812.9h0M418.9 1816.5h0M411.8 1805.8h0M387.0 1816.5h0M427.0 1813.9h0M385.3 1816.9h0M408.2 1816.5h0M378.0 1807.7h0M423.8 1818.4h0M403.0 1807.6h0M387.8 1818.6h0M417.5 1801.5h0M402.1 1814.9h0M408.5 1772.3h0M408.2 1807.0h0M405.4 1811.7h0M405.0 1816.7h0M382.2 1816.5h0M427.4 1783.9h0M401.2 1793.3h0M402.3 1786.6h0M398.9 1817.3h0M426.8 1807.6h0M387.7 1782.5h0M422.2 1804.9h0M404.6 1809.1h0M418.6 1814.9h0M395.2 1779.5h0M420.9 1809.6h0M377.4 1766.9h0M415.4 1818.0h0M368.8 1762.1h0M397.6 1819.2h0M369.8 1812.4h0M371.2 1805.0h0M376.2 1817.4h0M378.6 1816.2h0M402.4 1790.8h0M375.9 1816.9h0M414.1 1812.1h0M395.4 1812.5h0M420.1 1815.7h0M382.4 1784.6h0M425.2 1807.2h0M380.4 1819.5h0M375.3 1818.1h0M390.3 1807.6h0M388.5 1814.4h0M401.5 1806.5h0M401.1 1803.3h0M399.8 1811.1h0M426.3 1805.0h0M397.1 1815.9h0M380.0 1796.5h0M399.1 1817.0h0M398.2 1818.3h0M419.7 1811.3h0M422.0 1811.0h0M395.8 1819.4h0M387.9 1818.8h0M381.9 1796.6h0M395.8 1819.2h0M396.2 1812.7h0M368.3 1817.8h0M382.0 1793.7h0M397.0 1771.1h0M370.5 1817.3h0M378.4 1778.4h0M423.7 1813.4h0M380.5 1817.4h0M371.7 1815.1h0M376.7 1817.7h0M396.3 1780.7h0M414.7 1815.3h0M396.1 1814.1h0M425.4 1817.0h0M417.7 1777.1h0M385.2 1784.8h0M417.2 1796.1h0M420.6 1808.3h0M387.9 1813.1h0M373.1 1773.2h0M391.5 1759.8h0M421.2 1759.0h0M388.4 1777.0h0M377.9 1782.0h0M365.8 1773.4h0M405.2 1763.9h0M400.1 1784.2h0M381.2 1788.9h0M376.5 1782.4h0M387.8 1757.0h0M391.1 1767.5h0M408.2 1790.4h0M425.6 1785.9h0M389.2 1775.7h0M395.7 1758.6h0M419.5 1783.2h0M386.9 1789.8h0M427.6 1779.7h0M421.1 1779.2h0M413.7 1771.1h0M390.9 1783.4h0M388.7 1774.3h0M419.3 1760.5h0M412.5 1785.5h0M421.8 1770.3h0M373.3 1766.1h0M402.6 1781.2h0M427.0 1770.8h0M392.6 1778.3h0M387.4 1775.4h0M369.1 1768.2h0M412.2 1760.3h0M425.0 1774.1h0M402.4 1782.1h0M424.1 1766.3h0M427.0 1773.7h0M368.9 1786.2h0M415.3 1770.5h0M396.0 1767.6h0M376.9 1784.9h0M408.4 1780.2h0M424.7 1762.9h0M378.8 1767.4h0M427.4 1764.8h0M381.1 1775.3h0M381.4 1775.7h0M413.6 1787.0h0M413.2 1789.2h0M406.8 1764.6h0M384.3 1762.3h0M383.2 1781.7h0M393.1 1775.2h0M378.4 1773.7h0M411.2 1768.9h0M367.4 1784.0h0M372.7 1790.0h0M411.5 1782.6h0M381.2 1759.6h0M381.1 1779.8h0M372.7 1780.3h0M412.8 1760.2h0M388.3 1766.9h0M386.1 1757.5h0M398.4 1760.2h0M384.1 1761.9h0M400.4 1764.6h0M392.1 1779.8h0M414.5 1769.9h0M422.9 1761.9h0M365.2 1820.1h0M366.3 1820.1h0M367.3 1820.1h0M368.4 1820.1h0M369.4 1820.1h0M370.5 1820.1h0M371.6 1820.1h0M372.6 1820.1h0M373.7 1820.1h0M374.7 1820.1h0M375.8 1820.1h0M376.9 1820.1h0M377.9 1820.1h0M379.0 1820.1h0M380.0 1820.1h0M381.1 1820.1h0M382.2 1820.1h0M383.2 1820.1h0M384.3 1820.1h0M385.3 1820.1h0M386.4 1820.1h0M387.5 1820.1h0M388.5 1820.1h0M389.6 1820.1h0M390.6 1820.1h0M391.7 1820.1h0M392.8 1820.1h0M393.8 1820.1h0M394.9 1820.1h0M395.9 1820.1h0M397.0 1820.1h0M398.1 1820.1h0M399.1 1820.1h0M400.2 1820.1h0M401.2 1820.1h0M402.3 1820.1h0M403.4 1820.1h0M404.4 1820.1h0M405.5 1820.1h0M406.5 1820.1h0M407.6 1820.1h0M408.7 1820.1h0M409.7 1820.1h0M410.8 1820.1h0M411.8 1820.1h0M412.9 1820.1h0M414.0 1820.1h0M415.0 1820.1h0M416.1 1820.1h0M417.1 1820.1h0M418.2 1820.1h0M419.3 1820.1h0M420.3 1820.1h0M421.4 1820.1h0M422.4 1820.1h0M423.5 1820.1h0M424.6 1820.1h0M425.6 1820.1h0M426.7 1820.1h0M427.8 1820.1h0M522.5 1574.7h0M515.9 1591.4h0M505.1 1603.2h0M519.0 1625.4h0M527.2 1624.9h0M518.3 1663.8h0M527.9 1667.3h0M531.5 1677.9h0M520.8 1700.8h0M531.9 1702.7h0M503.2 1709.7h0M503.6 1721.1h0M504.8 1725.1h0M527.9 1730.5h0M499.4 1739.2h0M510.2 1738.0h0M503.2 1742.7h0M515.4 1742.7h0M477.0 1747.0h0M490.7 1751.7h0M500.8 1752.9h0M515.9 1752.2h0M494.2 1758.8h0M522.0 1760.0h0M508.4 1760.9h0M503.6 1764.0h0M510.7 1766.3h0M517.8 1765.6h0M478.4 1765.8h0M496.6 1772.2h0M507.9 1774.6h0M513.1 1776.9h0M482.0 1778.6h0M493.7 1779.3h0M473.0 1780.9h0M497.3 1785.2h0M513.1 1786.4h0M474.2 1788.7h0M502.0 1788.7h0M510.2 1789.4h0M481.2 1793.4h0M486.4 1793.4h0M498.9 1795.8h0M494.2 1797.7h0M487.1 1801.7h0M478.9 1802.9h0M470.6 1806.4h0M500.6 1807.6h0M488.3 1808.0h0M473.7 1809.9h0M481.2 1811.8h0M488.3 1812.3h0M470.6 1815.8h0M477.7 1814.6h0M483.6 1815.8h0M490.7 1817.0h0M496.6 1815.8h0M501.3 1815.8h0M470.6 1820.1h0M475.4 1819.4h0M484.8 1819.4h0M489.5 1819.8h0M503.6 1820.1h0M473.5 1812.9h0M502.1 1803.7h0M495.7 1816.3h0M487.1 1812.1h0M495.4 1813.2h0M497.6 1785.1h0M477.1 1806.1h0M501.9 1813.6h0M471.0 1809.8h0M476.2 1800.1h0M508.7 1810.5h0M473.7 1808.9h0M492.0 1803.5h0M490.8 1806.7h0M504.0 1810.4h0M486.6 1781.2h0M478.2 1804.9h0M485.8 1801.2h0M484.3 1819.3h0M480.9 1813.4h0M470.0 1813.0h0M487.0 1804.3h0M484.1 1816.0h0M478.8 1802.3h0M508.6 1810.3h0M478.6 1798.8h0M485.8 1817.0h0M474.8 1800.4h0M503.2 1806.9h0M489.0 1809.2h0M484.2 1806.7h0M503.6 1797.8h0M489.0 1815.5h0M492.3 1818.3h0M504.2 1814.3h0M504.9 1816.0h0M485.1 1816.3h0" stroke="#999999" stroke-width="6.6" stroke-linecap="round" fill="none"/>
<path d="M275.2 1542.4h0M266.7 1563.6h0M243.3 1575.4h0M280.8 1586.3h0M228.5 1600.9h0M219.3 1611.5h0M270.9 1614.8h0M288.1 1620.2h0M289.8 1622.1h0M276.8 1631.5h0M247.8 1635.5h0M334.1 1636.0h0M228.0 1643.1h0M254.9 1645.7h0M265.0 1644.5h0M287.4 1652.7h0M254.4 1654.6h0M323.3 1650.9h0M328.7 1653.9h0M237.5 1666.2h0M232.5 1673.7h0M254.9 1670.2h0M284.6 1666.9h0M290.5 1665.5h0M310.1 1666.2h0M318.5 1661.9h0M326.3 1661.5h0M338.1 1669.2h0M287.4 1674.0h0M305.1 1675.6h0M364.0 1676.3h0M266.9 1681.5h0M294.5 1681.5h0M307.0 1683.9h0M334.1 1683.4h0M340.5 1684.3h0M346.4 1685.0h0M278.7 1690.0h0M293.3 1692.8h0M343.5 1694.0h0M253.2 1698.5h0M231.6 1701.5h0M276.8 1700.8h0M285.1 1703.2h0M295.7 1701.1h0M327.5 1699.2h0M335.3 1699.2h0M349.9 1699.9h0M316.9 1706.2h0M321.6 1704.6h0M347.5 1707.4h0M273.3 1709.8h0M266.2 1714.5h0M270.9 1718.0h0M276.1 1719.2h0M296.9 1713.3h0M301.6 1716.9h0M313.4 1715.7h0M346.4 1713.3h0M359.3 1715.7h0M365.2 1719.2h0M314.1 1721.6h0M348.7 1721.6h0M353.4 1722.7h0M361.7 1723.9h0M289.8 1726.8h0M302.7 1729.1h0M315.7 1727.5h0M320.4 1731.0h0M327.5 1729.8h0M347.5 1729.8h0M355.8 1731.0h0M286.2 1734.5h0M276.3 1737.6h0M314.1 1737.6h0M322.8 1738.1h0M338.1 1734.5h0M344.0 1736.9h0M360.5 1735.7h0M365.2 1734.5h0M333.4 1741.6h0M339.3 1742.8h0M353.4 1740.4h0M280.4 1748.7h0M287.4 1747.5h0M303.5 1747.0h0M328.7 1748.7h0M335.7 1749.9h0M361.7 1747.5h0M253.7 1751.5h0M295.7 1752.9h0M311.0 1753.4h0M319.2 1754.6h0M336.9 1754.6h0M341.6 1755.7h0M348.7 1754.6h0M355.8 1756.9h0M320.4 1759.3h0M327.5 1760.5h0M360.5 1759.3h0M291.0 1767.5h0M295.7 1764.0h0M298.0 1769.9h0M299.2 1773.4h0M318.1 1767.5h0M327.5 1765.2h0M346.4 1768.7h0M353.4 1768.7h0M362.9 1766.4h0M357.0 1773.4h0M348.7 1775.8h0M319.2 1778.1h0M358.1 1779.3h0M222.1 1780.5h0M285.1 1784.7h0M344.0 1782.9h0M353.4 1782.9h0M362.9 1784.0h0M325.1 1788.7h0M341.6 1788.7h0M351.1 1788.7h0M360.5 1789.9h0M292.1 1793.5h0M325.1 1794.6h0M340.5 1794.6h0M353.4 1795.8h0M361.7 1797.0h0M272.8 1799.4h0M322.8 1801.7h0M346.4 1800.5h0M355.8 1801.7h0M256.3 1804.8h0M285.8 1805.2h0M295.7 1807.6h0M301.1 1808.3h0M318.1 1806.4h0M332.2 1806.4h0M346.4 1806.4h0M359.3 1806.4h0M334.6 1811.1h0M347.5 1811.1h0M354.6 1810.0h0M362.9 1811.1h0M272.8 1815.4h0M308.6 1815.9h0M324.0 1815.9h0M336.9 1815.9h0M346.4 1815.9h0M355.8 1815.9h0M364.0 1814.7h0M362.2 1819.4h0M363.0 1754.9h0M358.0 1816.3h0M364.6 1819.1h0M350.8 1795.3h0M350.7 1787.2h0M363.8 1798.1h0M357.6 1778.1h0M348.1 1765.4h0M363.8 1770.2h0M346.1 1748.9h0M363.0 1814.4h0M362.9 1819.2h0M347.5 1778.9h0M352.0 1777.1h0M352.0 1811.7h0M363.1 1817.6h0M349.4 1814.4h0M358.5 1806.5h0M364.8 1812.8h0M359.3 1789.1h0M357.5 1810.6h0M345.1 1802.8h0M347.4 1796.4h0M364.6 1807.0h0M356.1 1783.5h0M358.0 1790.0h0M354.0 1814.1h0M347.2 1817.8h0M348.1 1815.5h0M365.2 1814.5h0M365.1 1803.5h0M355.0 1780.8h0M361.4 1803.3h0M358.0 1776.1h0M359.8 1749.1h0M359.3 1814.1h0M350.6 1803.1h0M362.9 1795.1h0M363.5 1781.9h0M350.7 1782.0h0M352.1 1809.3h0M356.8 1807.7h0M346.6 1817.9h0M346.7 1819.5h0M360.9 1812.6h0M346.4 1802.9h0M357.3 1767.0h0M360.3 1804.9h0M354.1 1785.5h0M349.5 1794.5h0M357.9 1810.3h0M362.0 1774.4h0M351.4 1786.7h0M361.7 1805.9h0M349.1 1798.8h0M362.6 1804.8h0M346.7 1813.4h0M361.2 1811.3h0M350.5 1774.3h0M362.0 1815.9h0M360.0 1810.4h0M354.3 1815.8h0M358.4 1814.9h0M344.9 1787.9h0M363.1 1739.2h0M363.1 1808.1h0M344.7 1781.0h0M349.9 1806.0h0M355.4 1753.5h0M359.9 1781.9h0M345.8 1793.2h0M345.2 1743.4h0M330.5 1762.5h0M333.6 1765.0h0M358.1 1755.7h0M344.9 1746.7h0M319.8 1767.2h0M336.5 1746.2h0M344.1 1780.4h0M329.1 1737.6h0M326.5 1749.4h0M322.5 1750.7h0M333.1 1765.6h0M349.5 1754.1h0" stroke="#20B2AA" stroke-width="6.6" stroke-linecap="round" fill="none"/>
<clipPath id="ce"><rect x="82" y="1215.9" width="740" height="640"/></clipPath>
<g clip-path="url(#ce)">
<path d="M549.2 1217.6h0M560.5 1217.6h0M565.3 1217.6h0M585.1 1217.6h0M612.5 1217.6h0M615.2 1217.6h0M618.0 1217.6h0M620.8 1217.6h0M623.5 1217.6h0M626.2 1217.6h0M629.0 1217.6h0M631.8 1217.6h0M634.5 1217.6h0M637.2 1217.6h0M640.0 1217.6h0M642.8 1217.6h0M645.5 1217.6h0M648.2 1217.6h0M651.0 1217.6h0M653.8 1217.6h0M656.5 1217.6h0M659.2 1217.6h0M662.0 1217.6h0M664.8 1217.6h0M667.5 1217.6h0M670.2 1217.6h0M673.0 1217.6h0M675.8 1217.6h0M678.5 1217.6h0M681.2 1217.6h0M684.0 1217.6h0M686.8 1217.6h0M689.5 1217.6h0M692.2 1217.6h0M695.0 1217.6h0M697.8 1217.6h0M700.5 1217.6h0M703.2 1217.6h0M706.0 1217.6h0M708.8 1217.6h0M712.5 1217.6h0M715.4 1217.6h0M718.3 1217.6h0M721.2 1217.6h0M724.1 1217.6h0M727.0 1217.6h0M729.9 1217.6h0M732.8 1217.6h0M735.7 1217.6h0M738.6 1217.6h0M742.0 1217.6h0M744.6 1217.6h0M747.2 1217.6h0M749.8 1217.6h0M752.4 1217.6h0M761.5 1217.6h0M771.0 1217.6h0M773.6 1217.6h0M781.2 1217.6h0M783.4 1217.6h0" stroke="#FF3030" stroke-width="6.6" stroke-linecap="round" fill="none"/>
</g>
<path d="M619.6 1326.1h0M705.9 1339.3h0M610.9 1374.9h0M623.9 1381.0h0M640.4 1384.3h0M647.0 1381.0h0M611.4 1401.1h0M628.1 1398.5h0M645.8 1398.0h0M562.1 1408.1h0M600.0 1420.6h0M628.1 1418.0h0M580.5 1442.5h0M602.6 1459.3h0M553.6 1486.6h0M602.2 1486.6h0M611.4 1494.2h0M596.0 1501.9h0M572.0 1515.9h0M611.4 1525.3h0M547.7 1531.9h0M573.9 1541.3h0M592.7 1542.5h0M618.4 1539.0h0M573.2 1557.1h0M552.7 1570.2h0M563.0 1575.4h0M560.7 1580.1h0M586.6 1580.3h0M545.4 1588.6h0M532.9 1603.0h0M538.5 1609.6h0M555.0 1611.2h0M557.9 1623.7h0M567.3 1623.2h0M571.3 1623.7h0M576.7 1633.1h0M544.9 1637.9h0M553.8 1636.0h0M546.5 1643.0h0M559.0 1642.6h0M587.8 1649.9h0M537.6 1658.6h0M554.6 1657.7h0M550.8 1662.6h0M553.6 1665.0h0M568.0 1667.1h0M541.8 1674.9h0M542.5 1677.9h0M536.6 1747.0h0M534.8 1752.9h0M564.2 1747.9h0M577.7 1783.5h0M546.1 1804.3h0" stroke="#FF3030" stroke-width="6.6" stroke-linecap="round" fill="none"/>
<path d="M560.7 1386.2L562.1 1407.4M602.6 1459.3L668.2 1455.7M540.2 1478.1L553.6 1486.6M526.0 1500.5L572.0 1515.9M616.3 1506.4L611.4 1525.3M516.6 1577.3L552.7 1570.2M573.4 1557.7L592.0 1575.4M562.6 1580.1L562.6 1597.8M586.6 1580.3L633.3 1600.8M534.8 1752.9L541.8 1769.9M555.0 1606.0L555.0 1615.5" stroke="#FF3030" stroke-width="1.2" fill="none"/>
<path d="M280.8 1586.3L302.0 1580.6M289.8 1620.7L302.0 1622.6" stroke="#20B2AA" stroke-width="1.2" fill="none"/>
<text x="616.3" y="1317.9" font-size="17.4" text-anchor="start" fill="#FF3030" >Eya4</text>
<text x="661.6" y="1359.6" font-size="17.4" text-anchor="start" fill="#FF3030" >Gabrb1</text>
<text x="570.3" y="1367.4" font-size="17.4" text-anchor="start" fill="#FF3030" >Elmo1</text>
<text x="510.7" y="1388.6" font-size="17.4" text-anchor="start" fill="#FF3030" >Tshz2</text>
<text x="565.6" y="1413.3" font-size="17.4" text-anchor="start" fill="#FF3030" >Sox5</text>
<text x="622.0" y="1438.1" font-size="17.4" text-anchor="start" fill="#FF3030" >Cldn5</text>
<text x="516.6" y="1455.0" font-size="17.4" text-anchor="start" fill="#FF3030" >Daam2</text>
<text x="671.0" y="1462.1" font-size="17.4" text-anchor="start" fill="#FF3030" >9530026P05Rik</text>
<text x="460.7" y="1481.7" font-size="17.4" text-anchor="start" fill="#FF3030" >Gm26883</text>
<text x="549.6" y="1478.6" font-size="17.4" text-anchor="start" fill="#FF3030" >Cers6</text>
<text x="610.2" y="1484.5" font-size="17.4" text-anchor="start" fill="#FF3030" >Tmtc1</text>
<text x="473.0" y="1506.4" font-size="17.4" text-anchor="start" fill="#FF3030" >Pde4b</text>
<text x="535.0" y="1506.4" font-size="17.4" text-anchor="start" fill="#FF3030" >Ptpn14</text>
<text x="619.6" y="1508.8" font-size="17.4" text-anchor="start" fill="#FF3030" >Rasl11a</text>
<text x="500.1" y="1530.7" font-size="17.4" text-anchor="start" fill="#FF3030" >Pdpn</text>
<text x="566.6" y="1533.5" font-size="17.4" text-anchor="start" fill="#FF3030" >Fmnl2</text>
<text x="626.7" y="1533.5" font-size="17.4" text-anchor="start" fill="#FF3030" >Nupr1</text>
<text x="510.7" y="1558.8" font-size="17.4" text-anchor="start" fill="#FF3030" >Zfp521</text>
<text x="602.6" y="1558.8" font-size="17.4" text-anchor="start" fill="#FF3030" >Colec12</text>
<text x="467.1" y="1583.6" font-size="17.4" text-anchor="start" fill="#FF3030" >Igfbp7</text>
<text x="594.4" y="1583.6" font-size="17.4" text-anchor="start" fill="#FF3030" >Med12l</text>
<text x="566.6" y="1607.2" font-size="17.4" text-anchor="start" fill="#FF3030" >Pknox2</text>
<text x="635.6" y="1607.2" font-size="17.4" text-anchor="start" fill="#FF3030" >Tm4sf1</text>
<text x="510.0" y="1617.1" font-size="17.4" text-anchor="start" fill="#FF3030" >Snx31</text>
<text x="536.6" y="1736.9" font-size="17.4" text-anchor="start" fill="#FF3030" >Btg2</text>
<text x="572.5" y="1760.9" font-size="17.4" text-anchor="start" fill="#FF3030" >Ackr3</text>
<text x="521.3" y="1784.5" font-size="17.4" text-anchor="start" fill="#FF3030" >Cd81</text>
<text x="578.4" y="1803.6" font-size="17.4" text-anchor="start" fill="#FF3030" >Luzp2</text>
<text x="511.4" y="1824.1" font-size="17.4" text-anchor="start" fill="#FF3030" >Fgfbp1</text>
<text x="269.3" y="1534.9" font-size="17.4" text-anchor="start" fill="#20B2AA" >Atxn1</text>
<text x="275.6" y="1562.5" font-size="17.4" text-anchor="start" fill="#20B2AA" >Thrb</text>
<text x="200.7" y="1566.5" font-size="17.4" text-anchor="start" fill="#20B2AA" >Kcnj16</text>
<text x="305.8" y="1585.6" font-size="17.4" text-anchor="start" fill="#20B2AA" >Fam13a</text>
<text x="196.0" y="1592.6" font-size="17.4" text-anchor="start" fill="#20B2AA" >Ghr</text>
<text x="236.7" y="1605.6" font-size="17.4" text-anchor="start" fill="#20B2AA" >Phyhipl</text>
<text x="188.0" y="1630.8" font-size="17.4" text-anchor="start" fill="#20B2AA" >Nhs</text>
<text x="305.8" y="1628.0" font-size="17.4" text-anchor="start" fill="#20B2AA" >Galnt18</text>
<text x="193.8" y="1662.6" font-size="17.4" text-anchor="start" fill="#20B2AA" >Lrp2</text>
<text x="336.5" y="1655.6" font-size="17.4" text-anchor="start" fill="#20B2AA" >Cadps2</text>
<text x="177.8" y="1772.7" font-size="17.4" text-anchor="start" fill="#20B2AA" >Mecom</text>
<path d="M82 1217V1848.4H814.6" fill="none" stroke="#000" stroke-width="1.4"/>
<path d="M114.8 1848.4v3.6" stroke="#333" stroke-width="1"/>
<text x="114.8" y="1867.3" font-size="14.6" text-anchor="middle" fill="#4D4D4D" >−4</text>
<path d="M281.7 1848.4v3.6" stroke="#333" stroke-width="1"/>
<text x="281.7" y="1867.3" font-size="14.6" text-anchor="middle" fill="#4D4D4D" >−2</text>
<path d="M448.6 1848.4v3.6" stroke="#333" stroke-width="1"/>
<text x="448.6" y="1867.3" font-size="14.6" text-anchor="middle" fill="#4D4D4D" >0</text>
<path d="M614.9 1848.4v3.6" stroke="#333" stroke-width="1"/>
<text x="614.9" y="1867.3" font-size="14.6" text-anchor="middle" fill="#4D4D4D" >2</text>
<path d="M781.8 1848.4v3.6" stroke="#333" stroke-width="1"/>
<text x="781.8" y="1867.3" font-size="14.6" text-anchor="middle" fill="#4D4D4D" >4</text>
<path d="M78.4 1820.1H82" stroke="#333" stroke-width="1"/>
<text x="74.4" y="1825.3" font-size="14.6" text-anchor="end" fill="#4D4D4D" >0</text>
<path d="M78.4 1655.5H82" stroke="#333" stroke-width="1"/>
<text x="74.4" y="1660.7" font-size="14.6" text-anchor="end" fill="#4D4D4D" >100</text>
<path d="M78.4 1491.5H82" stroke="#333" stroke-width="1"/>
<text x="74.4" y="1496.7" font-size="14.6" text-anchor="end" fill="#4D4D4D" >200</text>
<path d="M78.4 1326.8H82" stroke="#333" stroke-width="1"/>
<text x="74.4" y="1332.0" font-size="14.6" text-anchor="end" fill="#4D4D4D" >300</text>
<text x="448.6" y="1888.0" font-size="17.7" text-anchor="middle" fill="#000" >avg_log2FC (podocyte/non−podocyte)</text>
<text x="43.3" y="1533.6" font-size="17.5" text-anchor="middle" fill="#000" transform="rotate(-90 43.3 1533.6)" >−log10(adjPvalue)</text>
<circle cx="856" cy="1509.6" r="3.3" fill="#FF3030"/>
<text x="856.0" y="1514.9" font-size="12.5" text-anchor="middle" fill="#FF3030" font-weight="bold" >a</text>
<text x="878.5" y="1515.0" font-size="14.3" text-anchor="start" fill="#000" >Up</text>
<circle cx="856" cy="1537.4" r="3.3" fill="#20B2AA"/>
<text x="856.0" y="1542.7" font-size="12.5" text-anchor="middle" fill="#20B2AA" font-weight="bold" >a</text>
<text x="878.5" y="1542.8" font-size="14.3" text-anchor="start" fill="#000" >Down</text>
<circle cx="856" cy="1565.1" r="3.3" fill="#999999"/>
<text x="856.0" y="1570.4" font-size="12.5" text-anchor="middle" fill="#999999" font-weight="bold" >a</text>
<text x="878.5" y="1570.5" font-size="14.3" text-anchor="start" fill="#000" >Not Sig</text>
</g>
<g id="pf">
<rect x="1250.4" y="1165.8" width="574.3" height="426.2" fill="#fff"/>
<path d="M1341.7 1165.8V1592.0M1495.3 1165.8V1592.0M1649.5 1165.8V1592.0M1803.0 1165.8V1592.0" stroke="#EEEEEE" stroke-width="0.8"/>
<path d="M1264.6 1165.8V1592.0M1418.2 1165.8V1592.0M1572.4 1165.8V1592.0M1726.0 1165.8V1592.0M1250.4 1190.7H1824.7M1250.4 1232.7H1824.7M1250.4 1274.6H1824.7M1250.4 1316.5H1824.7M1250.4 1358.5H1824.7M1250.4 1400.5H1824.7M1250.4 1442.4H1824.7M1250.4 1484.4H1824.7M1250.4 1526.3H1824.7M1250.4 1568.2H1824.7" stroke="#E4E4E4" stroke-width="1.2"/>
<circle cx="1732.3" cy="1190.7" r="11.2" fill="#FF0000"/>
<path d="M1250.4 1190.7h-3.4" stroke="#222" stroke-width="1.1"/>
<text x="1243.8" y="1196.0" font-size="15.2" text-anchor="end" fill="#000" >anion transport</text>
<circle cx="1707.3" cy="1232.7" r="11.2" fill="#FF0000"/>
<path d="M1250.4 1232.7h-3.4" stroke="#222" stroke-width="1.1"/>
<text x="1243.8" y="1238.0" font-size="15.2" text-anchor="end" fill="#000" >urogenital system development</text>
<circle cx="1641.0" cy="1274.6" r="10.7" fill="#FF0000"/>
<path d="M1250.4 1274.6h-3.4" stroke="#222" stroke-width="1.1"/>
<text x="1243.8" y="1279.9" font-size="15.2" text-anchor="end" fill="#000" >renal system development</text>
<circle cx="1641.0" cy="1316.5" r="10.7" fill="#FF0000"/>
<path d="M1250.4 1316.5h-3.4" stroke="#222" stroke-width="1.1"/>
<text x="1243.8" y="1321.8" font-size="15.2" text-anchor="end" fill="#000" >synapse organization</text>
<circle cx="1624.0" cy="1358.5" r="10.6" fill="#FF0000"/>
<path d="M1250.4 1358.5h-3.4" stroke="#222" stroke-width="1.1"/>
<text x="1243.8" y="1363.8" font-size="15.2" text-anchor="end" fill="#000" >kidney development</text>
<circle cx="1582.6" cy="1400.5" r="10.1" fill="#FF0000"/>
<path d="M1250.4 1400.5h-3.4" stroke="#222" stroke-width="1.1"/>
<text x="1243.8" y="1397.5" font-size="15.2" text-anchor="end" fill="#000" >regulation of epithelial</text>
<text x="1243.8" y="1414.0" font-size="15.2" text-anchor="end" fill="#000" >cell proliferation</text>
<circle cx="1582.6" cy="1442.4" r="10.1" fill="#FF0000"/>
<path d="M1250.4 1442.4h-3.4" stroke="#222" stroke-width="1.1"/>
<text x="1243.8" y="1447.7" font-size="15.2" text-anchor="end" fill="#000" >cell junction assembly</text>
<circle cx="1574.1" cy="1484.4" r="10.0" fill="#FF0000"/>
<path d="M1250.4 1484.4h-3.4" stroke="#222" stroke-width="1.1"/>
<text x="1243.8" y="1489.7" font-size="15.2" text-anchor="end" fill="#000" >organic anion transport</text>
<circle cx="1524.8" cy="1526.3" r="9.5" fill="#FF0000"/>
<path d="M1250.4 1526.3h-3.4" stroke="#222" stroke-width="1.1"/>
<text x="1243.8" y="1531.6" font-size="15.2" text-anchor="end" fill="#000" >steroid metabolic process</text>
<circle cx="1417.1" cy="1568.2" r="8.3" fill="#FF0000"/>
<path d="M1250.4 1568.2h-3.4" stroke="#222" stroke-width="1.1"/>
<text x="1243.8" y="1573.5" font-size="15.2" text-anchor="end" fill="#000" >nephron development</text>
<rect x="1250.4" y="1165.8" width="574.3" height="426.2" fill="none" stroke="#333" stroke-width="1.05"/>
<rect x="1824.7" y="1165.8" width="21.9" height="426.2" fill="#D9D9D9" stroke="#333" stroke-width="1.05"/>
<text x="1831.7" y="1377.9" font-size="11.2" text-anchor="middle" fill="#1A1A1A" transform="rotate(90 1831.7 1377.9)" >BP</text>
<rect x="1250.4" y="1601.0" width="574.3" height="427.3" fill="#fff"/>
<path d="M1341.7 1601.0V2028.3M1495.3 1601.0V2028.3M1649.5 1601.0V2028.3M1803.0 1601.0V2028.3" stroke="#EEEEEE" stroke-width="0.8"/>
<path d="M1264.6 1601.0V2028.3M1418.2 1601.0V2028.3M1572.4 1601.0V2028.3M1726.0 1601.0V2028.3M1250.4 1625.5H1824.7M1250.4 1667.5H1824.7M1250.4 1709.4H1824.7M1250.4 1751.3H1824.7M1250.4 1793.3H1824.7M1250.4 1835.2H1824.7M1250.4 1877.2H1824.7M1250.4 1919.2H1824.7M1250.4 1961.1H1824.7M1250.4 2003.0H1824.7" stroke="#E4E4E4" stroke-width="1.2"/>
<circle cx="1798.0" cy="1625.5" r="11.9" fill="#FF0000"/>
<path d="M1250.4 1625.5h-3.4" stroke="#222" stroke-width="1.1"/>
<text x="1243.8" y="1630.8" font-size="15.2" text-anchor="end" fill="#000" >apical part of cell</text>
<circle cx="1675.0" cy="1667.5" r="10.9" fill="#FF0000"/>
<path d="M1250.4 1667.5h-3.4" stroke="#222" stroke-width="1.1"/>
<text x="1243.8" y="1672.8" font-size="15.2" text-anchor="end" fill="#000" >apical plasma membrane</text>
<circle cx="1658.6" cy="1709.4" r="10.7" fill="#FF0000"/>
<path d="M1250.4 1709.4h-3.4" stroke="#222" stroke-width="1.1"/>
<text x="1243.8" y="1714.7" font-size="15.2" text-anchor="end" fill="#000" >synaptic membrane</text>
<circle cx="1625.7" cy="1751.3" r="10.6" fill="#FF0000"/>
<path d="M1250.4 1751.3h-3.4" stroke="#222" stroke-width="1.1"/>
<text x="1243.8" y="1756.6" font-size="15.2" text-anchor="end" fill="#000" >basal part of cell</text>
<circle cx="1617.8" cy="1793.3" r="10.4" fill="#FF0000"/>
<path d="M1250.4 1793.3h-3.4" stroke="#222" stroke-width="1.1"/>
<text x="1243.8" y="1798.6" font-size="15.2" text-anchor="end" fill="#000" >basal plasma membrane</text>
<circle cx="1585.4" cy="1835.2" r="10.3" fill="#FF0000"/>
<path d="M1250.4 1835.2h-3.4" stroke="#222" stroke-width="1.1"/>
<text x="1243.8" y="1840.5" font-size="15.2" text-anchor="end" fill="#000" >basolateral plasma membrane</text>
<circle cx="1560.5" cy="1877.2" r="10.0" fill="#FF0000"/>
<path d="M1250.4 1877.2h-3.4" stroke="#222" stroke-width="1.1"/>
<text x="1243.8" y="1874.2" font-size="15.2" text-anchor="end" fill="#000" >collagen−containing</text>
<text x="1243.8" y="1890.8" font-size="15.2" text-anchor="end" fill="#000" >extracellular matrix</text>
<circle cx="1544.0" cy="1919.2" r="9.8" fill="#FF0000"/>
<path d="M1250.4 1919.2h-3.4" stroke="#222" stroke-width="1.1"/>
<text x="1243.8" y="1924.5" font-size="15.2" text-anchor="end" fill="#000" >postsynaptic membrane</text>
<circle cx="1454.0" cy="1961.1" r="9.2" fill="#FF0000"/>
<path d="M1250.4 1961.1h-3.4" stroke="#222" stroke-width="1.1"/>
<text x="1243.8" y="1958.1" font-size="15.2" text-anchor="end" fill="#000" >intrinsic component of</text>
<text x="1243.8" y="1974.7" font-size="15.2" text-anchor="end" fill="#000" >synaptic membrane</text>
<circle cx="1396.7" cy="2003.0" r="8.3" fill="#FF0000"/>
<path d="M1250.4 2003.0h-3.4" stroke="#222" stroke-width="1.1"/>
<text x="1243.8" y="2000.0" font-size="15.2" text-anchor="end" fill="#000" >intrinsic component of</text>
<text x="1243.8" y="2016.6" font-size="15.2" text-anchor="end" fill="#000" >postsynaptic membrane</text>
<rect x="1250.4" y="1601.0" width="574.3" height="427.3" fill="none" stroke="#333" stroke-width="1.05"/>
<rect x="1824.7" y="1601.0" width="21.9" height="427.3" fill="#D9D9D9" stroke="#333" stroke-width="1.05"/>
<text x="1831.7" y="1813.7" font-size="11.2" text-anchor="middle" fill="#1A1A1A" transform="rotate(90 1831.7 1813.7)" >CC</text>
<rect x="1250.4" y="2035.7" width="574.3" height="426.8" fill="#fff"/>
<path d="M1341.7 2035.7V2462.5M1495.3 2035.7V2462.5M1649.5 2035.7V2462.5M1803.0 2035.7V2462.5" stroke="#EEEEEE" stroke-width="0.8"/>
<path d="M1264.6 2035.7V2462.5M1418.2 2035.7V2462.5M1572.4 2035.7V2462.5M1726.0 2035.7V2462.5M1250.4 2060.6H1824.7M1250.4 2102.5H1824.7M1250.4 2144.5H1824.7M1250.4 2186.4H1824.7M1250.4 2228.4H1824.7M1250.4 2270.3H1824.7M1250.4 2312.3H1824.7M1250.4 2354.2H1824.7M1250.4 2396.2H1824.7M1250.4 2438.2H1824.7" stroke="#E4E4E4" stroke-width="1.2"/>
<circle cx="1615.5" cy="2060.6" r="10.6" fill="#FF0000"/>
<path d="M1250.4 2060.6h-3.4" stroke="#222" stroke-width="1.1"/>
<text x="1243.8" y="2057.6" font-size="15.2" text-anchor="end" fill="#000" >active transmembrane</text>
<text x="1243.8" y="2074.2" font-size="15.2" text-anchor="end" fill="#000" >transporter activity</text>
<circle cx="1599.0" cy="2102.5" r="10.3" fill="#FF0000"/>
<path d="M1250.4 2102.5h-3.4" stroke="#222" stroke-width="1.1"/>
<text x="1243.8" y="2099.5" font-size="15.2" text-anchor="end" fill="#000" >metal ion transmembrane</text>
<text x="1243.8" y="2116.2" font-size="15.2" text-anchor="end" fill="#000" >transporter activity</text>
<circle cx="1507.8" cy="2144.5" r="9.7" fill="#FF0000"/>
<path d="M1250.4 2144.5h-3.4" stroke="#222" stroke-width="1.1"/>
<text x="1243.8" y="2133.2" font-size="15.2" text-anchor="end" fill="#000" >secondary active</text>
<text x="1243.8" y="2149.8" font-size="15.2" text-anchor="end" fill="#000" >transmembrane transporter</text>
<text x="1243.8" y="2166.4" font-size="15.2" text-anchor="end" fill="#000" >activity</text>
<circle cx="1474.9" cy="2186.4" r="9.5" fill="#FF0000"/>
<path d="M1250.4 2186.4h-3.4" stroke="#222" stroke-width="1.1"/>
<text x="1243.8" y="2183.4" font-size="15.2" text-anchor="end" fill="#000" >anion transmembrane</text>
<text x="1243.8" y="2200.1" font-size="15.2" text-anchor="end" fill="#000" >transporter activity</text>
<circle cx="1474.9" cy="2228.4" r="9.5" fill="#FF0000"/>
<path d="M1250.4 2228.4h-3.4" stroke="#222" stroke-width="1.1"/>
<text x="1243.8" y="2233.7" font-size="15.2" text-anchor="end" fill="#000" >cell adhesion molecule binding</text>
<circle cx="1458.5" cy="2270.3" r="9.2" fill="#FF0000"/>
<path d="M1250.4 2270.3h-3.4" stroke="#222" stroke-width="1.1"/>
<text x="1243.8" y="2267.3" font-size="15.2" text-anchor="end" fill="#000" >active ion transmembrane</text>
<text x="1243.8" y="2284.0" font-size="15.2" text-anchor="end" fill="#000" >transporter activity</text>
<circle cx="1425.0" cy="2312.3" r="8.8" fill="#FF0000"/>
<path d="M1250.4 2312.3h-3.4" stroke="#222" stroke-width="1.1"/>
<text x="1243.8" y="2301.0" font-size="15.2" text-anchor="end" fill="#000" >carboxylic acid</text>
<text x="1243.8" y="2317.6" font-size="15.2" text-anchor="end" fill="#000" >transmembrane transporter</text>
<text x="1243.8" y="2334.2" font-size="15.2" text-anchor="end" fill="#000" >activity</text>
<circle cx="1425.0" cy="2354.2" r="8.8" fill="#FF0000"/>
<path d="M1250.4 2354.2h-3.4" stroke="#222" stroke-width="1.1"/>
<text x="1243.8" y="2351.2" font-size="15.2" text-anchor="end" fill="#000" >organic acid transmembrane</text>
<text x="1243.8" y="2367.9" font-size="15.2" text-anchor="end" fill="#000" >transporter activity</text>
<circle cx="1375.7" cy="2396.2" r="8.3" fill="#FF0000"/>
<path d="M1250.4 2396.2h-3.4" stroke="#222" stroke-width="1.1"/>
<text x="1243.8" y="2401.5" font-size="15.2" text-anchor="end" fill="#000" >symporter activity</text>
<circle cx="1275.9" cy="2438.2" r="5.2" fill="#1010F5"/>
<path d="M1250.4 2438.2h-3.4" stroke="#222" stroke-width="1.1"/>
<text x="1243.8" y="2426.9" font-size="15.2" text-anchor="end" fill="#000" >monocarboxylic acid</text>
<text x="1243.8" y="2443.5" font-size="15.2" text-anchor="end" fill="#000" >transmembrane transporter</text>
<text x="1243.8" y="2460.1" font-size="15.2" text-anchor="end" fill="#000" >activity</text>
<rect x="1250.4" y="2035.7" width="574.3" height="426.8" fill="none" stroke="#333" stroke-width="1.05"/>
<rect x="1824.7" y="2035.7" width="21.9" height="426.8" fill="#D9D9D9" stroke="#333" stroke-width="1.05"/>
<text x="1831.7" y="2248.1" font-size="11.2" text-anchor="middle" fill="#1A1A1A" transform="rotate(90 1831.7 2248.1)" >MF</text>
<path d="M1264.6 2462.5v3.4" stroke="#222" stroke-width="1.1"/>
<text x="1264.6" y="2481.0" font-size="15.2" text-anchor="middle" fill="#000" >0.02</text>
<path d="M1418.2 2462.5v3.4" stroke="#222" stroke-width="1.1"/>
<text x="1418.2" y="2481.0" font-size="15.2" text-anchor="middle" fill="#000" >0.04</text>
<path d="M1572.4 2462.5v3.4" stroke="#222" stroke-width="1.1"/>
<text x="1572.4" y="2481.0" font-size="15.2" text-anchor="middle" fill="#000" >0.06</text>
<path d="M1726.0 2462.5v3.4" stroke="#222" stroke-width="1.1"/>
<text x="1726.0" y="2481.0" font-size="15.2" text-anchor="middle" fill="#000" >0.08</text>
<text x="1537.3" y="2498.5" font-size="15.5" text-anchor="middle" fill="#000" >GeneRatio</text>
<text x="1867.2" y="1689.0" font-size="14.5" text-anchor="start" fill="#000" >Count</text>
<circle cx="1881.4" cy="1707.7" r="5.0" fill="#000"/>
<text x="1902.3" y="1711.9" font-size="11.8" text-anchor="start" fill="#000" >20</text>
<circle cx="1881.4" cy="1729.8" r="8.8" fill="#000"/>
<text x="1902.3" y="1734.0" font-size="11.8" text-anchor="start" fill="#000" >40</text>
<circle cx="1881.4" cy="1753.6" r="10.3" fill="#000"/>
<text x="1902.3" y="1757.8" font-size="11.8" text-anchor="start" fill="#000" >60</text>
<circle cx="1881.4" cy="1780.1" r="11.4" fill="#000"/>
<text x="1902.3" y="1784.3" font-size="11.8" text-anchor="start" fill="#000" >80</text>
<text x="1867.2" y="1833.8" font-size="14.5" text-anchor="start" fill="#000" >p.adjust</text>
<defs><linearGradient id="gf" x1="0" y1="0" x2="0" y2="1"><stop offset="0" stop-color="#2A00FF"/><stop offset="0.25" stop-color="#8E00C6"/><stop offset="0.5" stop-color="#BE0088"/><stop offset="0.75" stop-color="#E3004B"/><stop offset="1" stop-color="#FF0000"/></linearGradient></defs>
<rect x="1867.2" y="1842.4" width="22.1" height="108.8" fill="url(#gf)"/>
<path d="M1867.2 1862.8h4.4M1889.3 1862.8h-4.4" stroke="#fff" stroke-width="0.6"/>
<text x="1896.1" y="1867.0" font-size="11.8" text-anchor="start" fill="#000" >6e−13</text>
<path d="M1867.2 1892.2h4.4M1889.3 1892.2h-4.4" stroke="#fff" stroke-width="0.6"/>
<text x="1896.1" y="1896.4" font-size="11.8" text-anchor="start" fill="#000" >4e−13</text>
<path d="M1867.2 1921.7h4.4M1889.3 1921.7h-4.4" stroke="#fff" stroke-width="0.6"/>
<text x="1896.1" y="1925.9" font-size="11.8" text-anchor="start" fill="#000" >2e−13</text>
</g>
<g id="pg">
<rect x="314.5" y="1943.6" width="444.9" height="497.2" fill="#fff"/>
<path d="M335.7 1943.6V2440.8M412.1 1943.6V2440.8M488.5 1943.6V2440.8M564.9 1943.6V2440.8M640.9 1943.6V2440.8M717.0 1943.6V2440.8" stroke="#EEEEEE" stroke-width="0.8"/>
<path d="M373.9 1943.6V2440.8M450.3 1943.6V2440.8M526.7 1943.6V2440.8M603.0 1943.6V2440.8M678.8 1943.6V2440.8M755.2 1943.6V2440.8M314.5 1973.0H759.4M314.5 2021.8H759.4M314.5 2070.7H759.4M314.5 2119.5H759.4M314.5 2168.3H759.4M314.5 2217.2H759.4M314.5 2266.0H759.4M314.5 2314.8H759.4M314.5 2363.6H759.4M314.5 2412.5H759.4" stroke="#E4E4E4" stroke-width="1.2"/>
<circle cx="739.4" cy="1973.0" r="12.9" fill="#EE0F2E"/>
<path d="M314.5 1973.0h-3.4" stroke="#222" stroke-width="1.1"/>
<text x="307.2" y="1978.5" font-size="15.9" text-anchor="end" fill="#000" >PI3K−Akt signaling pathway</text>
<circle cx="599.1" cy="2021.8" r="11.1" fill="#F70A1C"/>
<path d="M314.5 2021.8h-3.4" stroke="#222" stroke-width="1.1"/>
<text x="307.2" y="2027.3" font-size="15.9" text-anchor="end" fill="#000" >Calcium signaling pathway</text>
<circle cx="583.2" cy="2070.7" r="11.1" fill="#FB0510"/>
<path d="M314.5 2070.7h-3.4" stroke="#222" stroke-width="1.1"/>
<text x="307.2" y="2076.2" font-size="15.9" text-anchor="end" fill="#000" >Rap1 signaling pathway</text>
<circle cx="583.2" cy="2119.5" r="11.1" fill="#F50C24"/>
<path d="M314.5 2119.5h-3.4" stroke="#222" stroke-width="1.1"/>
<text x="307.2" y="2125.0" font-size="15.9" text-anchor="end" fill="#000" >Ras signaling pathway</text>
<circle cx="489.9" cy="2168.3" r="10.0" fill="#DC1E6E"/>
<path d="M314.5 2168.3h-3.4" stroke="#222" stroke-width="1.1"/>
<text x="307.2" y="2173.8" font-size="15.9" text-anchor="end" fill="#000" >Axon guidance</text>
<circle cx="427.1" cy="2217.2" r="9.2" fill="#6808E6"/>
<path d="M314.5 2217.2h-3.4" stroke="#222" stroke-width="1.1"/>
<text x="307.2" y="2214.1" font-size="15.9" text-anchor="end" fill="#000" >Phospholipase D signaling</text>
<text x="307.2" y="2231.2" font-size="15.9" text-anchor="end" fill="#000" >pathway</text>
<circle cx="349.6" cy="2266.0" r="6.8" fill="#FF1014"/>
<path d="M314.5 2266.0h-3.4" stroke="#222" stroke-width="1.1"/>
<text x="307.2" y="2262.9" font-size="15.9" text-anchor="end" fill="#000" >Arrhythmogenic right</text>
<text x="307.2" y="2280.1" font-size="15.9" text-anchor="end" fill="#000" >ventricular cardiomyopathy</text>
<circle cx="349.6" cy="2314.8" r="6.8" fill="#0606FF"/>
<path d="M314.5 2314.8h-3.4" stroke="#222" stroke-width="1.1"/>
<text x="307.2" y="2320.3" font-size="15.9" text-anchor="end" fill="#000" >Bile secretion</text>
<circle cx="333.8" cy="2363.6" r="5.3" fill="#A612B0"/>
<path d="M314.5 2363.6h-3.4" stroke="#222" stroke-width="1.1"/>
<text x="307.2" y="2369.1" font-size="15.9" text-anchor="end" fill="#000" >Peroxisome</text>
<circle cx="333.8" cy="2412.5" r="5.3" fill="#6E0CE4"/>
<path d="M314.5 2412.5h-3.4" stroke="#222" stroke-width="1.1"/>
<text x="307.2" y="2418.0" font-size="15.9" text-anchor="end" fill="#000" >PPAR signaling pathway</text>
<rect x="314.5" y="1943.6" width="444.9" height="497.2" fill="none" stroke="#333" stroke-width="1.05"/>
<path d="M373.9 2440.8v3.4" stroke="#222" stroke-width="1.1"/>
<text x="373.9" y="2460.0" font-size="15.5" text-anchor="middle" fill="#000" >0.04</text>
<path d="M450.3 2440.8v3.4" stroke="#222" stroke-width="1.1"/>
<text x="450.3" y="2460.0" font-size="15.5" text-anchor="middle" fill="#000" >0.05</text>
<path d="M526.7 2440.8v3.4" stroke="#222" stroke-width="1.1"/>
<text x="526.7" y="2460.0" font-size="15.5" text-anchor="middle" fill="#000" >0.06</text>
<path d="M603.0 2440.8v3.4" stroke="#222" stroke-width="1.1"/>
<text x="603.0" y="2460.0" font-size="15.5" text-anchor="middle" fill="#000" >0.07</text>
<path d="M678.8 2440.8v3.4" stroke="#222" stroke-width="1.1"/>
<text x="678.8" y="2460.0" font-size="15.5" text-anchor="middle" fill="#000" >0.08</text>
<path d="M755.2 2440.8v3.4" stroke="#222" stroke-width="1.1"/>
<text x="755.2" y="2460.0" font-size="15.5" text-anchor="middle" fill="#000" >0.09</text>
<text x="536.3" y="2478.5" font-size="15.9" text-anchor="middle" fill="#000" >GeneRatio</text>
<text x="781.8" y="2047.8" font-size="14.8" text-anchor="start" fill="#000" >Count</text>
<circle cx="796" cy="2068.6" r="7.7" fill="#000"/>
<text x="818.0" y="2072.9" font-size="12" text-anchor="start" fill="#000" >20</text>
<circle cx="796" cy="2091.8" r="9.3" fill="#000"/>
<text x="818.0" y="2096.1" font-size="12" text-anchor="start" fill="#000" >25</text>
<circle cx="796" cy="2115.5" r="10.3" fill="#000"/>
<text x="818.0" y="2119.8" font-size="12" text-anchor="start" fill="#000" >30</text>
<circle cx="796" cy="2141.0" r="11.3" fill="#000"/>
<text x="818.0" y="2145.3" font-size="12" text-anchor="start" fill="#000" >35</text>
<circle cx="796" cy="2169.3" r="12.2" fill="#000"/>
<text x="818.0" y="2173.6" font-size="12" text-anchor="start" fill="#000" >40</text>
<text x="781.8" y="2225.4" font-size="14.8" text-anchor="start" fill="#000" >p.adjust</text>
<rect x="781.8" y="2234.9" width="23.3" height="114.3" fill="url(#gf)"/>
<path d="M781.8 2240.6h4.5M805.1 2240.6h-4.5" stroke="#fff" stroke-width="0.6"/>
<text x="811.8" y="2244.9" font-size="12" text-anchor="start" fill="#000" >0.00016</text>
<path d="M781.8 2270.0h4.5M805.1 2270.0h-4.5" stroke="#fff" stroke-width="0.6"/>
<text x="811.8" y="2274.3" font-size="12" text-anchor="start" fill="#000" >0.00012</text>
<path d="M781.8 2299.4h4.5M805.1 2299.4h-4.5" stroke="#fff" stroke-width="0.6"/>
<text x="811.8" y="2303.7" font-size="12" text-anchor="start" fill="#000" >0.00008</text>
<path d="M781.8 2328.8h4.5M805.1 2328.8h-4.5" stroke="#fff" stroke-width="0.6"/>
<text x="811.8" y="2333.1" font-size="12" text-anchor="start" fill="#000" >0.00004</text>
</g>
</svg>
</body></html>
